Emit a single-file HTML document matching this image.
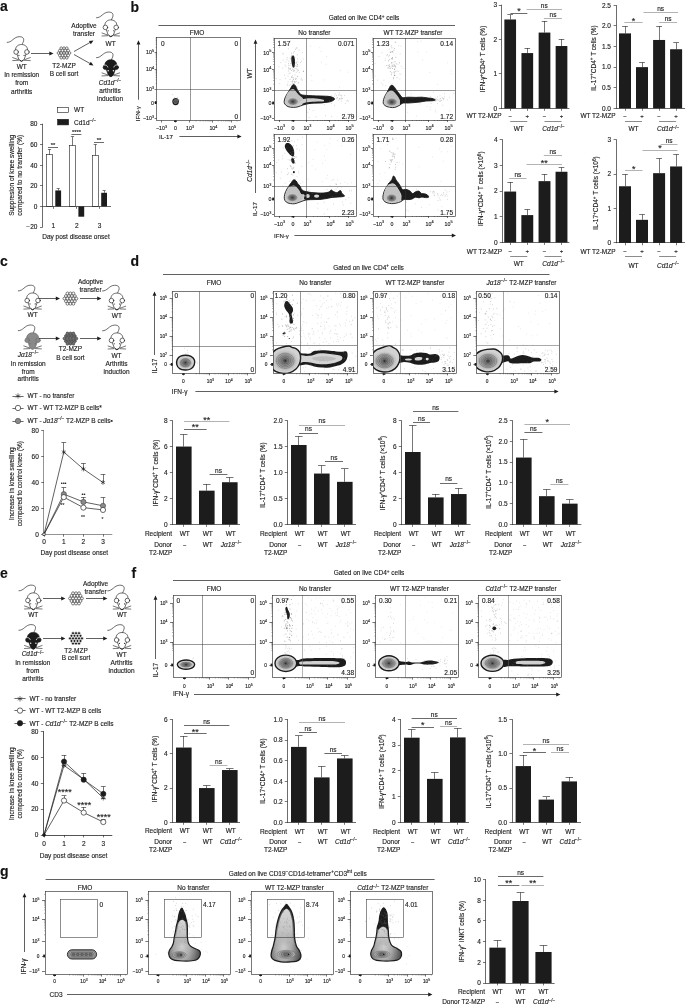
<!DOCTYPE html>
<html><head><meta charset="utf-8"><title>Figure</title>
<style>
html,body{margin:0;padding:0;background:#fff}
svg{display:block}
text{font-family:"Liberation Sans",sans-serif;stroke:#1c1c1c;stroke-width:.14px}
</style></head><body>
<svg width="685" height="1005" viewBox="0 0 685 1005">
<rect width="685" height="1005" fill="#fff"/>
<g font-family="Liberation Sans, sans-serif" font-size="6.5" fill="#1c1c1c">
<text font-weight="bold" fill="#111" font-size="14.00" x="0.00" y="11.00">a</text>
<text font-weight="bold" fill="#111" font-size="14.00" x="130.50" y="11.50">b</text>
<text font-weight="bold" fill="#111" font-size="14.00" x="0.00" y="266.00">c</text>
<text font-weight="bold" fill="#111" font-size="14.00" x="130.50" y="266.00">d</text>
<text font-weight="bold" fill="#111" font-size="14.00" x="0.00" y="577.60">e</text>
<text font-weight="bold" fill="#111" font-size="14.00" x="131.50" y="577.60">f</text>
<text font-weight="bold" fill="#111" font-size="14.00" x="0.00" y="876.00">g</text>
<g transform="translate(21.50 52.00) scale(1.000)" stroke="#1c1c1c" stroke-width="0.65" fill="none" stroke-linecap="round" stroke-linejoin="round">
<path d="M-14.3,-9.6 C-9.5,-9.4 -8,-15 -2.5,-15.3 C1.5,-15.4 2.6,-13.6 2.1,-11.2 C1.8,-9.6 1,-9 0.6,-7.4"/>
<path d="M-6,-1.8 C-6.2,-5.6 -3.2,-7.5 0,-7.5 C3.2,-7.5 6.2,-5.6 6,-1.8 L4.6,2 L2.6,7.6 Q0,10.6 -2.6,7.6 L-4.6,2 Z" fill="#fff" stroke="#1c1c1c"/>
<circle cx="-5.4" cy="0" r="2.3" fill="#fff" stroke="#1c1c1c"/>
<circle cx="5.4" cy="0" r="2.3" fill="#fff" stroke="#1c1c1c"/>
<circle cx="-2.6" cy="3.4" r="0.55" fill="#1c1c1c" stroke="none"/><circle cx="2.6" cy="3.4" r="0.55" fill="#1c1c1c" stroke="none"/>
<path d="M-8.8,5.6 L-3.2,7.6 M-8.8,8.6 L-3,8.3 M8.8,5.6 L3.2,7.6 M8.8,8.6 L3,8.3" stroke-width="0.6"/>
<path d="M-1.6,8.6 Q0,10.4 1.6,8.6" stroke-width="0.9"/>
</g>
<text text-anchor="middle" x="21.70" y="69.00">WT</text>
<text text-anchor="middle" x="21.70" y="77.40">In remission</text>
<text text-anchor="middle" x="21.70" y="85.40">from</text>
<text text-anchor="middle" x="21.70" y="93.60">arthritis</text>
<line x1="31.00" y1="53.50" x2="49.80" y2="53.50" stroke="#1c1c1c" stroke-width="0.70"/>
<polygon points="53.50,53.50 49.30,55.40 49.30,51.60" fill="#1c1c1c"/>
<g fill="#fff" stroke="#1c1c1c" stroke-width="0.55">
<circle cx="61.20" cy="48.15" r="1.30"/>
<circle cx="64.00" cy="48.15" r="1.30"/>
<circle cx="66.80" cy="48.15" r="1.30"/>
<circle cx="59.80" cy="50.58" r="1.30"/>
<circle cx="62.60" cy="50.58" r="1.30"/>
<circle cx="65.40" cy="50.58" r="1.30"/>
<circle cx="68.20" cy="50.58" r="1.30"/>
<circle cx="58.40" cy="53.00" r="1.30"/>
<circle cx="61.20" cy="53.00" r="1.30"/>
<circle cx="64.00" cy="53.00" r="1.30"/>
<circle cx="66.80" cy="53.00" r="1.30"/>
<circle cx="69.60" cy="53.00" r="1.30"/>
<circle cx="59.80" cy="55.42" r="1.30"/>
<circle cx="62.60" cy="55.42" r="1.30"/>
<circle cx="65.40" cy="55.42" r="1.30"/>
<circle cx="68.20" cy="55.42" r="1.30"/>
<circle cx="61.20" cy="57.85" r="1.30"/>
<circle cx="64.00" cy="57.85" r="1.30"/>
<circle cx="66.80" cy="57.85" r="1.30"/>
</g>
<text text-anchor="middle" x="64.00" y="68.00">T2-MZP</text>
<text text-anchor="middle" x="64.00" y="76.00">B cell sort</text>
<line x1="74.00" y1="51.50" x2="90.28" y2="42.32" stroke="#1c1c1c" stroke-width="0.70"/>
<polygon points="93.50,40.50 90.78,44.22 88.91,40.91" fill="#1c1c1c"/>
<line x1="74.00" y1="54.50" x2="90.28" y2="63.68" stroke="#1c1c1c" stroke-width="0.70"/>
<polygon points="93.50,65.50 88.91,65.09 90.78,61.78" fill="#1c1c1c"/>
<text text-anchor="middle" x="84.00" y="27.60">Adoptive</text>
<text text-anchor="middle" x="84.00" y="35.60">transfer</text>
<g transform="translate(110.80 27.40) scale(1.000)" stroke="#1c1c1c" stroke-width="0.65" fill="none" stroke-linecap="round" stroke-linejoin="round">
<path d="M-14.3,-9.6 C-9.5,-9.4 -8,-15 -2.5,-15.3 C1.5,-15.4 2.6,-13.6 2.1,-11.2 C1.8,-9.6 1,-9 0.6,-7.4"/>
<path d="M-6,-1.8 C-6.2,-5.6 -3.2,-7.5 0,-7.5 C3.2,-7.5 6.2,-5.6 6,-1.8 L4.6,2 L2.6,7.6 Q0,10.6 -2.6,7.6 L-4.6,2 Z" fill="#fff" stroke="#1c1c1c"/>
<circle cx="-5.4" cy="0" r="2.3" fill="#fff" stroke="#1c1c1c"/>
<circle cx="5.4" cy="0" r="2.3" fill="#fff" stroke="#1c1c1c"/>
<circle cx="-2.6" cy="3.4" r="0.55" fill="#1c1c1c" stroke="none"/><circle cx="2.6" cy="3.4" r="0.55" fill="#1c1c1c" stroke="none"/>
<path d="M-8.8,5.6 L-3.2,7.6 M-8.8,8.6 L-3,8.3 M8.8,5.6 L3.2,7.6 M8.8,8.6 L3,8.3" stroke-width="0.6"/>
<path d="M-1.6,8.6 Q0,10.4 1.6,8.6" stroke-width="0.9"/>
</g>
<text text-anchor="middle" x="110.60" y="45.80">WT</text>
<g transform="translate(110.80 67.30) scale(1.000)" stroke="#1c1c1c" stroke-width="0.65" fill="none" stroke-linecap="round" stroke-linejoin="round">
<path d="M-14.3,-9.6 C-9.5,-9.4 -8,-15 -2.5,-15.3 C1.5,-15.4 2.6,-13.6 2.1,-11.2 C1.8,-9.6 1,-9 0.6,-7.4"/>
<path d="M-6,-1.8 C-6.2,-5.6 -3.2,-7.5 0,-7.5 C3.2,-7.5 6.2,-5.6 6,-1.8 L4.6,2 L2.6,7.6 Q0,10.6 -2.6,7.6 L-4.6,2 Z" fill="#1c1c1c" stroke="#1c1c1c"/>
<circle cx="-5.4" cy="0" r="2.3" fill="#1c1c1c" stroke="#1c1c1c"/>
<circle cx="5.4" cy="0" r="2.3" fill="#1c1c1c" stroke="#1c1c1c"/>
<path d="M-6.6,-2.2 A2.6,2.6 0 0 1 -3,-0.2 M6.6,-2.2 A2.6,2.6 0 0 0 3,-0.2" stroke="#fff" stroke-width="0.7"/>
<circle cx="-2.6" cy="3.4" r="0.70" fill="#fff" stroke="none"/><circle cx="2.6" cy="3.4" r="0.70" fill="#fff" stroke="none"/>
<path d="M-8.8,5.6 L-3.2,7.6 M-8.8,8.6 L-3,8.3 M8.8,5.6 L3.2,7.6 M8.8,8.6 L3,8.3" stroke-width="0.6"/>
<path d="M-1.6,8.6 Q0,10.4 1.6,8.6" stroke-width="0.9"/>
</g>
<text text-anchor="middle" x="110.00" y="85.00"><tspan font-style="italic">Cd1d</tspan><tspan dy="-2.60" font-size="4.68">−/−</tspan></text>
<text text-anchor="middle" x="110.00" y="93.20">arthritis</text>
<text text-anchor="middle" x="110.00" y="101.00">induction</text>
<rect x="57.50" y="107.50" width="11.00" height="5.00" fill="#fff" stroke="#1c1c1c" stroke-width="0.60"/>
<text x="74.00" y="112.40">WT</text>
<rect x="57.60" y="119.30" width="11.00" height="5.60" fill="#1c1c1c" stroke="#1c1c1c" stroke-width="0.60"/>
<text x="74.00" y="125.00">Cd1d<tspan dy="-2.60" font-size="4.68">−/−</tspan></text>
<rect x="46.50" y="154.50" width="6.00" height="52.00" fill="#fff" stroke="#1c1c1c" stroke-width="0.60"/>
<line x1="49.50" y1="154.90" x2="49.50" y2="149.44" stroke="#1c1c1c" stroke-width="0.60"/>
<line x1="47.90" y1="149.50" x2="51.10" y2="149.50" stroke="#1c1c1c" stroke-width="0.60"/>
<rect x="69.50" y="145.50" width="6.00" height="61.00" fill="#fff" stroke="#1c1c1c" stroke-width="0.60"/>
<line x1="72.50" y1="145.63" x2="72.50" y2="136.77" stroke="#1c1c1c" stroke-width="0.60"/>
<line x1="70.90" y1="136.50" x2="74.10" y2="136.50" stroke="#1c1c1c" stroke-width="0.60"/>
<rect x="92.50" y="155.50" width="6.00" height="51.00" fill="#fff" stroke="#1c1c1c" stroke-width="0.60"/>
<line x1="95.50" y1="155.62" x2="95.50" y2="144.60" stroke="#1c1c1c" stroke-width="0.60"/>
<line x1="93.70" y1="144.50" x2="96.90" y2="144.50" stroke="#1c1c1c" stroke-width="0.60"/>
<rect x="55.30" y="190.44" width="5.80" height="15.97" fill="#1c1c1c"/>
<line x1="58.50" y1="190.44" x2="58.50" y2="188.89" stroke="#1c1c1c" stroke-width="0.60"/>
<line x1="56.70" y1="188.50" x2="59.70" y2="188.50" stroke="#1c1c1c" stroke-width="0.60"/>
<rect x="78.40" y="206.40" width="5.80" height="10.30" fill="#1c1c1c"/>
<rect x="101.20" y="192.80" width="5.80" height="13.60" fill="#1c1c1c"/>
<line x1="104.50" y1="192.80" x2="104.50" y2="190.95" stroke="#1c1c1c" stroke-width="0.60"/>
<line x1="102.60" y1="190.50" x2="105.60" y2="190.50" stroke="#1c1c1c" stroke-width="0.60"/>
<line x1="42.50" y1="123.70" x2="42.50" y2="227.30" stroke="#1c1c1c" stroke-width="0.65"/>
<line x1="42.60" y1="206.50" x2="111.00" y2="206.50" stroke="#1c1c1c" stroke-width="0.65"/>
<line x1="40.00" y1="124.50" x2="42.60" y2="124.50" stroke="#1c1c1c" stroke-width="0.60"/>
<text text-anchor="end" x="37.40" y="126.30">80</text>
<line x1="40.00" y1="144.50" x2="42.60" y2="144.50" stroke="#1c1c1c" stroke-width="0.60"/>
<text text-anchor="end" x="37.40" y="146.90">60</text>
<line x1="40.00" y1="165.50" x2="42.60" y2="165.50" stroke="#1c1c1c" stroke-width="0.60"/>
<text text-anchor="end" x="37.40" y="167.50">40</text>
<line x1="40.00" y1="185.50" x2="42.60" y2="185.50" stroke="#1c1c1c" stroke-width="0.60"/>
<text text-anchor="end" x="37.40" y="188.10">20</text>
<line x1="40.00" y1="206.50" x2="42.60" y2="206.50" stroke="#1c1c1c" stroke-width="0.60"/>
<text text-anchor="end" x="37.40" y="208.70">0</text>
<line x1="40.00" y1="227.50" x2="42.60" y2="227.50" stroke="#1c1c1c" stroke-width="0.60"/>
<text text-anchor="end" x="37.40" y="229.30">−20</text>
<line x1="53.50" y1="206.40" x2="53.50" y2="208.80" stroke="#1c1c1c" stroke-width="0.60"/>
<text text-anchor="middle" x="53.40" y="228.40">1</text>
<line x1="76.50" y1="206.40" x2="76.50" y2="208.80" stroke="#1c1c1c" stroke-width="0.60"/>
<text text-anchor="middle" x="76.80" y="228.40">2</text>
<line x1="99.50" y1="206.40" x2="99.50" y2="208.80" stroke="#1c1c1c" stroke-width="0.60"/>
<text text-anchor="middle" x="99.60" y="228.40">3</text>
<text text-anchor="middle" x="76.00" y="238.80">Day post disease onset</text>
<text text-anchor="middle" transform="translate(13.60 175.30) rotate(-90)">Suppresion of knee swelling</text>
<text text-anchor="middle" transform="translate(22.00 175.30) rotate(-90)">compared to no transfer (%)</text>
<line x1="48.00" y1="147.50" x2="58.00" y2="147.50" stroke="#1c1c1c" stroke-width="0.65"/>
<text text-anchor="middle" font-size="5.80" x="53.00" y="147.00">**</text>
<line x1="71.40" y1="134.50" x2="81.40" y2="134.50" stroke="#1c1c1c" stroke-width="0.65"/>
<text text-anchor="middle" font-size="5.80" x="76.40" y="134.00">****</text>
<line x1="94.00" y1="142.50" x2="104.00" y2="142.50" stroke="#1c1c1c" stroke-width="0.65"/>
<text text-anchor="middle" font-size="5.80" x="99.00" y="142.00">**</text>
<line x1="158.40" y1="25.50" x2="455.00" y2="25.50" stroke="#1c1c1c" stroke-width="0.70"/>
<text text-anchor="middle" x="364.00" y="20.40">Gated on live CD4<tspan dy="-2.60" font-size="4.68">+</tspan><tspan dy="2.60"> cells</tspan></text>
<text text-anchor="middle" x="197.00" y="34.60">FMO</text>
<text text-anchor="middle" x="314.40" y="34.60">No transfer</text>
<text text-anchor="middle" x="413.00" y="34.60">WT T2-MZP transfer</text>
<ellipse cx="175.60" cy="101.60" rx="3.30" ry="3.60" fill="#1c1c1c"/>
<ellipse cx="175.60" cy="101.60" rx="2.10" ry="2.40" fill="#9a9a9a"/>
<ellipse cx="175.60" cy="101.60" rx="1.98" ry="2.16" fill="#7a7a7a" stroke="#1c1c1c" stroke-width="0.28"/>
<ellipse cx="175.60" cy="101.60" rx="1.15" ry="1.26" fill="#555" stroke="#1c1c1c" stroke-width="0.28"/>
<path d="M175.9 100.3h.01M176.0 98.2h.01M174.5 98.5h.01M178.9 100.1h.01M178.8 99.6h.01M177.4 99.5h.01M172.8 101.1h.01M177.6 100.2h.01M172.8 94.6h.01M174.5 97.8h.01M177.2 98.9h.01M177.6 97.4h.01M177.2 100.0h.01M175.0 103.3h.01" stroke="#888" stroke-width="0.45" stroke-linecap="round" fill="none"/>
<line x1="190.50" y1="37.50" x2="190.50" y2="120.50" stroke="#333" stroke-width="0.50"/>
<line x1="156.60" y1="89.50" x2="240.00" y2="89.50" stroke="#333" stroke-width="0.50"/>
<rect x="156.50" y="37.50" width="84.00" height="83.00" fill="none" stroke="#333" stroke-width="0.65"/>
<line x1="154.60" y1="52.50" x2="156.60" y2="52.50" stroke="#1c1c1c" stroke-width="0.60"/>
<text text-anchor="end" font-size="5.30" x="154.00" y="54.31">10<tspan dy="-2.12" font-size="3.82">5</tspan></text>
<line x1="154.60" y1="69.50" x2="156.60" y2="69.50" stroke="#1c1c1c" stroke-width="0.60"/>
<text text-anchor="end" font-size="5.30" x="154.00" y="71.31">10<tspan dy="-2.12" font-size="3.82">4</tspan></text>
<line x1="154.60" y1="89.50" x2="156.60" y2="89.50" stroke="#1c1c1c" stroke-width="0.60"/>
<text text-anchor="end" font-size="5.30" x="154.00" y="91.31">10<tspan dy="-2.12" font-size="3.82">3</tspan></text>
<line x1="154.60" y1="102.50" x2="156.60" y2="102.50" stroke="#1c1c1c" stroke-width="0.60"/>
<text text-anchor="end" font-size="5.30" x="154.00" y="104.51">0</text>
<line x1="154.60" y1="118.50" x2="156.60" y2="118.50" stroke="#1c1c1c" stroke-width="0.60"/>
<text text-anchor="end" font-size="5.30" x="154.00" y="119.91">−10<tspan dy="-2.12" font-size="3.82">3</tspan></text>
<line x1="161.50" y1="120.50" x2="161.50" y2="122.50" stroke="#1c1c1c" stroke-width="0.60"/>
<text text-anchor="middle" font-size="5.30" x="161.60" y="130.10">−10<tspan dy="-2.12" font-size="3.82">3</tspan></text>
<line x1="175.50" y1="120.50" x2="175.50" y2="122.50" stroke="#1c1c1c" stroke-width="0.60"/>
<text text-anchor="middle" font-size="5.30" x="175.40" y="130.10">0</text>
<line x1="189.50" y1="120.50" x2="189.50" y2="122.50" stroke="#1c1c1c" stroke-width="0.60"/>
<text text-anchor="middle" font-size="5.30" x="190.00" y="130.10">10<tspan dy="-2.12" font-size="3.82">3</tspan></text>
<line x1="212.50" y1="120.50" x2="212.50" y2="122.50" stroke="#1c1c1c" stroke-width="0.60"/>
<text text-anchor="middle" font-size="5.30" x="213.40" y="130.10">10<tspan dy="-2.12" font-size="3.82">4</tspan></text>
<line x1="231.50" y1="120.50" x2="231.50" y2="122.50" stroke="#1c1c1c" stroke-width="0.60"/>
<text text-anchor="middle" font-size="5.30" x="232.20" y="130.10">10<tspan dy="-2.12" font-size="3.82">5</tspan></text>
<path d="M155.6,47.3h1M155.6,44.3h1M155.6,42.2h1M155.6,40.5h1M155.6,39.2h1M155.6,38.0h1M155.6,64.3h1M155.6,61.3h1M155.6,59.2h1M155.6,57.5h1M155.6,56.2h1M155.6,55.0h1M155.6,54.0h1M155.6,53.2h1M155.6,83.4h1M155.6,79.9h1M155.6,77.4h1M155.6,75.4h1M155.6,73.8h1M155.6,72.5h1M155.6,71.3h1M155.6,70.3h1M196.0,120.5v1M200.2,120.5v1M203.1,120.5v1M205.4,120.5v1M207.2,120.5v1M208.8,120.5v1M210.1,120.5v1M211.3,120.5v1M218.1,120.5v1M221.4,120.5v1M223.7,120.5v1M225.5,120.5v1M227.0,120.5v1M228.3,120.5v1M229.4,120.5v1M230.3,120.5v1M236.9,120.5v1" stroke="#1c1c1c" stroke-width="0.35" fill="none"/>
<rect x="154.80" y="101.20" width="1.80" height="2.80" fill="#1c1c1c"/>
<rect x="174.00" y="120.50" width="2.80" height="1.40" fill="#1c1c1c"/>
<text x="161.00" y="45.80">0</text>
<text text-anchor="end" x="238.20" y="45.80">0</text>
<text text-anchor="end" x="238.20" y="119.00">0</text>
<text font-size="6.10" transform="translate(140.00 121.20) rotate(-90)">IFN-γ</text>
<line x1="138.50" y1="99.70" x2="138.50" y2="44.00" stroke="#1c1c1c" stroke-width="0.70"/>
<polygon points="138.50,40.30 140.40,44.50 136.60,44.50" fill="#1c1c1c"/>
<text font-size="6.10" x="159.00" y="138.50">IL-17</text>
<line x1="179.40" y1="136.50" x2="237.90" y2="136.50" stroke="#1c1c1c" stroke-width="0.70"/>
<polygon points="241.60,136.50 237.40,138.40 237.40,134.60" fill="#1c1c1c"/>
<path d="M293.9,84.6C294.4,84.7 295.1,85.2 295.6,86.0C296.2,86.8 296.4,88.1 297.2,89.5C298.0,90.9 299.1,93.2 300.6,94.2C302.1,95.2 302.8,95.1 306.0,95.4C309.2,95.7 316.0,95.8 320.0,96.0C324.0,96.2 327.6,96.1 330.0,96.6C332.4,97.1 334.6,98.1 334.6,99.0C334.6,99.9 332.4,101.2 330.0,101.8C327.6,102.4 323.3,102.5 320.0,102.8C316.7,103.1 312.8,103.0 310.0,103.4C307.2,103.8 305.0,104.4 303.0,105.0C301.0,105.6 299.6,106.4 298.0,106.8C296.4,107.2 295.1,107.4 293.4,107.4C291.7,107.4 289.4,107.2 288.0,106.6C286.6,106.0 285.4,104.9 284.8,104.0C284.2,103.1 284.1,102.5 284.2,101.2C284.3,100.0 284.8,98.2 285.6,96.5C286.4,94.8 288.0,92.6 289.0,91.0C290.0,89.4 290.8,88.0 291.4,87.0C292.0,86.0 292.0,85.6 292.4,85.2C292.8,84.8 293.4,84.5 293.9,84.6Z" fill="#cfcfcf" stroke="#1c1c1c" stroke-width="0.90" stroke-linejoin="round"/>
<path d="M293.9,84.6C294.4,84.7 295.1,85.2 295.6,86.0C296.2,86.8 296.4,88.1 297.2,89.5C298.0,90.9 299.1,93.2 300.6,94.2C302.1,95.2 302.8,95.1 306.0,95.4C309.2,95.7 316.0,95.8 320.0,96.0C324.0,96.2 327.6,96.1 330.0,96.6C332.4,97.1 334.6,98.1 334.6,99.0C334.6,99.9 331.8,101.2 330.0,101.8C328.2,102.4 325.1,102.7 324.0,102.4C322.9,102.1 324.9,100.5 323.6,99.8C322.3,99.1 318.6,98.7 316.0,98.4C313.4,98.1 310.4,98.1 308.0,98.2C305.6,98.3 303.3,99.3 301.6,99.0C299.9,98.7 299.0,97.7 298.0,96.6C297.0,95.5 296.3,93.4 295.6,92.4C294.9,91.4 294.4,90.6 293.6,90.4C292.8,90.2 291.6,91.0 290.8,91.2C290.0,91.4 288.7,92.1 288.8,91.4C288.9,90.7 290.8,88.0 291.4,87.0C292.0,86.0 292.0,85.6 292.4,85.2C292.8,84.8 293.4,84.5 293.9,84.6Z" fill="#1c1c1c" stroke-linejoin="round"/>
<path d="M303.0,103.4C304.2,102.9 307.2,102.3 310.0,102.0C312.8,101.7 317.3,101.7 320.0,101.6C322.7,101.5 325.3,101.4 326.0,101.6C326.7,101.8 325.7,102.6 324.0,102.9C322.3,103.2 318.7,103.1 316.0,103.2C313.3,103.3 310.2,103.5 308.0,103.8C305.8,104.1 303.8,105.1 303.0,105.0C302.2,104.9 301.8,103.9 303.0,103.4Z" fill="#1c1c1c" stroke-linejoin="round"/>
<path d="M288.6,91.8C289.9,90.3 291.9,88.7 293.6,89.2C295.3,89.7 297.4,93.4 299.0,95.0C300.6,96.6 302.8,97.4 303.0,98.6C303.2,99.8 301.2,100.9 300.0,102.0C298.8,103.1 297.7,104.8 296.0,105.4C294.3,106.0 291.7,106.2 290.0,105.8C288.3,105.4 286.7,104.3 286.0,103.0C285.3,101.7 285.4,99.9 285.8,98.0C286.2,96.1 287.3,93.3 288.6,91.8Z" fill="#c2c2c2" stroke-linejoin="round"/>
<ellipse cx="292.90" cy="101.60" rx="5.20" ry="3.40" fill="#b4b4b4"/>
<ellipse cx="292.90" cy="101.60" rx="4.26" ry="2.79" fill="#a0a0a0" stroke="#222" stroke-width="0.22"/>
<ellipse cx="292.90" cy="101.60" rx="3.33" ry="2.18" fill="#8c8c8c" stroke="#222" stroke-width="0.22"/>
<ellipse cx="292.90" cy="101.60" rx="2.39" ry="1.56" fill="#787878" stroke="#222" stroke-width="0.22"/>
<ellipse cx="292.90" cy="101.60" rx="1.56" ry="1.02" fill="#5e5e5e" stroke="#222" stroke-width="0.22"/>
<ellipse cx="292.90" cy="101.60" rx="0.68" ry="0.44" fill="#333" stroke="#222" stroke-width="0.22"/>
<path d="M291.6,56.4C292.0,55.5 293.1,55.2 293.6,55.6C294.1,56.0 294.6,57.8 294.8,59.0C295.0,60.2 295.1,61.7 295.0,63.0C294.9,64.3 294.7,66.2 294.4,67.0C294.1,67.8 293.4,67.9 293.0,67.6C292.6,67.3 292.3,66.1 292.0,65.0C291.7,63.9 291.5,62.4 291.4,61.0C291.3,59.6 291.2,57.3 291.6,56.4Z" fill="#1c1c1c" stroke-linejoin="round"/>
<path d="M294.7 70.4h.01M291.1 56.8h.01M292.0 61.3h.01M294.9 63.7h.01M291.7 55.3h.01M291.4 70.5h.01M290.6 63.7h.01M294.3 51.6h.01M293.1 71.1h.01M287.0 59.7h.01M292.7 56.3h.01M294.5 61.6h.01M288.6 67.8h.01M295.0 68.6h.01M297.3 64.5h.01M293.4 52.9h.01M294.8 57.7h.01M291.6 53.1h.01M290.1 58.3h.01M296.9 47.8h.01M288.6 63.7h.01M297.3 66.0h.01M287.3 44.4h.01M294.1 56.8h.01M289.6 68.8h.01M296.3 63.1h.01M293.7 65.0h.01M297.8 66.3h.01M294.6 65.8h.01M288.3 71.0h.01M295.9 65.7h.01M287.1 57.6h.01M295.5 49.3h.01M292.4 69.1h.01M289.1 73.3h.01M294.7 60.9h.01M294.0 66.5h.01M293.4 70.0h.01M291.0 59.1h.01M296.1 62.2h.01M290.4 68.6h.01M297.4 58.9h.01M288.9 61.1h.01M292.6 59.9h.01M297.2 54.8h.01" stroke="#666" stroke-width="0.40" stroke-linecap="round" fill="none"/>
<path d="M298.4 70.4h.01M291.2 81.8h.01M298.0 83.2h.01M295.2 78.9h.01M294.5 81.5h.01M293.4 79.7h.01M296.0 78.0h.01M296.7 81.4h.01M301.0 79.9h.01M292.5 75.8h.01M294.0 83.5h.01M292.8 80.3h.01M300.4 62.6h.01M290.1 79.5h.01M295.4 79.4h.01M292.5 81.9h.01M295.0 74.9h.01M302.5 80.1h.01M292.1 77.4h.01M293.2 77.6h.01M284.5 75.1h.01M297.5 71.0h.01M293.8 83.7h.01M297.0 86.9h.01M288.0 75.9h.01M292.8 81.7h.01M297.8 61.9h.01M297.8 69.3h.01M296.4 69.0h.01M294.6 85.2h.01M293.5 79.1h.01M296.8 78.8h.01M293.7 87.2h.01M297.7 76.2h.01M303.6 71.1h.01M297.2 76.4h.01M294.5 82.2h.01M294.8 81.8h.01M288.7 68.9h.01M296.2 72.2h.01M290.4 69.2h.01M298.4 82.5h.01M299.2 72.4h.01M294.0 71.2h.01M296.7 87.5h.01" stroke="#777" stroke-width="0.40" stroke-linecap="round" fill="none"/>
<path d="M285.3 78.4h.01M303.2 59.0h.01M287.2 85.4h.01M296.3 48.2h.01M279.6 47.3h.01M301.3 78.7h.01M280.1 79.7h.01M303.4 71.5h.01M285.8 66.3h.01M279.7 40.7h.01M303.2 71.2h.01M290.7 84.8h.01M288.1 81.8h.01M299.1 50.1h.01M283.1 54.1h.01M282.7 68.1h.01M283.3 60.1h.01M279.7 83.7h.01M285.9 62.0h.01M292.3 83.4h.01M287.8 84.1h.01M290.0 65.5h.01M290.7 40.9h.01M288.3 48.8h.01M276.1 78.4h.01M280.8 62.7h.01M296.3 66.7h.01M285.1 64.9h.01M291.6 77.6h.01M279.0 66.9h.01M283.0 53.3h.01M297.6 64.4h.01M291.7 76.5h.01M301.5 61.3h.01M293.2 64.3h.01M290.3 73.3h.01M288.7 65.6h.01M289.4 85.2h.01M295.6 82.1h.01M302.4 52.5h.01" stroke="#777" stroke-width="0.35" stroke-linecap="round" fill="none"/>
<path d="M331.7 116.5h.01M344.6 95.6h.01M311.6 103.5h.01M309.3 98.3h.01M309.4 109.4h.01M342.1 115.3h.01M313.1 110.6h.01M336.4 95.7h.01M346.6 117.2h.01M316.1 116.8h.01M324.3 104.7h.01M351.5 113.6h.01M313.4 103.2h.01M329.7 100.8h.01M315.0 100.3h.01M339.2 92.5h.01M331.5 103.5h.01M306.8 100.6h.01M334.7 105.3h.01M309.0 117.6h.01M342.3 117.3h.01M310.8 98.9h.01M307.8 112.3h.01M318.4 95.4h.01M325.4 115.7h.01" stroke="#777" stroke-width="0.35" stroke-linecap="round" fill="none"/>
<path d="M341.3 95.9h.01M345.3 103.4h.01M334.4 96.0h.01M341.2 98.6h.01M338.4 95.1h.01M348.5 101.1h.01M335.2 94.0h.01M346.8 101.0h.01M347.3 100.4h.01M336.5 98.8h.01M331.4 95.8h.01M339.8 99.6h.01M337.1 97.6h.01M341.8 99.1h.01M342.6 98.6h.01M338.7 100.4h.01M340.2 95.5h.01M337.5 98.0h.01M339.6 98.5h.01M340.0 98.5h.01M339.5 94.2h.01M341.7 101.2h.01M341.7 97.4h.01M341.8 95.1h.01M332.4 98.2h.01" stroke="#777" stroke-width="0.35" stroke-linecap="round" fill="none"/>
<path d="M326.1 64.3h.01M339.6 87.2h.01M323.8 79.9h.01M340.5 70.5h.01M326.6 56.7h.01M310.5 46.2h.01M311.3 75.6h.01M319.8 47.8h.01M311.9 80.4h.01M348.0 72.2h.01M321.0 51.6h.01M321.5 62.1h.01" stroke="#999" stroke-width="0.30" stroke-linecap="round" fill="none"/>
<line x1="306.50" y1="38.00" x2="306.50" y2="120.00" stroke="#333" stroke-width="0.50"/>
<line x1="274.00" y1="90.50" x2="356.40" y2="90.50" stroke="#333" stroke-width="0.50"/>
<rect x="274.50" y="38.50" width="82.00" height="82.00" fill="none" stroke="#333" stroke-width="0.65"/>
<line x1="272.00" y1="52.50" x2="274.00" y2="52.50" stroke="#1c1c1c" stroke-width="0.60"/>
<text text-anchor="end" font-size="5.30" x="271.40" y="54.51">10<tspan dy="-2.12" font-size="3.82">5</tspan></text>
<line x1="272.00" y1="69.50" x2="274.00" y2="69.50" stroke="#1c1c1c" stroke-width="0.60"/>
<text text-anchor="end" font-size="5.30" x="271.40" y="71.51">10<tspan dy="-2.12" font-size="3.82">4</tspan></text>
<line x1="272.00" y1="90.50" x2="274.00" y2="90.50" stroke="#1c1c1c" stroke-width="0.60"/>
<text text-anchor="end" font-size="5.30" x="271.40" y="92.31">10<tspan dy="-2.12" font-size="3.82">3</tspan></text>
<line x1="272.00" y1="103.50" x2="274.00" y2="103.50" stroke="#1c1c1c" stroke-width="0.60"/>
<text text-anchor="end" font-size="5.30" x="271.40" y="104.91">0</text>
<line x1="272.00" y1="118.50" x2="274.00" y2="118.50" stroke="#1c1c1c" stroke-width="0.60"/>
<text text-anchor="end" font-size="5.30" x="271.40" y="119.91">−10<tspan dy="-2.12" font-size="3.82">3</tspan></text>
<line x1="279.50" y1="120.00" x2="279.50" y2="122.00" stroke="#1c1c1c" stroke-width="0.60"/>
<text text-anchor="middle" font-size="5.30" x="279.50" y="129.60">−10<tspan dy="-2.12" font-size="3.82">3</tspan></text>
<line x1="293.50" y1="120.00" x2="293.50" y2="122.00" stroke="#1c1c1c" stroke-width="0.60"/>
<text text-anchor="middle" font-size="5.30" x="293.00" y="129.60">0</text>
<line x1="306.50" y1="120.00" x2="306.50" y2="122.00" stroke="#1c1c1c" stroke-width="0.60"/>
<text text-anchor="middle" font-size="5.30" x="307.40" y="129.60">10<tspan dy="-2.12" font-size="3.82">3</tspan></text>
<line x1="329.50" y1="120.00" x2="329.50" y2="122.00" stroke="#1c1c1c" stroke-width="0.60"/>
<text text-anchor="middle" font-size="5.30" x="330.50" y="129.60">10<tspan dy="-2.12" font-size="3.82">4</tspan></text>
<line x1="348.50" y1="120.00" x2="348.50" y2="122.00" stroke="#1c1c1c" stroke-width="0.60"/>
<text text-anchor="middle" font-size="5.30" x="349.50" y="129.60">10<tspan dy="-2.12" font-size="3.82">5</tspan></text>
<path d="M273.0,47.5h1M273.0,44.5h1M273.0,42.4h1M273.0,40.7h1M273.0,39.4h1M273.0,38.2h1M273.0,64.5h1M273.0,61.5h1M273.0,59.4h1M273.0,57.7h1M273.0,56.4h1M273.0,55.2h1M273.0,54.2h1M273.0,53.4h1M273.0,84.1h1M273.0,80.5h1M273.0,77.9h1M273.0,75.9h1M273.0,74.2h1M273.0,72.8h1M273.0,71.6h1M273.0,70.6h1M313.4,120.0v1M317.4,120.0v1M320.3,120.0v1M322.5,120.0v1M324.4,120.0v1M325.9,120.0v1M327.3,120.0v1M328.4,120.0v1M335.2,120.0v1M338.6,120.0v1M340.9,120.0v1M342.8,120.0v1M344.3,120.0v1M345.6,120.0v1M346.7,120.0v1M347.6,120.0v1M354.2,120.0v1" stroke="#1c1c1c" stroke-width="0.35" fill="none"/>
<rect x="272.20" y="101.60" width="1.80" height="2.80" fill="#1c1c1c"/>
<rect x="291.60" y="120.00" width="2.80" height="1.40" fill="#1c1c1c"/>
<text x="277.60" y="46.20">1.57</text>
<text text-anchor="end" x="354.40" y="46.20">0.071</text>
<text text-anchor="end" x="354.40" y="119.00">2.79</text>
<path d="M391.9,85.3C392.4,85.4 393.2,85.8 393.8,86.4C394.4,87.0 394.7,87.7 395.6,89.0C396.5,90.3 398.2,92.6 399.4,94.0C400.6,95.4 401.2,97.1 402.6,97.6C404.0,98.1 405.8,97.2 408.0,97.2C410.2,97.2 413.7,97.4 416.0,97.4C418.3,97.4 420.0,97.1 422.0,97.2C424.0,97.3 426.3,97.8 428.0,98.0C429.7,98.2 430.8,98.1 432.0,98.4C433.2,98.7 435.4,99.6 435.4,100.0C435.4,100.4 433.6,100.6 432.0,100.8C430.4,101.0 428.0,100.8 426.0,101.0C424.0,101.2 422.0,101.7 420.0,102.0C418.0,102.3 416.0,102.4 414.0,102.6C412.0,102.8 409.8,102.9 408.0,103.0C406.2,103.1 404.3,102.7 403.0,103.0C401.7,103.3 401.2,104.3 400.0,105.0C398.8,105.7 397.3,106.6 396.0,107.0C394.7,107.4 393.9,107.7 392.4,107.6C390.9,107.5 388.4,107.1 387.0,106.6C385.6,106.1 384.4,105.2 383.8,104.4C383.2,103.6 383.1,102.9 383.2,101.6C383.3,100.3 383.9,98.3 384.6,96.6C385.3,94.9 386.8,92.9 387.6,91.4C388.4,89.9 389.1,88.3 389.6,87.4C390.1,86.5 390.2,86.2 390.6,85.8C391.0,85.4 391.4,85.2 391.9,85.3Z" fill="#cfcfcf" stroke="#1c1c1c" stroke-width="0.90" stroke-linejoin="round"/>
<path d="M391.9,85.3C392.4,85.4 393.2,85.8 393.8,86.4C394.4,87.0 394.7,87.7 395.6,89.0C396.5,90.3 398.2,92.6 399.4,94.0C400.6,95.4 401.2,97.1 402.6,97.6C404.0,98.1 405.8,97.2 408.0,97.2C410.2,97.2 413.7,97.4 416.0,97.4C418.3,97.4 420.0,97.1 422.0,97.2C424.0,97.3 426.3,97.8 428.0,98.0C429.7,98.2 430.8,98.1 432.0,98.4C433.2,98.7 435.4,99.6 435.4,100.0C435.4,100.4 433.6,100.6 432.0,100.8C430.4,101.0 428.0,100.8 426.0,101.0C424.0,101.2 422.0,101.7 420.0,102.0C418.0,102.3 416.0,102.4 414.0,102.6C412.0,102.8 409.8,102.9 408.0,103.0C406.2,103.1 404.3,102.7 403.0,103.0C401.7,103.3 400.8,105.0 400.2,104.6C399.6,104.2 400.1,101.7 399.6,100.4C399.1,99.1 397.9,97.9 397.0,96.6C396.1,95.3 394.9,93.3 394.0,92.4C393.1,91.5 392.5,91.1 391.6,91.0C390.7,90.9 389.5,91.9 388.8,92.0C388.1,92.1 387.1,92.6 387.2,91.8C387.3,91.0 389.0,88.4 389.6,87.4C390.2,86.4 390.2,86.2 390.6,85.8C391.0,85.4 391.4,85.2 391.9,85.3Z" fill="#1c1c1c" stroke-linejoin="round"/>
<path d="M387.4,92.4C388.5,91.1 390.2,89.9 391.6,90.2C393.0,90.5 394.7,92.5 396.0,94.0C397.3,95.5 399.0,97.8 399.6,99.4C400.2,101.0 400.2,102.5 399.4,103.6C398.6,104.7 396.7,105.8 395.0,106.2C393.3,106.6 390.7,106.7 389.0,106.2C387.3,105.7 385.7,104.8 385.0,103.4C384.3,102.0 384.4,99.8 384.8,98.0C385.2,96.2 386.3,93.7 387.4,92.4Z" fill="#c2c2c2" stroke-linejoin="round"/>
<ellipse cx="391.80" cy="102.00" rx="5.20" ry="3.40" fill="#b4b4b4"/>
<ellipse cx="391.80" cy="102.00" rx="4.26" ry="2.79" fill="#a0a0a0" stroke="#222" stroke-width="0.22"/>
<ellipse cx="391.80" cy="102.00" rx="3.33" ry="2.18" fill="#8c8c8c" stroke="#222" stroke-width="0.22"/>
<ellipse cx="391.80" cy="102.00" rx="2.39" ry="1.56" fill="#787878" stroke="#222" stroke-width="0.22"/>
<ellipse cx="391.80" cy="102.00" rx="1.56" ry="1.02" fill="#5e5e5e" stroke="#222" stroke-width="0.22"/>
<ellipse cx="391.80" cy="102.00" rx="0.68" ry="0.44" fill="#333" stroke="#222" stroke-width="0.22"/>
<path d="M394.3 75.1h.01M396.2 63.8h.01M391.5 74.7h.01M395.4 66.1h.01M389.0 67.9h.01M393.6 77.3h.01M394.8 66.2h.01M395.1 71.4h.01M393.1 66.6h.01M391.8 72.9h.01M389.3 59.7h.01M392.5 51.4h.01M391.2 45.9h.01M390.5 71.7h.01M394.2 65.5h.01M391.8 51.8h.01M398.0 71.2h.01M395.8 57.2h.01M391.9 47.8h.01M394.8 75.4h.01M386.8 65.5h.01M394.4 48.4h.01M387.0 55.3h.01M390.6 52.0h.01M392.6 68.5h.01M394.4 73.0h.01M397.0 77.6h.01M388.6 60.9h.01M389.3 55.2h.01M392.3 66.1h.01M394.0 50.1h.01M388.8 65.8h.01M391.9 62.9h.01M392.3 58.4h.01M394.6 69.5h.01M392.2 59.3h.01M392.0 38.8h.01M389.6 66.4h.01M388.0 68.0h.01M392.9 52.2h.01M391.7 62.9h.01M393.9 72.1h.01M392.4 57.5h.01M392.1 65.3h.01M394.7 68.9h.01M390.3 52.5h.01M391.4 58.6h.01M389.2 64.8h.01M391.0 67.1h.01M394.1 61.9h.01M399.5 62.8h.01M395.8 67.2h.01M395.8 42.2h.01M390.2 68.5h.01M393.5 78.8h.01M394.8 75.5h.01M394.0 64.4h.01" stroke="#555" stroke-width="0.45" stroke-linecap="round" fill="none"/>
<path d="M398.0 64.4h.01M399.8 73.8h.01M381.5 83.1h.01M388.6 41.2h.01M375.1 63.6h.01M387.6 54.5h.01M378.9 56.5h.01M383.9 80.3h.01M375.0 76.0h.01M398.5 45.8h.01M400.9 74.2h.01M400.2 53.9h.01M385.4 58.9h.01M403.0 68.3h.01M385.1 60.5h.01M382.7 42.3h.01M377.8 80.1h.01M383.0 84.9h.01M382.0 52.8h.01M389.3 49.1h.01M385.5 85.9h.01M399.8 79.0h.01M392.7 83.8h.01M401.3 66.4h.01M395.1 42.4h.01M395.5 61.6h.01M396.1 70.9h.01M383.0 42.4h.01M400.9 46.1h.01M388.2 56.5h.01" stroke="#888" stroke-width="0.35" stroke-linecap="round" fill="none"/>
<path d="M437.6 103.7h.01M443.8 98.7h.01M437.6 96.9h.01M435.3 97.9h.01M441.5 100.5h.01M442.8 105.3h.01M436.5 99.0h.01M454.0 93.4h.01M437.4 99.5h.01M440.8 100.2h.01M438.8 100.1h.01M440.3 101.3h.01M430.5 96.3h.01M440.0 95.9h.01M434.8 100.9h.01M436.8 100.9h.01M443.7 99.9h.01M442.5 98.7h.01M433.0 98.9h.01M442.3 97.4h.01M439.5 101.2h.01M435.6 100.9h.01M449.3 97.3h.01M440.7 98.5h.01M447.7 99.9h.01M444.5 96.9h.01M439.9 99.0h.01M431.1 103.3h.01M444.5 93.8h.01M443.7 98.6h.01" stroke="#777" stroke-width="0.35" stroke-linecap="round" fill="none"/>
<path d="M411.0 96.0h.01M430.0 109.7h.01M449.3 110.8h.01M435.8 111.9h.01M427.0 106.3h.01M407.8 112.3h.01M416.7 115.9h.01M435.7 99.9h.01M411.9 98.5h.01M435.3 110.2h.01M411.2 93.8h.01M430.1 107.2h.01M423.9 97.8h.01M433.6 92.3h.01M419.9 104.0h.01" stroke="#888" stroke-width="0.30" stroke-linecap="round" fill="none"/>
<path d="M451.1 70.9h.01M447.7 62.8h.01M417.8 51.9h.01M451.2 73.8h.01M421.1 41.0h.01M429.9 72.4h.01M426.3 52.3h.01M437.7 84.4h.01M417.4 41.6h.01M422.6 60.2h.01" stroke="#999" stroke-width="0.30" stroke-linecap="round" fill="none"/>
<line x1="405.50" y1="38.00" x2="405.50" y2="120.00" stroke="#333" stroke-width="0.50"/>
<line x1="373.00" y1="90.50" x2="455.00" y2="90.50" stroke="#333" stroke-width="0.50"/>
<rect x="373.50" y="38.50" width="82.00" height="82.00" fill="none" stroke="#333" stroke-width="0.65"/>
<line x1="371.00" y1="52.50" x2="373.00" y2="52.50" stroke="#1c1c1c" stroke-width="0.60"/>
<text text-anchor="end" font-size="5.30" x="370.40" y="54.51">10<tspan dy="-2.12" font-size="3.82">5</tspan></text>
<line x1="371.00" y1="69.50" x2="373.00" y2="69.50" stroke="#1c1c1c" stroke-width="0.60"/>
<text text-anchor="end" font-size="5.30" x="370.40" y="71.51">10<tspan dy="-2.12" font-size="3.82">4</tspan></text>
<line x1="371.00" y1="90.50" x2="373.00" y2="90.50" stroke="#1c1c1c" stroke-width="0.60"/>
<text text-anchor="end" font-size="5.30" x="370.40" y="92.31">10<tspan dy="-2.12" font-size="3.82">3</tspan></text>
<line x1="371.00" y1="103.50" x2="373.00" y2="103.50" stroke="#1c1c1c" stroke-width="0.60"/>
<text text-anchor="end" font-size="5.30" x="370.40" y="104.91">0</text>
<line x1="371.00" y1="118.50" x2="373.00" y2="118.50" stroke="#1c1c1c" stroke-width="0.60"/>
<text text-anchor="end" font-size="5.30" x="370.40" y="119.91">−10<tspan dy="-2.12" font-size="3.82">3</tspan></text>
<line x1="378.50" y1="120.00" x2="378.50" y2="122.00" stroke="#1c1c1c" stroke-width="0.60"/>
<text text-anchor="middle" font-size="5.30" x="378.50" y="129.60">−10<tspan dy="-2.12" font-size="3.82">3</tspan></text>
<line x1="392.50" y1="120.00" x2="392.50" y2="122.00" stroke="#1c1c1c" stroke-width="0.60"/>
<text text-anchor="middle" font-size="5.30" x="392.00" y="129.60">0</text>
<line x1="405.50" y1="120.00" x2="405.50" y2="122.00" stroke="#1c1c1c" stroke-width="0.60"/>
<text text-anchor="middle" font-size="5.30" x="406.40" y="129.60">10<tspan dy="-2.12" font-size="3.82">3</tspan></text>
<line x1="428.50" y1="120.00" x2="428.50" y2="122.00" stroke="#1c1c1c" stroke-width="0.60"/>
<text text-anchor="middle" font-size="5.30" x="429.50" y="129.60">10<tspan dy="-2.12" font-size="3.82">4</tspan></text>
<line x1="447.50" y1="120.00" x2="447.50" y2="122.00" stroke="#1c1c1c" stroke-width="0.60"/>
<text text-anchor="middle" font-size="5.30" x="448.50" y="129.60">10<tspan dy="-2.12" font-size="3.82">5</tspan></text>
<path d="M372.0,47.5h1M372.0,44.5h1M372.0,42.4h1M372.0,40.7h1M372.0,39.4h1M372.0,38.2h1M372.0,64.5h1M372.0,61.5h1M372.0,59.4h1M372.0,57.7h1M372.0,56.4h1M372.0,55.2h1M372.0,54.2h1M372.0,53.4h1M372.0,84.1h1M372.0,80.5h1M372.0,77.9h1M372.0,75.9h1M372.0,74.2h1M372.0,72.8h1M372.0,71.6h1M372.0,70.6h1M412.4,120.0v1M416.4,120.0v1M419.3,120.0v1M421.5,120.0v1M423.4,120.0v1M424.9,120.0v1M426.3,120.0v1M427.4,120.0v1M434.2,120.0v1M437.6,120.0v1M439.9,120.0v1M441.8,120.0v1M443.3,120.0v1M444.6,120.0v1M445.7,120.0v1M446.6,120.0v1M453.2,120.0v1" stroke="#1c1c1c" stroke-width="0.35" fill="none"/>
<rect x="371.20" y="101.60" width="1.80" height="2.80" fill="#1c1c1c"/>
<rect x="390.60" y="120.00" width="2.80" height="1.40" fill="#1c1c1c"/>
<text x="376.60" y="46.20">1.23</text>
<text text-anchor="end" x="453.00" y="46.20">0.14</text>
<text text-anchor="end" x="453.00" y="119.00">1.72</text>
<path d="M294.4,179.8C295.0,179.9 295.7,180.4 296.2,181.0C296.7,181.6 296.9,182.5 297.6,183.4C298.3,184.3 299.5,185.3 300.2,186.4C300.9,187.5 301.0,189.1 302.0,190.0C303.0,190.9 304.3,191.2 306.0,191.6C307.7,192.0 310.0,192.4 312.0,192.6C314.0,192.8 316.0,192.9 318.0,193.0C320.0,193.1 322.2,193.2 324.0,193.0C325.8,192.8 327.8,192.5 329.0,192.0C330.2,191.5 330.4,190.1 331.2,190.0C332.0,189.9 332.6,191.2 333.6,191.6C334.6,192.0 335.9,192.8 337.0,192.6C338.1,192.4 339.6,190.5 340.4,190.6C341.2,190.7 341.3,192.5 342.0,193.4C342.7,194.3 345.1,195.6 344.4,196.2C343.7,196.8 340.1,196.8 338.0,197.0C335.9,197.2 334.0,197.1 332.0,197.4C330.0,197.7 328.0,198.3 326.0,198.6C324.0,198.9 322.3,199.2 320.0,199.4C317.7,199.6 314.3,199.5 312.0,199.6C309.7,199.7 308.0,199.6 306.0,200.0C304.0,200.4 301.7,201.4 300.0,202.0C298.3,202.6 297.2,203.1 296.0,203.4C294.8,203.7 293.9,203.9 292.6,203.8C291.3,203.7 289.3,203.5 288.0,203.0C286.7,202.5 285.6,201.7 285.0,200.6C284.4,199.5 284.2,198.2 284.3,196.7C284.4,195.2 284.9,193.3 285.6,191.6C286.3,189.9 287.6,187.9 288.6,186.4C289.6,184.9 290.7,183.6 291.4,182.6C292.1,181.6 292.3,180.9 292.8,180.4C293.3,179.9 293.8,179.7 294.4,179.8Z" fill="#cfcfcf" stroke="#1c1c1c" stroke-width="0.90" stroke-linejoin="round"/>
<path d="M294.4,179.8C295.0,179.9 295.7,180.4 296.2,181.0C296.7,181.6 296.9,182.5 297.6,183.4C298.3,184.3 299.5,185.3 300.2,186.4C300.9,187.5 301.0,189.1 302.0,190.0C303.0,190.9 304.3,191.2 306.0,191.6C307.7,192.0 310.0,192.4 312.0,192.6C314.0,192.8 316.0,192.9 318.0,193.0C320.0,193.1 322.2,193.2 324.0,193.0C325.8,192.8 327.8,192.5 329.0,192.0C330.2,191.5 330.4,190.1 331.2,190.0C332.0,189.9 332.6,191.2 333.6,191.6C334.6,192.0 335.9,192.8 337.0,192.6C338.1,192.4 339.6,190.5 340.4,190.6C341.2,190.7 341.3,192.5 342.0,193.4C342.7,194.3 345.1,195.6 344.4,196.2C343.7,196.8 340.1,196.8 338.0,197.0C335.9,197.2 334.0,197.1 332.0,197.4C330.0,197.7 328.0,198.3 326.0,198.6C324.0,198.9 322.3,199.2 320.0,199.4C317.7,199.6 314.3,199.5 312.0,199.6C309.7,199.7 307.3,200.2 306.0,200.0C304.7,199.8 304.2,199.4 304.0,198.6C303.8,197.8 305.1,195.8 304.6,195.0C304.1,194.2 302.2,194.8 301.2,194.0C300.2,193.2 299.7,191.6 298.8,190.4C297.9,189.2 296.9,187.7 296.0,187.0C295.1,186.3 294.5,186.0 293.6,186.0C292.7,186.0 291.4,187.0 290.6,187.0C289.8,187.0 288.9,186.7 289.0,186.0C289.1,185.3 290.8,183.5 291.4,182.6C292.0,181.7 292.3,180.9 292.8,180.4C293.3,179.9 293.8,179.7 294.4,179.8Z" fill="#1c1c1c" stroke-linejoin="round"/>
<ellipse cx="307.70" cy="196.10" rx="2.10" ry="2.00" fill="#d6d6d6"/>
<ellipse cx="316.60" cy="196.10" rx="2.60" ry="1.70" fill="#d6d6d6"/>
<path d="M289.0,187.6C290.3,186.2 292.4,185.3 294.0,185.6C295.6,185.9 297.4,188.2 298.6,189.6C299.8,191.0 300.2,192.9 301.0,194.0C301.8,195.1 303.6,195.0 303.6,196.0C303.6,197.0 302.3,198.9 301.0,200.0C299.7,201.1 297.8,202.0 296.0,202.4C294.2,202.8 291.6,202.9 290.0,202.4C288.4,201.9 287.1,201.0 286.4,199.6C285.7,198.2 285.6,196.0 286.0,194.0C286.4,192.0 287.7,189.0 289.0,187.6Z" fill="#c2c2c2" stroke-linejoin="round"/>
<ellipse cx="292.40" cy="197.60" rx="5.20" ry="3.60" fill="#b4b4b4"/>
<ellipse cx="292.40" cy="197.60" rx="4.26" ry="2.95" fill="#a0a0a0" stroke="#222" stroke-width="0.22"/>
<ellipse cx="292.40" cy="197.60" rx="3.33" ry="2.30" fill="#8c8c8c" stroke="#222" stroke-width="0.22"/>
<ellipse cx="292.40" cy="197.60" rx="2.39" ry="1.66" fill="#787878" stroke="#222" stroke-width="0.22"/>
<ellipse cx="292.40" cy="197.60" rx="1.56" ry="1.08" fill="#5e5e5e" stroke="#222" stroke-width="0.22"/>
<ellipse cx="292.40" cy="197.60" rx="0.68" ry="0.47" fill="#333" stroke="#222" stroke-width="0.22"/>
<path d="M284.8,146.0C284.9,145.0 285.4,143.6 286.2,143.2C287.0,142.8 288.6,142.9 289.6,143.4C290.6,143.9 291.7,145.0 292.4,146.2C293.1,147.4 293.7,149.0 294.0,150.4C294.3,151.8 294.3,153.4 294.2,154.4C294.1,155.4 293.7,156.2 293.2,156.4C292.7,156.6 291.9,156.1 291.0,155.4C290.1,154.7 288.9,153.5 288.0,152.4C287.1,151.3 286.1,150.1 285.6,149.0C285.1,147.9 284.7,147.0 284.8,146.0Z" fill="#1c1c1c" stroke-linejoin="round"/>
<ellipse cx="292.90" cy="160.80" rx="1.60" ry="2.90" fill="#1c1c1c" transform="rotate(-15 292.90 160.80)"/>
<ellipse cx="293.90" cy="172.20" rx="1.00" ry="1.10" fill="#1c1c1c"/>
<path d="M291.2 154.5h.01M293.4 145.9h.01M290.0 159.8h.01M294.5 158.5h.01M292.9 154.1h.01M292.9 175.0h.01M289.9 181.3h.01M290.1 160.2h.01M292.5 169.2h.01M288.3 141.1h.01M293.8 167.2h.01M293.9 183.7h.01M292.6 162.3h.01M294.8 163.3h.01M297.0 148.9h.01M294.4 156.6h.01M294.8 179.4h.01M292.0 157.7h.01M290.5 152.5h.01M290.1 165.8h.01M292.1 160.6h.01M291.5 168.2h.01M293.5 158.7h.01M294.0 158.6h.01M288.5 173.1h.01M293.4 151.4h.01M295.2 163.1h.01M287.3 174.5h.01M293.0 168.0h.01M292.6 158.7h.01M287.4 168.7h.01M292.1 157.4h.01M293.1 160.7h.01M294.0 156.7h.01M291.9 140.7h.01M290.7 166.1h.01M296.0 156.7h.01M291.6 174.3h.01M291.0 166.6h.01" stroke="#666" stroke-width="0.40" stroke-linecap="round" fill="none"/>
<path d="M276.1 172.3h.01M301.7 166.4h.01M302.4 137.2h.01M282.5 158.8h.01M302.8 181.8h.01M286.8 148.1h.01M288.0 159.7h.01M302.0 144.8h.01M298.5 171.4h.01M299.0 173.1h.01M293.0 151.7h.01M284.9 153.4h.01M297.9 139.8h.01M281.5 172.1h.01M282.9 139.1h.01M276.9 162.5h.01M285.1 183.1h.01M300.7 183.4h.01M283.4 140.0h.01M278.7 159.9h.01M295.9 157.5h.01M282.6 156.0h.01M293.4 168.4h.01M296.9 176.7h.01M294.6 141.8h.01M299.5 150.1h.01M291.9 153.9h.01M296.7 145.6h.01M282.9 147.8h.01M280.3 178.4h.01" stroke="#888" stroke-width="0.35" stroke-linecap="round" fill="none"/>
<path d="M332.6 196.5h.01M324.2 213.8h.01M329.3 194.0h.01M343.2 205.0h.01M351.6 190.7h.01M327.8 209.3h.01M344.7 211.8h.01M307.9 195.6h.01M311.5 192.9h.01M350.8 203.2h.01M348.8 197.7h.01M345.8 199.7h.01M318.0 208.2h.01M349.5 190.8h.01M333.4 204.1h.01M316.0 197.6h.01M312.5 193.3h.01M317.7 203.6h.01M336.0 193.3h.01M306.5 196.5h.01M337.2 192.8h.01M320.4 193.3h.01M342.6 202.2h.01M308.9 190.6h.01M324.2 202.3h.01" stroke="#777" stroke-width="0.35" stroke-linecap="round" fill="none"/>
<path d="M337.4 140.4h.01M315.5 169.4h.01M326.9 149.6h.01M322.1 181.8h.01M322.4 163.2h.01M324.4 156.0h.01M347.8 183.8h.01M324.7 145.5h.01M341.5 145.8h.01M308.3 179.3h.01M327.5 175.4h.01M326.7 178.4h.01M329.2 143.8h.01M308.7 162.5h.01M337.5 179.7h.01M312.1 165.9h.01M325.1 160.2h.01M314.7 149.6h.01M332.0 180.4h.01M313.0 159.5h.01M345.0 182.4h.01M317.1 142.1h.01M351.4 182.8h.01M330.2 138.6h.01M350.6 154.6h.01" stroke="#999" stroke-width="0.30" stroke-linecap="round" fill="none"/>
<path d="M340.7 183.6h.01M336.3 184.4h.01M335.8 183.9h.01M327.0 189.3h.01M336.5 184.3h.01M336.0 189.0h.01M330.1 185.7h.01M337.7 187.6h.01M333.3 179.7h.01M341.2 187.0h.01" stroke="#777" stroke-width="0.35" stroke-linecap="round" fill="none"/>
<line x1="306.50" y1="134.00" x2="306.50" y2="216.00" stroke="#333" stroke-width="0.50"/>
<line x1="274.00" y1="186.50" x2="356.40" y2="186.50" stroke="#333" stroke-width="0.50"/>
<rect x="274.50" y="134.50" width="82.00" height="82.00" fill="none" stroke="#333" stroke-width="0.65"/>
<line x1="272.00" y1="148.50" x2="274.00" y2="148.50" stroke="#1c1c1c" stroke-width="0.60"/>
<text text-anchor="end" font-size="5.30" x="271.40" y="150.51">10<tspan dy="-2.12" font-size="3.82">5</tspan></text>
<line x1="272.00" y1="165.50" x2="274.00" y2="165.50" stroke="#1c1c1c" stroke-width="0.60"/>
<text text-anchor="end" font-size="5.30" x="271.40" y="167.51">10<tspan dy="-2.12" font-size="3.82">4</tspan></text>
<line x1="272.00" y1="186.50" x2="274.00" y2="186.50" stroke="#1c1c1c" stroke-width="0.60"/>
<text text-anchor="end" font-size="5.30" x="271.40" y="188.31">10<tspan dy="-2.12" font-size="3.82">3</tspan></text>
<line x1="272.00" y1="199.50" x2="274.00" y2="199.50" stroke="#1c1c1c" stroke-width="0.60"/>
<text text-anchor="end" font-size="5.30" x="271.40" y="200.91">0</text>
<line x1="272.00" y1="214.50" x2="274.00" y2="214.50" stroke="#1c1c1c" stroke-width="0.60"/>
<text text-anchor="end" font-size="5.30" x="271.40" y="215.91">−10<tspan dy="-2.12" font-size="3.82">3</tspan></text>
<line x1="279.50" y1="216.00" x2="279.50" y2="218.00" stroke="#1c1c1c" stroke-width="0.60"/>
<text text-anchor="middle" font-size="5.30" x="279.50" y="225.60">−10<tspan dy="-2.12" font-size="3.82">3</tspan></text>
<line x1="293.50" y1="216.00" x2="293.50" y2="218.00" stroke="#1c1c1c" stroke-width="0.60"/>
<text text-anchor="middle" font-size="5.30" x="293.00" y="225.60">0</text>
<line x1="306.50" y1="216.00" x2="306.50" y2="218.00" stroke="#1c1c1c" stroke-width="0.60"/>
<text text-anchor="middle" font-size="5.30" x="307.40" y="225.60">10<tspan dy="-2.12" font-size="3.82">3</tspan></text>
<line x1="329.50" y1="216.00" x2="329.50" y2="218.00" stroke="#1c1c1c" stroke-width="0.60"/>
<text text-anchor="middle" font-size="5.30" x="330.50" y="225.60">10<tspan dy="-2.12" font-size="3.82">4</tspan></text>
<line x1="348.50" y1="216.00" x2="348.50" y2="218.00" stroke="#1c1c1c" stroke-width="0.60"/>
<text text-anchor="middle" font-size="5.30" x="349.50" y="225.60">10<tspan dy="-2.12" font-size="3.82">5</tspan></text>
<path d="M273.0,143.5h1M273.0,140.5h1M273.0,138.4h1M273.0,136.7h1M273.0,135.4h1M273.0,134.2h1M273.0,160.5h1M273.0,157.5h1M273.0,155.4h1M273.0,153.7h1M273.0,152.4h1M273.0,151.2h1M273.0,150.2h1M273.0,149.4h1M273.0,180.1h1M273.0,176.5h1M273.0,173.9h1M273.0,171.9h1M273.0,170.2h1M273.0,168.8h1M273.0,167.6h1M273.0,166.6h1M313.4,216.0v1M317.4,216.0v1M320.3,216.0v1M322.5,216.0v1M324.4,216.0v1M325.9,216.0v1M327.3,216.0v1M328.4,216.0v1M335.2,216.0v1M338.6,216.0v1M340.9,216.0v1M342.8,216.0v1M344.3,216.0v1M345.6,216.0v1M346.7,216.0v1M347.6,216.0v1M354.2,216.0v1" stroke="#1c1c1c" stroke-width="0.35" fill="none"/>
<rect x="272.20" y="197.60" width="1.80" height="2.80" fill="#1c1c1c"/>
<rect x="291.60" y="216.00" width="2.80" height="1.40" fill="#1c1c1c"/>
<text x="277.60" y="142.20">1.92</text>
<text text-anchor="end" x="354.40" y="142.20">0.26</text>
<text text-anchor="end" x="354.40" y="215.00">2.23</text>
<path d="M393.4,176.0C393.9,175.7 394.6,176.9 395.0,177.6C395.4,178.3 395.4,179.1 396.0,180.0C396.6,180.9 397.6,181.9 398.4,183.0C399.2,184.1 399.9,185.5 400.6,186.6C401.3,187.7 401.7,189.1 402.6,189.6C403.5,190.1 404.8,189.2 406.0,189.4C407.2,189.6 408.9,190.3 410.0,191.0C411.1,191.7 411.7,193.5 412.6,193.6C413.5,193.7 414.5,192.2 415.6,191.8C416.7,191.4 418.0,190.9 419.0,191.2C420.0,191.5 420.5,193.0 421.4,193.4C422.3,193.8 423.4,193.5 424.4,193.8C425.4,194.1 426.7,194.4 427.4,195.0C428.1,195.6 428.9,196.8 428.6,197.2C428.3,197.6 426.5,197.6 425.4,197.6C424.3,197.6 423.1,197.0 422.0,197.0C420.9,197.0 420.1,197.8 419.0,197.8C417.9,197.8 416.6,197.0 415.4,197.2C414.2,197.4 413.2,198.6 412.0,199.0C410.8,199.4 409.3,199.5 408.0,199.6C406.7,199.7 405.2,199.1 404.0,199.4C402.8,199.7 402.3,201.0 401.0,201.6C399.7,202.2 397.6,202.9 396.0,203.2C394.4,203.5 393.2,203.7 391.7,203.6C390.2,203.5 388.4,203.3 387.0,202.8C385.6,202.3 384.3,201.4 383.6,200.4C382.9,199.4 382.8,198.5 382.9,197.0C383.0,195.5 383.4,193.3 384.0,191.6C384.6,189.9 385.7,188.1 386.6,186.6C387.5,185.1 388.7,183.6 389.6,182.4C390.5,181.2 391.4,180.5 392.0,179.4C392.6,178.3 392.9,176.3 393.4,176.0Z" fill="#cfcfcf" stroke="#1c1c1c" stroke-width="0.90" stroke-linejoin="round"/>
<path d="M393.4,176.0C393.9,175.7 394.6,176.9 395.0,177.6C395.4,178.3 395.4,179.1 396.0,180.0C396.6,180.9 397.6,181.9 398.4,183.0C399.2,184.1 399.9,185.5 400.6,186.6C401.3,187.7 401.7,189.1 402.6,189.6C403.5,190.1 404.8,189.2 406.0,189.4C407.2,189.6 408.9,190.3 410.0,191.0C411.1,191.7 411.7,193.5 412.6,193.6C413.5,193.7 414.5,192.2 415.6,191.8C416.7,191.4 418.0,190.9 419.0,191.2C420.0,191.5 420.5,193.0 421.4,193.4C422.3,193.8 423.4,193.5 424.4,193.8C425.4,194.1 426.7,194.4 427.4,195.0C428.1,195.6 428.9,196.8 428.6,197.2C428.3,197.6 426.5,197.6 425.4,197.6C424.3,197.6 423.1,197.0 422.0,197.0C420.9,197.0 420.1,197.8 419.0,197.8C417.9,197.8 416.6,197.0 415.4,197.2C414.2,197.4 413.2,198.6 412.0,199.0C410.8,199.4 409.3,199.5 408.0,199.6C406.7,199.7 405.1,199.2 404.0,199.4C402.9,199.6 401.8,201.3 401.4,200.6C401.0,199.9 401.9,196.8 401.4,195.0C400.9,193.2 399.6,191.3 398.6,189.6C397.6,187.9 396.6,186.0 395.6,185.0C394.6,184.0 393.6,183.7 392.4,183.6C391.2,183.5 389.3,184.6 388.6,184.6C387.9,184.6 387.8,184.0 388.0,183.6C388.2,183.2 388.9,183.1 389.6,182.4C390.3,181.7 391.4,180.5 392.0,179.4C392.6,178.3 392.9,176.3 393.4,176.0Z" fill="#1c1c1c" stroke-linejoin="round"/>
<path d="M386.6,186.6C387.9,185.0 390.7,183.4 392.4,183.6C394.1,183.8 395.3,185.9 396.6,187.6C397.9,189.3 399.4,191.6 400.0,193.6C400.6,195.6 401.1,198.0 400.4,199.4C399.7,200.8 397.9,201.7 396.0,202.2C394.1,202.7 390.9,202.7 389.0,202.2C387.1,201.7 385.4,200.9 384.6,199.4C383.8,197.9 384.1,195.1 384.4,193.0C384.7,190.9 385.3,188.2 386.6,186.6Z" fill="#c2c2c2" stroke-linejoin="round"/>
<ellipse cx="391.60" cy="198.00" rx="5.00" ry="3.60" fill="#b4b4b4"/>
<ellipse cx="391.60" cy="198.00" rx="4.10" ry="2.95" fill="#a0a0a0" stroke="#222" stroke-width="0.22"/>
<ellipse cx="391.60" cy="198.00" rx="3.20" ry="2.30" fill="#8c8c8c" stroke="#222" stroke-width="0.22"/>
<ellipse cx="391.60" cy="198.00" rx="2.30" ry="1.66" fill="#787878" stroke="#222" stroke-width="0.22"/>
<ellipse cx="391.60" cy="198.00" rx="1.50" ry="1.08" fill="#5e5e5e" stroke="#222" stroke-width="0.22"/>
<ellipse cx="391.60" cy="198.00" rx="0.65" ry="0.47" fill="#333" stroke="#222" stroke-width="0.22"/>
<path d="M393.0 156.7h.01M393.8 154.9h.01M389.9 151.1h.01M391.2 152.7h.01M389.5 167.6h.01M389.1 167.9h.01M390.0 164.2h.01M397.1 162.4h.01M390.8 160.6h.01M393.4 139.2h.01M391.2 162.0h.01M391.6 161.0h.01M395.2 169.2h.01M395.7 167.1h.01M392.1 159.8h.01M392.2 156.2h.01M392.5 139.3h.01M392.0 159.7h.01M390.1 159.7h.01M394.5 158.0h.01M392.4 138.1h.01M385.5 161.5h.01M394.6 156.4h.01M395.6 164.5h.01M393.1 152.9h.01M394.9 154.2h.01M393.7 153.9h.01" stroke="#666" stroke-width="0.45" stroke-linecap="round" fill="none"/>
<path d="M389.1 180.2h.01M380.8 148.6h.01M389.2 151.3h.01M376.0 144.7h.01M379.5 180.9h.01M394.0 179.0h.01M379.7 173.7h.01M378.2 161.5h.01M392.8 153.3h.01M399.4 162.6h.01M391.2 178.4h.01M377.9 183.7h.01M392.6 154.9h.01M397.3 148.7h.01M402.7 163.7h.01M385.1 172.7h.01M387.4 144.5h.01M395.8 138.3h.01M398.0 148.2h.01M392.9 183.2h.01" stroke="#999" stroke-width="0.30" stroke-linecap="round" fill="none"/>
<path d="M430.4 191.7h.01M437.9 194.2h.01M441.3 194.4h.01M433.2 191.9h.01M425.3 193.5h.01M440.9 195.6h.01M437.3 193.5h.01M443.6 194.0h.01M442.4 195.7h.01M439.3 197.9h.01M434.6 192.9h.01M433.2 191.6h.01M447.3 199.3h.01M438.1 195.7h.01M445.1 196.4h.01M445.2 190.2h.01M434.2 195.4h.01M446.6 194.3h.01M432.8 192.9h.01M434.0 191.4h.01M447.0 192.1h.01M438.1 200.5h.01M445.1 195.0h.01M434.3 195.2h.01M447.7 195.9h.01" stroke="#777" stroke-width="0.35" stroke-linecap="round" fill="none"/>
<path d="M406.6 202.3h.01M449.3 191.7h.01M415.2 203.8h.01M429.3 204.7h.01M443.4 192.5h.01M420.2 195.8h.01M408.2 211.1h.01M442.0 206.6h.01M406.3 210.0h.01M440.3 200.1h.01M440.1 199.8h.01M416.4 190.7h.01M416.7 189.0h.01M421.4 207.5h.01M438.0 210.0h.01" stroke="#888" stroke-width="0.30" stroke-linecap="round" fill="none"/>
<path d="M439.7 148.8h.01M432.5 156.9h.01M443.3 161.1h.01M419.2 166.8h.01M451.4 146.4h.01M447.5 136.7h.01M419.0 147.3h.01M441.2 181.3h.01M441.3 151.7h.01M447.5 151.8h.01" stroke="#999" stroke-width="0.30" stroke-linecap="round" fill="none"/>
<line x1="405.50" y1="134.00" x2="405.50" y2="216.00" stroke="#333" stroke-width="0.50"/>
<line x1="373.00" y1="186.50" x2="455.00" y2="186.50" stroke="#333" stroke-width="0.50"/>
<rect x="373.50" y="134.50" width="82.00" height="82.00" fill="none" stroke="#333" stroke-width="0.65"/>
<line x1="371.00" y1="148.50" x2="373.00" y2="148.50" stroke="#1c1c1c" stroke-width="0.60"/>
<text text-anchor="end" font-size="5.30" x="370.40" y="150.51">10<tspan dy="-2.12" font-size="3.82">5</tspan></text>
<line x1="371.00" y1="165.50" x2="373.00" y2="165.50" stroke="#1c1c1c" stroke-width="0.60"/>
<text text-anchor="end" font-size="5.30" x="370.40" y="167.51">10<tspan dy="-2.12" font-size="3.82">4</tspan></text>
<line x1="371.00" y1="186.50" x2="373.00" y2="186.50" stroke="#1c1c1c" stroke-width="0.60"/>
<text text-anchor="end" font-size="5.30" x="370.40" y="188.31">10<tspan dy="-2.12" font-size="3.82">3</tspan></text>
<line x1="371.00" y1="199.50" x2="373.00" y2="199.50" stroke="#1c1c1c" stroke-width="0.60"/>
<text text-anchor="end" font-size="5.30" x="370.40" y="200.91">0</text>
<line x1="371.00" y1="214.50" x2="373.00" y2="214.50" stroke="#1c1c1c" stroke-width="0.60"/>
<text text-anchor="end" font-size="5.30" x="370.40" y="215.91">−10<tspan dy="-2.12" font-size="3.82">3</tspan></text>
<line x1="378.50" y1="216.00" x2="378.50" y2="218.00" stroke="#1c1c1c" stroke-width="0.60"/>
<text text-anchor="middle" font-size="5.30" x="378.50" y="225.60">−10<tspan dy="-2.12" font-size="3.82">3</tspan></text>
<line x1="392.50" y1="216.00" x2="392.50" y2="218.00" stroke="#1c1c1c" stroke-width="0.60"/>
<text text-anchor="middle" font-size="5.30" x="392.00" y="225.60">0</text>
<line x1="405.50" y1="216.00" x2="405.50" y2="218.00" stroke="#1c1c1c" stroke-width="0.60"/>
<text text-anchor="middle" font-size="5.30" x="406.40" y="225.60">10<tspan dy="-2.12" font-size="3.82">3</tspan></text>
<line x1="428.50" y1="216.00" x2="428.50" y2="218.00" stroke="#1c1c1c" stroke-width="0.60"/>
<text text-anchor="middle" font-size="5.30" x="429.50" y="225.60">10<tspan dy="-2.12" font-size="3.82">4</tspan></text>
<line x1="447.50" y1="216.00" x2="447.50" y2="218.00" stroke="#1c1c1c" stroke-width="0.60"/>
<text text-anchor="middle" font-size="5.30" x="448.50" y="225.60">10<tspan dy="-2.12" font-size="3.82">5</tspan></text>
<path d="M372.0,143.5h1M372.0,140.5h1M372.0,138.4h1M372.0,136.7h1M372.0,135.4h1M372.0,134.2h1M372.0,160.5h1M372.0,157.5h1M372.0,155.4h1M372.0,153.7h1M372.0,152.4h1M372.0,151.2h1M372.0,150.2h1M372.0,149.4h1M372.0,180.1h1M372.0,176.5h1M372.0,173.9h1M372.0,171.9h1M372.0,170.2h1M372.0,168.8h1M372.0,167.6h1M372.0,166.6h1M412.4,216.0v1M416.4,216.0v1M419.3,216.0v1M421.5,216.0v1M423.4,216.0v1M424.9,216.0v1M426.3,216.0v1M427.4,216.0v1M434.2,216.0v1M437.6,216.0v1M439.9,216.0v1M441.8,216.0v1M443.3,216.0v1M444.6,216.0v1M445.7,216.0v1M446.6,216.0v1M453.2,216.0v1" stroke="#1c1c1c" stroke-width="0.35" fill="none"/>
<rect x="371.20" y="197.60" width="1.80" height="2.80" fill="#1c1c1c"/>
<rect x="390.60" y="216.00" width="2.80" height="1.40" fill="#1c1c1c"/>
<text x="376.60" y="142.20">1.71</text>
<text text-anchor="end" x="453.00" y="142.20">0.28</text>
<text text-anchor="end" x="453.00" y="215.00">1.75</text>
<line x1="255.50" y1="193.00" x2="255.50" y2="43.20" stroke="#1c1c1c" stroke-width="0.70"/>
<polygon points="255.50,39.50 257.40,43.70 253.60,43.70" fill="#1c1c1c"/>
<text text-anchor="middle" transform="translate(252.00 73.40) rotate(-90)">WT</text>
<text text-anchor="middle" transform="translate(252.40 170.60) rotate(-90)"><tspan font-style="italic">Cd1d</tspan><tspan dy="-2.60" font-size="4.68">−/−</tspan></text>
<text font-size="6.10" transform="translate(257.20 216.00) rotate(-90)">IL-17</text>
<text font-size="6.10" x="274.00" y="237.60">IFN-γ</text>
<line x1="294.40" y1="235.50" x2="452.30" y2="235.50" stroke="#1c1c1c" stroke-width="0.70"/>
<polygon points="456.00,235.50 451.80,237.40 451.80,233.60" fill="#1c1c1c"/>
<rect x="504.35" y="19.48" width="11.70" height="88.92" fill="#1c1c1c"/>
<line x1="510.50" y1="19.48" x2="510.50" y2="15.00" stroke="#1c1c1c" stroke-width="0.60"/>
<line x1="507.39" y1="14.50" x2="513.01" y2="14.50" stroke="#1c1c1c" stroke-width="0.60"/>
<rect x="521.45" y="53.08" width="11.70" height="55.32" fill="#1c1c1c"/>
<line x1="527.50" y1="53.08" x2="527.50" y2="48.08" stroke="#1c1c1c" stroke-width="0.60"/>
<line x1="524.49" y1="48.50" x2="530.11" y2="48.50" stroke="#1c1c1c" stroke-width="0.60"/>
<rect x="538.65" y="32.57" width="11.70" height="75.83" fill="#1c1c1c"/>
<line x1="544.50" y1="32.57" x2="544.50" y2="21.03" stroke="#1c1c1c" stroke-width="0.60"/>
<line x1="541.69" y1="21.50" x2="547.31" y2="21.50" stroke="#1c1c1c" stroke-width="0.60"/>
<rect x="555.65" y="46.02" width="11.70" height="62.38" fill="#1c1c1c"/>
<line x1="561.50" y1="46.02" x2="561.50" y2="39.12" stroke="#1c1c1c" stroke-width="0.60"/>
<line x1="558.69" y1="39.50" x2="564.31" y2="39.50" stroke="#1c1c1c" stroke-width="0.60"/>
<line x1="501.50" y1="4.70" x2="501.50" y2="108.70" stroke="#1c1c1c" stroke-width="0.65"/>
<line x1="501.10" y1="108.50" x2="569.40" y2="108.50" stroke="#1c1c1c" stroke-width="0.65"/>
<line x1="498.80" y1="108.50" x2="501.40" y2="108.50" stroke="#1c1c1c" stroke-width="0.60"/>
<text text-anchor="end" x="497.00" y="110.70">0</text>
<line x1="498.80" y1="73.50" x2="501.40" y2="73.50" stroke="#1c1c1c" stroke-width="0.60"/>
<text text-anchor="end" x="497.00" y="76.23">1</text>
<line x1="498.80" y1="39.50" x2="501.40" y2="39.50" stroke="#1c1c1c" stroke-width="0.60"/>
<text text-anchor="end" x="497.00" y="41.77">2</text>
<line x1="498.80" y1="5.50" x2="501.40" y2="5.50" stroke="#1c1c1c" stroke-width="0.60"/>
<text text-anchor="end" x="497.00" y="7.30">3</text>
<line x1="510.50" y1="108.40" x2="510.50" y2="110.80" stroke="#1c1c1c" stroke-width="0.60"/>
<line x1="527.50" y1="108.40" x2="527.50" y2="110.80" stroke="#1c1c1c" stroke-width="0.60"/>
<line x1="544.50" y1="108.40" x2="544.50" y2="110.80" stroke="#1c1c1c" stroke-width="0.60"/>
<line x1="561.50" y1="108.40" x2="561.50" y2="110.80" stroke="#1c1c1c" stroke-width="0.60"/>
<text text-anchor="middle" transform="translate(485.20 59.00) rotate(-90)">IFN-γ<tspan dy="-2.60" font-size="4.68">+</tspan><tspan dy="2.60">CD4</tspan><tspan dy="-2.60" font-size="4.68">+</tspan><tspan dy="2.60"> T cells (%)</tspan></text>
<line x1="510.40" y1="13.50" x2="527.40" y2="13.50" stroke="#1c1c1c" stroke-width="0.65"/>
<text text-anchor="middle" font-size="9.00" x="518.90" y="14.40">*</text>
<line x1="526.60" y1="9.50" x2="562.00" y2="9.50" stroke="#8a8a8a" stroke-width="0.65"/>
<text text-anchor="middle" x="544.30" y="7.80">ns</text>
<line x1="544.00" y1="18.50" x2="562.00" y2="18.50" stroke="#8a8a8a" stroke-width="0.65"/>
<text text-anchor="middle" x="553.00" y="16.80">ns</text>
<text text-anchor="end" x="501.60" y="118.00">WT T2-MZP</text>
<text text-anchor="middle" font-size="6.00" x="510.20" y="117.80">−</text>
<text text-anchor="middle" font-size="6.00" x="527.30" y="117.80">+</text>
<text text-anchor="middle" font-size="6.00" x="544.50" y="117.80">−</text>
<text text-anchor="middle" font-size="6.00" x="561.50" y="117.80">+</text>
<line x1="510.20" y1="121.50" x2="527.30" y2="121.50" stroke="#5a5a5a" stroke-width="0.70"/>
<line x1="544.50" y1="121.50" x2="561.50" y2="121.50" stroke="#5a5a5a" stroke-width="0.70"/>
<text text-anchor="middle" x="518.75" y="130.80">WT</text>
<text text-anchor="middle" x="553.50" y="130.80"><tspan font-style="italic">Cd1d</tspan><tspan dy="-2.60" font-size="4.68">−/−</tspan></text>
<rect x="619.00" y="33.39" width="12.00" height="74.91" fill="#1c1c1c"/>
<line x1="625.50" y1="33.39" x2="625.50" y2="26.39" stroke="#1c1c1c" stroke-width="0.60"/>
<line x1="622.12" y1="26.50" x2="627.88" y2="26.50" stroke="#1c1c1c" stroke-width="0.60"/>
<rect x="636.00" y="67.14" width="12.00" height="41.16" fill="#1c1c1c"/>
<line x1="642.50" y1="67.14" x2="642.50" y2="62.41" stroke="#1c1c1c" stroke-width="0.60"/>
<line x1="639.12" y1="62.50" x2="644.88" y2="62.50" stroke="#1c1c1c" stroke-width="0.60"/>
<rect x="653.10" y="39.97" width="12.00" height="68.33" fill="#1c1c1c"/>
<line x1="659.50" y1="39.97" x2="659.50" y2="26.39" stroke="#1c1c1c" stroke-width="0.60"/>
<line x1="656.22" y1="26.50" x2="661.98" y2="26.50" stroke="#1c1c1c" stroke-width="0.60"/>
<rect x="670.10" y="49.24" width="12.00" height="59.06" fill="#1c1c1c"/>
<line x1="676.50" y1="49.24" x2="676.50" y2="42.86" stroke="#1c1c1c" stroke-width="0.60"/>
<line x1="673.22" y1="42.50" x2="678.98" y2="42.50" stroke="#1c1c1c" stroke-width="0.60"/>
<line x1="616.50" y1="5.10" x2="616.50" y2="108.60" stroke="#1c1c1c" stroke-width="0.65"/>
<line x1="615.90" y1="108.50" x2="685.00" y2="108.50" stroke="#1c1c1c" stroke-width="0.65"/>
<line x1="613.60" y1="108.50" x2="616.20" y2="108.50" stroke="#1c1c1c" stroke-width="0.60"/>
<text text-anchor="end" x="611.00" y="110.60">0.0</text>
<line x1="613.60" y1="87.50" x2="616.20" y2="87.50" stroke="#1c1c1c" stroke-width="0.60"/>
<text text-anchor="end" x="611.00" y="90.02">0.5</text>
<line x1="613.60" y1="67.50" x2="616.20" y2="67.50" stroke="#1c1c1c" stroke-width="0.60"/>
<text text-anchor="end" x="611.00" y="69.44">1.0</text>
<line x1="613.60" y1="46.50" x2="616.20" y2="46.50" stroke="#1c1c1c" stroke-width="0.60"/>
<text text-anchor="end" x="611.00" y="48.86">1.5</text>
<line x1="613.60" y1="25.50" x2="616.20" y2="25.50" stroke="#1c1c1c" stroke-width="0.60"/>
<text text-anchor="end" x="611.00" y="28.28">2.0</text>
<line x1="613.60" y1="5.50" x2="616.20" y2="5.50" stroke="#1c1c1c" stroke-width="0.60"/>
<text text-anchor="end" x="611.00" y="7.70">2.5</text>
<line x1="625.50" y1="108.30" x2="625.50" y2="110.70" stroke="#1c1c1c" stroke-width="0.60"/>
<line x1="642.50" y1="108.30" x2="642.50" y2="110.70" stroke="#1c1c1c" stroke-width="0.60"/>
<line x1="659.50" y1="108.30" x2="659.50" y2="110.70" stroke="#1c1c1c" stroke-width="0.60"/>
<line x1="676.50" y1="108.30" x2="676.50" y2="110.70" stroke="#1c1c1c" stroke-width="0.60"/>
<text text-anchor="middle" transform="translate(595.80 58.00) rotate(-90)">IL-17<tspan dy="-2.60" font-size="4.68">+</tspan><tspan dy="2.60">CD4</tspan><tspan dy="-2.60" font-size="4.68">+</tspan><tspan dy="2.60"> T cells (%)</tspan></text>
<line x1="624.40" y1="22.50" x2="642.70" y2="22.50" stroke="#8a8a8a" stroke-width="0.65"/>
<text text-anchor="middle" font-size="9.00" x="633.55" y="23.60">*</text>
<line x1="643.40" y1="12.50" x2="678.00" y2="12.50" stroke="#8a8a8a" stroke-width="0.65"/>
<text text-anchor="middle" x="660.70" y="10.50">ns</text>
<line x1="659.20" y1="22.50" x2="677.00" y2="22.50" stroke="#8a8a8a" stroke-width="0.65"/>
<text text-anchor="middle" x="668.10" y="20.70">ns</text>
<text text-anchor="end" x="615.60" y="118.00">WT T2-MZP</text>
<text text-anchor="middle" font-size="6.00" x="625.00" y="117.80">−</text>
<text text-anchor="middle" font-size="6.00" x="642.00" y="117.80">+</text>
<text text-anchor="middle" font-size="6.00" x="659.10" y="117.80">−</text>
<text text-anchor="middle" font-size="6.00" x="676.10" y="117.80">+</text>
<line x1="625.00" y1="121.50" x2="642.00" y2="121.50" stroke="#5a5a5a" stroke-width="0.70"/>
<line x1="659.10" y1="121.50" x2="676.10" y2="121.50" stroke="#5a5a5a" stroke-width="0.70"/>
<text text-anchor="middle" x="633.50" y="131.20">WT</text>
<text text-anchor="middle" x="668.10" y="131.20"><tspan font-style="italic">Cd1d</tspan><tspan dy="-2.60" font-size="4.68">−/−</tspan></text>
<rect x="504.25" y="191.56" width="11.90" height="50.94" fill="#1c1c1c"/>
<line x1="510.50" y1="191.56" x2="510.50" y2="182.05" stroke="#1c1c1c" stroke-width="0.60"/>
<line x1="507.34" y1="182.50" x2="513.06" y2="182.50" stroke="#1c1c1c" stroke-width="0.60"/>
<rect x="521.35" y="215.10" width="11.90" height="27.40" fill="#1c1c1c"/>
<line x1="527.50" y1="215.10" x2="527.50" y2="209.44" stroke="#1c1c1c" stroke-width="0.60"/>
<line x1="524.44" y1="209.50" x2="530.16" y2="209.50" stroke="#1c1c1c" stroke-width="0.60"/>
<rect x="538.55" y="181.15" width="11.90" height="61.35" fill="#1c1c1c"/>
<line x1="544.50" y1="181.15" x2="544.50" y2="174.20" stroke="#1c1c1c" stroke-width="0.60"/>
<line x1="541.64" y1="174.50" x2="547.36" y2="174.50" stroke="#1c1c1c" stroke-width="0.60"/>
<rect x="555.55" y="171.76" width="11.90" height="70.74" fill="#1c1c1c"/>
<line x1="561.50" y1="171.76" x2="561.50" y2="167.64" stroke="#1c1c1c" stroke-width="0.60"/>
<line x1="558.64" y1="167.50" x2="564.36" y2="167.50" stroke="#1c1c1c" stroke-width="0.60"/>
<line x1="502.50" y1="139.30" x2="502.50" y2="242.80" stroke="#1c1c1c" stroke-width="0.65"/>
<line x1="502.00" y1="242.50" x2="569.40" y2="242.50" stroke="#1c1c1c" stroke-width="0.65"/>
<line x1="499.70" y1="242.50" x2="502.30" y2="242.50" stroke="#1c1c1c" stroke-width="0.60"/>
<text text-anchor="end" x="497.60" y="244.80">0</text>
<line x1="499.70" y1="216.50" x2="502.30" y2="216.50" stroke="#1c1c1c" stroke-width="0.60"/>
<text text-anchor="end" x="497.60" y="219.08">1</text>
<line x1="499.70" y1="191.50" x2="502.30" y2="191.50" stroke="#1c1c1c" stroke-width="0.60"/>
<text text-anchor="end" x="497.60" y="193.35">2</text>
<line x1="499.70" y1="165.50" x2="502.30" y2="165.50" stroke="#1c1c1c" stroke-width="0.60"/>
<text text-anchor="end" x="497.60" y="167.62">3</text>
<line x1="499.70" y1="139.50" x2="502.30" y2="139.50" stroke="#1c1c1c" stroke-width="0.60"/>
<text text-anchor="end" x="497.60" y="141.90">4</text>
<line x1="510.50" y1="242.50" x2="510.50" y2="244.90" stroke="#1c1c1c" stroke-width="0.60"/>
<line x1="527.50" y1="242.50" x2="527.50" y2="244.90" stroke="#1c1c1c" stroke-width="0.60"/>
<line x1="544.50" y1="242.50" x2="544.50" y2="244.90" stroke="#1c1c1c" stroke-width="0.60"/>
<line x1="561.50" y1="242.50" x2="561.50" y2="244.90" stroke="#1c1c1c" stroke-width="0.60"/>
<text text-anchor="middle" transform="translate(483.40 188.70) rotate(-90)">IFN-γ<tspan dy="-2.60" font-size="4.68">+</tspan><tspan dy="2.60">CD4</tspan><tspan dy="-2.60" font-size="4.68">+</tspan><tspan dy="2.60"> T cells (×10</tspan><tspan dy="-2.60" font-size="4.68">6</tspan><tspan dy="2.60">)</tspan></text>
<line x1="509.20" y1="178.50" x2="526.50" y2="178.50" stroke="#8a8a8a" stroke-width="0.65"/>
<text text-anchor="middle" x="517.85" y="176.80">ns</text>
<line x1="526.50" y1="164.50" x2="562.00" y2="164.50" stroke="#8a8a8a" stroke-width="0.65"/>
<text text-anchor="middle" font-size="9.00" x="544.25" y="165.90">**</text>
<line x1="543.80" y1="155.50" x2="562.00" y2="155.50" stroke="#8a8a8a" stroke-width="0.65"/>
<text text-anchor="middle" x="552.90" y="153.60">ns</text>
<text text-anchor="end" x="502.00" y="253.50">WT T2-MZP</text>
<text text-anchor="middle" font-size="6.00" x="510.20" y="253.30">−</text>
<text text-anchor="middle" font-size="6.00" x="527.30" y="253.30">+</text>
<text text-anchor="middle" font-size="6.00" x="544.50" y="253.30">−</text>
<text text-anchor="middle" font-size="6.00" x="561.50" y="253.30">+</text>
<line x1="510.20" y1="256.50" x2="527.30" y2="256.50" stroke="#5a5a5a" stroke-width="0.70"/>
<line x1="544.50" y1="256.50" x2="561.50" y2="256.50" stroke="#5a5a5a" stroke-width="0.70"/>
<text text-anchor="middle" x="518.75" y="265.60">WT</text>
<text text-anchor="middle" x="553.50" y="265.60"><tspan font-style="italic">Cd1d</tspan><tspan dy="-2.60" font-size="4.68">−/−</tspan></text>
<rect x="619.00" y="186.26" width="12.00" height="56.64" fill="#1c1c1c"/>
<line x1="625.50" y1="186.26" x2="625.50" y2="174.38" stroke="#1c1c1c" stroke-width="0.60"/>
<line x1="622.12" y1="174.50" x2="627.88" y2="174.50" stroke="#1c1c1c" stroke-width="0.60"/>
<rect x="636.00" y="219.83" width="12.00" height="23.07" fill="#1c1c1c"/>
<line x1="642.50" y1="219.83" x2="642.50" y2="214.49" stroke="#1c1c1c" stroke-width="0.60"/>
<line x1="639.12" y1="214.50" x2="644.88" y2="214.50" stroke="#1c1c1c" stroke-width="0.60"/>
<rect x="653.10" y="173.17" width="12.00" height="69.73" fill="#1c1c1c"/>
<line x1="659.50" y1="173.17" x2="659.50" y2="158.54" stroke="#1c1c1c" stroke-width="0.60"/>
<line x1="656.22" y1="158.50" x2="661.98" y2="158.50" stroke="#1c1c1c" stroke-width="0.60"/>
<rect x="670.10" y="166.46" width="12.00" height="76.44" fill="#1c1c1c"/>
<line x1="676.50" y1="166.46" x2="676.50" y2="154.41" stroke="#1c1c1c" stroke-width="0.60"/>
<line x1="673.22" y1="154.50" x2="678.98" y2="154.50" stroke="#1c1c1c" stroke-width="0.60"/>
<line x1="616.50" y1="139.30" x2="616.50" y2="243.20" stroke="#1c1c1c" stroke-width="0.65"/>
<line x1="615.90" y1="242.50" x2="685.00" y2="242.50" stroke="#1c1c1c" stroke-width="0.65"/>
<line x1="613.60" y1="242.50" x2="616.20" y2="242.50" stroke="#1c1c1c" stroke-width="0.60"/>
<text text-anchor="end" x="611.00" y="245.20">0</text>
<line x1="613.60" y1="208.50" x2="616.20" y2="208.50" stroke="#1c1c1c" stroke-width="0.60"/>
<text text-anchor="end" x="611.00" y="210.77">1</text>
<line x1="613.60" y1="174.50" x2="616.20" y2="174.50" stroke="#1c1c1c" stroke-width="0.60"/>
<text text-anchor="end" x="611.00" y="176.33">2</text>
<line x1="613.60" y1="139.50" x2="616.20" y2="139.50" stroke="#1c1c1c" stroke-width="0.60"/>
<text text-anchor="end" x="611.00" y="141.90">3</text>
<line x1="625.50" y1="242.90" x2="625.50" y2="245.30" stroke="#1c1c1c" stroke-width="0.60"/>
<line x1="642.50" y1="242.90" x2="642.50" y2="245.30" stroke="#1c1c1c" stroke-width="0.60"/>
<line x1="659.50" y1="242.90" x2="659.50" y2="245.30" stroke="#1c1c1c" stroke-width="0.60"/>
<line x1="676.50" y1="242.90" x2="676.50" y2="245.30" stroke="#1c1c1c" stroke-width="0.60"/>
<text text-anchor="middle" transform="translate(598.20 193.00) rotate(-90)">IL-17<tspan dy="-2.60" font-size="4.68">+</tspan><tspan dy="2.60">CD4</tspan><tspan dy="-2.60" font-size="4.68">+</tspan><tspan dy="2.60"> T cells (×10</tspan><tspan dy="-2.60" font-size="4.68">6</tspan><tspan dy="2.60">)</tspan></text>
<line x1="625.00" y1="170.50" x2="642.50" y2="170.50" stroke="#8a8a8a" stroke-width="0.65"/>
<text text-anchor="middle" font-size="9.00" x="633.75" y="171.70">*</text>
<line x1="642.50" y1="150.50" x2="677.50" y2="150.50" stroke="#8a8a8a" stroke-width="0.65"/>
<text text-anchor="middle" font-size="9.00" x="660.00" y="151.20">*</text>
<line x1="660.70" y1="144.50" x2="677.50" y2="144.50" stroke="#8a8a8a" stroke-width="0.65"/>
<text text-anchor="middle" x="669.10" y="143.20">ns</text>
<text text-anchor="end" x="615.60" y="253.50">WT T2-MZP</text>
<text text-anchor="middle" font-size="6.00" x="625.00" y="253.30">−</text>
<text text-anchor="middle" font-size="6.00" x="642.00" y="253.30">+</text>
<text text-anchor="middle" font-size="6.00" x="659.10" y="253.30">−</text>
<text text-anchor="middle" font-size="6.00" x="676.10" y="253.30">+</text>
<line x1="625.00" y1="256.50" x2="642.00" y2="256.50" stroke="#5a5a5a" stroke-width="0.70"/>
<line x1="659.10" y1="256.50" x2="676.10" y2="256.50" stroke="#5a5a5a" stroke-width="0.70"/>
<text text-anchor="middle" x="633.50" y="267.70">WT</text>
<text text-anchor="middle" x="668.10" y="267.70"><tspan font-style="italic">Cd1d</tspan><tspan dy="-2.60" font-size="4.68">−/−</tspan></text>
<g transform="translate(32.60 300.50) scale(1.000)" stroke="#1c1c1c" stroke-width="0.65" fill="none" stroke-linecap="round" stroke-linejoin="round">
<path d="M-14.3,-9.6 C-9.5,-9.4 -8,-15 -2.5,-15.3 C1.5,-15.4 2.6,-13.6 2.1,-11.2 C1.8,-9.6 1,-9 0.6,-7.4"/>
<path d="M-6,-1.8 C-6.2,-5.6 -3.2,-7.5 0,-7.5 C3.2,-7.5 6.2,-5.6 6,-1.8 L4.6,2 L2.6,7.6 Q0,10.6 -2.6,7.6 L-4.6,2 Z" fill="#fff" stroke="#1c1c1c"/>
<circle cx="-5.4" cy="0" r="2.3" fill="#fff" stroke="#1c1c1c"/>
<circle cx="5.4" cy="0" r="2.3" fill="#fff" stroke="#1c1c1c"/>
<circle cx="-2.6" cy="3.4" r="0.55" fill="#1c1c1c" stroke="none"/><circle cx="2.6" cy="3.4" r="0.55" fill="#1c1c1c" stroke="none"/>
<path d="M-8.8,5.6 L-3.2,7.6 M-8.8,8.6 L-3,8.3 M8.8,5.6 L3.2,7.6 M8.8,8.6 L3,8.3" stroke-width="0.6"/>
<path d="M-1.6,8.6 Q0,10.4 1.6,8.6" stroke-width="0.9"/>
</g>
<g transform="translate(116.90 300.60) scale(1.000)" stroke="#1c1c1c" stroke-width="0.65" fill="none" stroke-linecap="round" stroke-linejoin="round">
<path d="M-14.3,-9.6 C-9.5,-9.4 -8,-15 -2.5,-15.3 C1.5,-15.4 2.6,-13.6 2.1,-11.2 C1.8,-9.6 1,-9 0.6,-7.4"/>
<path d="M-6,-1.8 C-6.2,-5.6 -3.2,-7.5 0,-7.5 C3.2,-7.5 6.2,-5.6 6,-1.8 L4.6,2 L2.6,7.6 Q0,10.6 -2.6,7.6 L-4.6,2 Z" fill="#fff" stroke="#1c1c1c"/>
<circle cx="-5.4" cy="0" r="2.3" fill="#fff" stroke="#1c1c1c"/>
<circle cx="5.4" cy="0" r="2.3" fill="#fff" stroke="#1c1c1c"/>
<circle cx="-2.6" cy="3.4" r="0.55" fill="#1c1c1c" stroke="none"/><circle cx="2.6" cy="3.4" r="0.55" fill="#1c1c1c" stroke="none"/>
<path d="M-8.8,5.6 L-3.2,7.6 M-8.8,8.6 L-3,8.3 M8.8,5.6 L3.2,7.6 M8.8,8.6 L3,8.3" stroke-width="0.6"/>
<path d="M-1.6,8.6 Q0,10.4 1.6,8.6" stroke-width="0.9"/>
</g>
<line x1="39.00" y1="298.50" x2="56.30" y2="298.50" stroke="#1c1c1c" stroke-width="0.70"/>
<polygon points="60.00,298.50 55.80,300.40 55.80,296.60" fill="#1c1c1c"/>
<g fill="#fff" stroke="#1c1c1c" stroke-width="0.55">
<circle cx="67.40" cy="293.40" r="1.40"/>
<circle cx="70.40" cy="293.40" r="1.40"/>
<circle cx="73.40" cy="293.40" r="1.40"/>
<circle cx="65.90" cy="296.00" r="1.40"/>
<circle cx="68.90" cy="296.00" r="1.40"/>
<circle cx="71.90" cy="296.00" r="1.40"/>
<circle cx="74.90" cy="296.00" r="1.40"/>
<circle cx="64.40" cy="298.60" r="1.40"/>
<circle cx="67.40" cy="298.60" r="1.40"/>
<circle cx="70.40" cy="298.60" r="1.40"/>
<circle cx="73.40" cy="298.60" r="1.40"/>
<circle cx="76.40" cy="298.60" r="1.40"/>
<circle cx="65.90" cy="301.20" r="1.40"/>
<circle cx="68.90" cy="301.20" r="1.40"/>
<circle cx="71.90" cy="301.20" r="1.40"/>
<circle cx="74.90" cy="301.20" r="1.40"/>
<circle cx="67.40" cy="303.80" r="1.40"/>
<circle cx="70.40" cy="303.80" r="1.40"/>
<circle cx="73.40" cy="303.80" r="1.40"/>
</g>
<line x1="80.00" y1="298.50" x2="97.70" y2="298.50" stroke="#1c1c1c" stroke-width="0.70"/>
<polygon points="101.40,298.50 97.20,300.40 97.20,296.60" fill="#1c1c1c"/>
<text text-anchor="middle" x="32.60" y="317.40">WT</text>
<text text-anchor="middle" x="116.90" y="317.60">WT</text>
<text text-anchor="middle" x="90.60" y="284.40">Adoptive</text>
<text text-anchor="middle" x="90.60" y="292.40">transfer</text>
<g transform="translate(32.60 340.30) scale(1.000)" stroke="#1c1c1c" stroke-width="0.65" fill="none" stroke-linecap="round" stroke-linejoin="round">
<path d="M-14.3,-9.6 C-9.5,-9.4 -8,-15 -2.5,-15.3 C1.5,-15.4 2.6,-13.6 2.1,-11.2 C1.8,-9.6 1,-9 0.6,-7.4"/>
<path d="M-6,-1.8 C-6.2,-5.6 -3.2,-7.5 0,-7.5 C3.2,-7.5 6.2,-5.6 6,-1.8 L4.6,2 L2.6,7.6 Q0,10.6 -2.6,7.6 L-4.6,2 Z" fill="#8a8a8a" stroke="#6e6e6e"/>
<circle cx="-5.4" cy="0" r="2.3" fill="#8a8a8a" stroke="#6e6e6e"/>
<circle cx="5.4" cy="0" r="2.3" fill="#8a8a8a" stroke="#6e6e6e"/>
<circle cx="-2.6" cy="3.4" r="0.55" fill="#5a5a5a" stroke="none"/><circle cx="2.6" cy="3.4" r="0.55" fill="#5a5a5a" stroke="none"/>
<path d="M-8.8,5.6 L-3.2,7.6 M-8.8,8.6 L-3,8.3 M8.8,5.6 L3.2,7.6 M8.8,8.6 L3,8.3" stroke-width="0.6"/>
</g>
<g transform="translate(116.90 340.40) scale(1.000)" stroke="#1c1c1c" stroke-width="0.65" fill="none" stroke-linecap="round" stroke-linejoin="round">
<path d="M-14.3,-9.6 C-9.5,-9.4 -8,-15 -2.5,-15.3 C1.5,-15.4 2.6,-13.6 2.1,-11.2 C1.8,-9.6 1,-9 0.6,-7.4"/>
<path d="M-6,-1.8 C-6.2,-5.6 -3.2,-7.5 0,-7.5 C3.2,-7.5 6.2,-5.6 6,-1.8 L4.6,2 L2.6,7.6 Q0,10.6 -2.6,7.6 L-4.6,2 Z" fill="#fff" stroke="#1c1c1c"/>
<circle cx="-5.4" cy="0" r="2.3" fill="#fff" stroke="#1c1c1c"/>
<circle cx="5.4" cy="0" r="2.3" fill="#fff" stroke="#1c1c1c"/>
<circle cx="-2.6" cy="3.4" r="0.55" fill="#1c1c1c" stroke="none"/><circle cx="2.6" cy="3.4" r="0.55" fill="#1c1c1c" stroke="none"/>
<path d="M-8.8,5.6 L-3.2,7.6 M-8.8,8.6 L-3,8.3 M8.8,5.6 L3.2,7.6 M8.8,8.6 L3,8.3" stroke-width="0.6"/>
<path d="M-1.6,8.6 Q0,10.4 1.6,8.6" stroke-width="0.9"/>
</g>
<line x1="39.00" y1="338.50" x2="56.30" y2="338.50" stroke="#1c1c1c" stroke-width="0.70"/>
<polygon points="60.00,338.50 55.80,340.40 55.80,336.60" fill="#1c1c1c"/>
<g fill="#707070" stroke="#2a2a2a" stroke-width="0.55">
<circle cx="67.40" cy="333.40" r="1.40"/>
<circle cx="70.40" cy="333.40" r="1.40"/>
<circle cx="73.40" cy="333.40" r="1.40"/>
<circle cx="65.90" cy="336.00" r="1.40"/>
<circle cx="68.90" cy="336.00" r="1.40"/>
<circle cx="71.90" cy="336.00" r="1.40"/>
<circle cx="74.90" cy="336.00" r="1.40"/>
<circle cx="64.40" cy="338.60" r="1.40"/>
<circle cx="67.40" cy="338.60" r="1.40"/>
<circle cx="70.40" cy="338.60" r="1.40"/>
<circle cx="73.40" cy="338.60" r="1.40"/>
<circle cx="76.40" cy="338.60" r="1.40"/>
<circle cx="65.90" cy="341.20" r="1.40"/>
<circle cx="68.90" cy="341.20" r="1.40"/>
<circle cx="71.90" cy="341.20" r="1.40"/>
<circle cx="74.90" cy="341.20" r="1.40"/>
<circle cx="67.40" cy="343.80" r="1.40"/>
<circle cx="70.40" cy="343.80" r="1.40"/>
<circle cx="73.40" cy="343.80" r="1.40"/>
</g>
<line x1="80.00" y1="338.50" x2="97.70" y2="338.50" stroke="#1c1c1c" stroke-width="0.70"/>
<polygon points="101.40,338.50 97.20,340.40 97.20,336.60" fill="#1c1c1c"/>
<text text-anchor="middle" x="28.20" y="357.00"><tspan font-style="italic">Jα18</tspan><tspan dy="-2.60" font-size="4.68">−/−</tspan></text>
<text text-anchor="middle" x="28.20" y="365.60">In remission</text>
<text text-anchor="middle" x="28.20" y="373.60">from</text>
<text text-anchor="middle" x="28.20" y="381.40">arthritis</text>
<text text-anchor="middle" x="70.40" y="351.40">T2-MZP</text>
<text text-anchor="middle" x="70.40" y="360.20">B cell sort</text>
<text text-anchor="middle" x="116.50" y="358.40">WT</text>
<text text-anchor="middle" x="116.50" y="366.40">Arthritis</text>
<text text-anchor="middle" x="116.50" y="374.20">induction</text>
<line x1="43.50" y1="430.40" x2="43.50" y2="534.60" stroke="#707070" stroke-width="0.75"/>
<line x1="43.50" y1="534.50" x2="112.30" y2="534.50" stroke="#707070" stroke-width="0.75"/>
<line x1="41.20" y1="534.50" x2="43.80" y2="534.50" stroke="#1c1c1c" stroke-width="0.60"/>
<text text-anchor="end" x="38.80" y="536.60">0</text>
<line x1="41.20" y1="508.50" x2="43.80" y2="508.50" stroke="#1c1c1c" stroke-width="0.60"/>
<text text-anchor="end" x="38.80" y="510.70">20</text>
<line x1="41.20" y1="482.50" x2="43.80" y2="482.50" stroke="#1c1c1c" stroke-width="0.60"/>
<text text-anchor="end" x="38.80" y="484.80">40</text>
<line x1="41.20" y1="456.50" x2="43.80" y2="456.50" stroke="#1c1c1c" stroke-width="0.60"/>
<text text-anchor="end" x="38.80" y="458.90">60</text>
<line x1="41.20" y1="430.50" x2="43.80" y2="430.50" stroke="#1c1c1c" stroke-width="0.60"/>
<text text-anchor="end" x="38.80" y="433.00">80</text>
<line x1="44.50" y1="534.30" x2="44.50" y2="536.70" stroke="#1c1c1c" stroke-width="0.60"/>
<text text-anchor="middle" x="44.00" y="544.40">0</text>
<line x1="63.50" y1="534.30" x2="63.50" y2="536.70" stroke="#1c1c1c" stroke-width="0.60"/>
<text text-anchor="middle" x="63.80" y="544.40">1</text>
<line x1="83.50" y1="534.30" x2="83.50" y2="536.70" stroke="#1c1c1c" stroke-width="0.60"/>
<text text-anchor="middle" x="83.40" y="544.40">2</text>
<line x1="103.50" y1="534.30" x2="103.50" y2="536.70" stroke="#1c1c1c" stroke-width="0.60"/>
<text text-anchor="middle" x="103.00" y="544.40">3</text>
<text text-anchor="middle" x="74.40" y="555.00">Day post disease onset</text>
<text text-anchor="middle" transform="translate(14.10 483.60) rotate(-90)">Increase in knee swelling</text>
<text text-anchor="middle" transform="translate(22.10 483.60) rotate(-90)">compared to control knee (%)</text>
<line x1="63.50" y1="452.07" x2="63.50" y2="442.61" stroke="#1c1c1c" stroke-width="0.60"/>
<line x1="61.40" y1="442.50" x2="66.20" y2="442.50" stroke="#1c1c1c" stroke-width="0.60"/>
<line x1="83.50" y1="469.03" x2="83.50" y2="463.46" stroke="#1c1c1c" stroke-width="0.60"/>
<line x1="81.00" y1="463.50" x2="85.80" y2="463.50" stroke="#1c1c1c" stroke-width="0.60"/>
<line x1="103.50" y1="482.50" x2="103.50" y2="474.47" stroke="#1c1c1c" stroke-width="0.60"/>
<line x1="100.60" y1="474.50" x2="105.40" y2="474.50" stroke="#1c1c1c" stroke-width="0.60"/>
<path d="M44.00,534.30L63.80,452.07L83.40,469.03L103.00,482.50" fill="none" stroke="#1c1c1c" stroke-width="0.70"/>
<path d="M44.00,532.70L44.00,535.90M45.39,533.50L42.61,535.10M45.39,535.10L42.61,533.50" fill="none" stroke="#1c1c1c" stroke-width="0.60"/>
<path d="M63.80,449.67L63.80,454.47M65.88,450.87L61.72,453.27M65.88,453.27L61.72,450.87" fill="none" stroke="#1c1c1c" stroke-width="0.60"/>
<path d="M83.40,466.63L83.40,471.43M85.48,467.83L81.32,470.23M85.48,470.23L81.32,467.83" fill="none" stroke="#1c1c1c" stroke-width="0.60"/>
<path d="M103.00,480.10L103.00,484.90M105.08,481.30L100.92,483.70M105.08,483.70L100.92,481.30" fill="none" stroke="#1c1c1c" stroke-width="0.60"/>
<line x1="63.50" y1="494.15" x2="63.50" y2="487.68" stroke="#1c1c1c" stroke-width="0.60"/>
<line x1="61.40" y1="487.50" x2="66.20" y2="487.50" stroke="#1c1c1c" stroke-width="0.60"/>
<line x1="83.50" y1="501.92" x2="83.50" y2="497.26" stroke="#1c1c1c" stroke-width="0.60"/>
<line x1="81.00" y1="497.50" x2="85.80" y2="497.50" stroke="#1c1c1c" stroke-width="0.60"/>
<line x1="103.50" y1="505.81" x2="103.50" y2="497.52" stroke="#1c1c1c" stroke-width="0.60"/>
<line x1="100.60" y1="497.50" x2="105.40" y2="497.50" stroke="#1c1c1c" stroke-width="0.60"/>
<path d="M44.00,534.30L63.80,494.15L83.40,501.92L103.00,505.81" fill="none" stroke="#1c1c1c" stroke-width="0.70"/>
<circle cx="44.00" cy="534.30" r="1.30" fill="#8a8a8a" stroke="#444" stroke-width="0.60"/>
<circle cx="63.80" cy="494.15" r="2.60" fill="#8a8a8a" stroke="#444" stroke-width="0.60"/>
<circle cx="83.40" cy="501.92" r="2.60" fill="#8a8a8a" stroke="#444" stroke-width="0.60"/>
<circle cx="103.00" cy="505.81" r="2.60" fill="#8a8a8a" stroke="#444" stroke-width="0.60"/>
<line x1="63.50" y1="497.50" x2="63.50" y2="497.50" stroke="#1c1c1c" stroke-width="0.60"/>
<line x1="61.40" y1="497.50" x2="66.20" y2="497.50" stroke="#1c1c1c" stroke-width="0.60"/>
<line x1="83.50" y1="507.50" x2="83.50" y2="507.50" stroke="#1c1c1c" stroke-width="0.60"/>
<line x1="81.00" y1="507.50" x2="85.80" y2="507.50" stroke="#1c1c1c" stroke-width="0.60"/>
<line x1="103.50" y1="509.50" x2="103.50" y2="509.50" stroke="#1c1c1c" stroke-width="0.60"/>
<line x1="100.60" y1="509.50" x2="105.40" y2="509.50" stroke="#1c1c1c" stroke-width="0.60"/>
<path d="M44.00,534.30L63.80,497.13L83.40,507.62L103.00,509.95" fill="none" stroke="#1c1c1c" stroke-width="0.70"/>
<circle cx="44.00" cy="534.30" r="1.30" fill="#fff" stroke="#1c1c1c" stroke-width="0.65"/>
<circle cx="63.80" cy="497.13" r="2.60" fill="#fff" stroke="#1c1c1c" stroke-width="0.65"/>
<circle cx="83.40" cy="507.62" r="2.60" fill="#fff" stroke="#1c1c1c" stroke-width="0.65"/>
<circle cx="103.00" cy="509.95" r="2.60" fill="#fff" stroke="#1c1c1c" stroke-width="0.65"/>
<line x1="12.40" y1="396.50" x2="23.60" y2="396.50" stroke="#1c1c1c" stroke-width="0.65"/>
<path d="M18.00,393.30L18.00,398.70M20.34,394.65L15.66,397.35M20.34,397.35L15.66,394.65" fill="none" stroke="#1c1c1c" stroke-width="0.60"/>
<text x="27.60" y="398.00">WT - no transfer</text>
<line x1="12.40" y1="408.50" x2="23.60" y2="408.50" stroke="#1c1c1c" stroke-width="0.65"/>
<circle cx="18.00" cy="408.00" r="2.70" fill="#fff" stroke="#1c1c1c" stroke-width="0.65"/>
<text x="27.60" y="410.40">WT - WT T2-MZP B cells*</text>
<line x1="12.40" y1="421.50" x2="23.60" y2="421.50" stroke="#1c1c1c" stroke-width="0.65"/>
<circle cx="18.00" cy="421.00" r="2.70" fill="#8a8a8a" stroke="#444" stroke-width="0.60"/>
<text x="27.60" y="423.00">WT - <tspan font-style="italic">Jα18</tspan><tspan dy="-2.60" font-size="4.68">−/−</tspan><tspan dy="2.60"> T2-MZP B cells▪</tspan></text>
<text text-anchor="middle" font-size="5.50" x="63.60" y="485.20">•••</text>
<text text-anchor="middle" font-size="5.50" x="83.40" y="495.80">••</text>
<text text-anchor="middle" fill="#666" font-size="5.00" x="62.40" y="507.00">**</text>
<text text-anchor="middle" fill="#666" font-size="5.00" x="83.00" y="518.60">**</text>
<text text-anchor="middle" fill="#666" font-size="5.00" x="102.60" y="520.60">*</text>
<line x1="163.00" y1="274.50" x2="549.50" y2="274.50" stroke="#1c1c1c" stroke-width="0.70"/>
<text text-anchor="middle" x="368.50" y="270.00">Gated on live CD4<tspan dy="-2.60" font-size="4.68">+</tspan><tspan dy="2.60"> cells</tspan></text>
<text text-anchor="middle" x="214.00" y="284.90">FMO</text>
<text text-anchor="middle" x="315.40" y="284.90">No transfer</text>
<text text-anchor="middle" x="415.00" y="284.90">WT T2-MZP transfer</text>
<text text-anchor="middle" x="521.50" y="284.90"><tspan font-style="italic">Jα18</tspan><tspan dy="-2.60" font-size="4.68">−/−</tspan><tspan dy="2.60"> T2-MZP transfer</tspan></text>
<clipPath id="cp1"><rect x="172.60" y="291.60" width="83.00" height="81.80"/></clipPath><g clip-path="url(#cp1)">
<path d="M185.6,355.2C187.3,355.2 189.5,355.6 191.0,356.4C192.5,357.2 193.9,358.6 194.4,360.0C194.9,361.4 194.8,363.5 194.2,365.0C193.6,366.5 192.1,368.2 190.6,369.0C189.1,369.8 186.8,370.1 185.0,370.0C183.2,369.9 181.0,369.5 179.6,368.6C178.2,367.7 177.2,366.1 176.8,364.6C176.4,363.1 176.6,361.0 177.2,359.6C177.8,358.2 179.2,356.9 180.6,356.2C182.0,355.5 183.9,355.2 185.6,355.2Z" fill="#d2d2d2" stroke="#1c1c1c" stroke-width="1.40" stroke-linejoin="round"/>
<ellipse cx="185.40" cy="362.80" rx="7.20" ry="5.90" fill="#c8c8c8"/>
<ellipse cx="185.40" cy="362.80" rx="6.19" ry="5.07" fill="#b8b8b8"/>
<ellipse cx="185.40" cy="362.80" rx="5.18" ry="4.25" fill="#a8a8a8" stroke="#222" stroke-width="0.25"/>
<ellipse cx="185.40" cy="362.80" rx="4.18" ry="3.42" fill="#999" stroke="#222" stroke-width="0.25"/>
<ellipse cx="185.40" cy="362.80" rx="3.17" ry="2.60" fill="#8a8a8a" stroke="#222" stroke-width="0.25"/>
<ellipse cx="185.40" cy="362.80" rx="2.16" ry="1.77" fill="#7a7a7a" stroke="#222" stroke-width="0.25"/>
<ellipse cx="185.40" cy="362.80" rx="1.15" ry="0.94" fill="#5a5a5a" stroke="#222" stroke-width="0.25"/>
<ellipse cx="185.40" cy="362.80" rx="0.36" ry="0.30" fill="#111" stroke="#222" stroke-width="0.25"/>
<path d="M190.6 366.7h.01M185.8 353.5h.01M184.4 348.4h.01M182.5 359.5h.01M187.4 350.5h.01M184.1 360.5h.01M186.9 356.5h.01M191.3 363.4h.01M197.8 362.1h.01M190.6 358.7h.01M197.2 363.7h.01M188.8 359.8h.01M191.1 358.2h.01M188.0 352.7h.01" stroke="#888" stroke-width="0.35" stroke-linecap="round" fill="none"/>
</g>
<line x1="199.50" y1="291.60" x2="199.50" y2="373.40" stroke="#333" stroke-width="0.50"/>
<line x1="172.60" y1="346.50" x2="255.60" y2="346.50" stroke="#333" stroke-width="0.50"/>
<rect x="172.50" y="291.50" width="83.00" height="82.00" fill="none" stroke="#333" stroke-width="0.65"/>
<line x1="169.60" y1="298.50" x2="172.60" y2="298.50" stroke="#1c1c1c" stroke-width="0.60"/>
<text text-anchor="end" font-size="4.80" x="167.00" y="300.33">10<tspan dy="-1.92" font-size="3.46">5</tspan></text>
<line x1="169.60" y1="317.50" x2="172.60" y2="317.50" stroke="#1c1c1c" stroke-width="0.60"/>
<text text-anchor="end" font-size="4.80" x="167.00" y="319.33">10<tspan dy="-1.92" font-size="3.46">4</tspan></text>
<line x1="169.60" y1="336.50" x2="172.60" y2="336.50" stroke="#1c1c1c" stroke-width="0.60"/>
<text text-anchor="end" font-size="4.80" x="167.00" y="337.93">10<tspan dy="-1.92" font-size="3.46">3</tspan></text>
<line x1="169.60" y1="355.50" x2="172.60" y2="355.50" stroke="#1c1c1c" stroke-width="0.60"/>
<text text-anchor="end" font-size="4.80" x="167.00" y="357.33">10<tspan dy="-1.92" font-size="3.46">2</tspan></text>
<line x1="169.60" y1="364.50" x2="172.60" y2="364.50" stroke="#1c1c1c" stroke-width="0.60"/>
<text text-anchor="end" font-size="4.80" x="167.00" y="366.13">0</text>
<line x1="183.50" y1="373.40" x2="183.50" y2="375.40" stroke="#1c1c1c" stroke-width="0.60"/>
<text text-anchor="middle" font-size="4.80" x="183.40" y="383.40">0</text>
<line x1="209.50" y1="373.40" x2="209.50" y2="375.40" stroke="#1c1c1c" stroke-width="0.60"/>
<text text-anchor="middle" font-size="4.80" x="210.40" y="383.40">10<tspan dy="-1.92" font-size="3.46">3</tspan></text>
<line x1="228.50" y1="373.40" x2="228.50" y2="375.40" stroke="#1c1c1c" stroke-width="0.60"/>
<text text-anchor="middle" font-size="4.80" x="229.00" y="383.40">10<tspan dy="-1.92" font-size="3.46">4</tspan></text>
<line x1="247.50" y1="373.40" x2="247.50" y2="375.40" stroke="#1c1c1c" stroke-width="0.60"/>
<text text-anchor="middle" font-size="4.80" x="248.40" y="383.40">10<tspan dy="-1.92" font-size="3.46">5</tspan></text>
<path d="M171.6,293.0h1M171.6,311.9h1M171.6,308.5h1M171.6,306.2h1M171.6,304.3h1M171.6,302.8h1M171.6,301.5h1M171.6,300.4h1M171.6,299.5h1M171.6,330.6h1M171.6,327.3h1M171.6,325.0h1M171.6,323.2h1M171.6,321.7h1M171.6,320.5h1M171.6,319.4h1M171.6,318.5h1M171.6,349.8h1M171.6,346.3h1M171.6,343.9h1M171.6,342.0h1M171.6,340.5h1M171.6,339.2h1M171.6,338.1h1M171.6,337.1h1M196.3,373.4v1M199.6,373.4v1M201.9,373.4v1M203.7,373.4v1M205.2,373.4v1M206.5,373.4v1M207.6,373.4v1M208.5,373.4v1M215.0,373.4v1M218.3,373.4v1M220.6,373.4v1M222.4,373.4v1M223.9,373.4v1M225.1,373.4v1M226.2,373.4v1M227.1,373.4v1M233.8,373.4v1M237.3,373.4v1M239.7,373.4v1M241.6,373.4v1M243.1,373.4v1M244.4,373.4v1M245.5,373.4v1M246.5,373.4v1M253.2,373.4v1" stroke="#1c1c1c" stroke-width="0.35" fill="none"/>
<rect x="170.80" y="363.00" width="1.80" height="2.80" fill="#1c1c1c"/>
<rect x="182.00" y="373.40" width="2.80" height="1.40" fill="#1c1c1c"/>
<text x="174.40" y="297.80">0</text>
<text text-anchor="end" x="254.00" y="297.80">0</text>
<text text-anchor="end" x="254.00" y="371.60">0</text>
<clipPath id="cp2"><rect x="273.00" y="291.60" width="84.00" height="81.80"/></clipPath><g clip-path="url(#cp2)">
<path d="M298.0,353.4C299.0,351.6 302.0,353.6 304.0,353.6C306.0,353.6 308.3,353.8 310.0,353.4C311.7,353.0 312.3,351.5 314.0,351.0C315.7,350.5 317.7,350.5 320.0,350.4C322.3,350.3 325.3,350.4 328.0,350.6C330.7,350.8 333.7,351.2 336.0,351.4C338.3,351.6 340.3,351.8 342.0,351.8C343.7,351.8 345.5,350.9 346.4,351.4C347.3,351.9 347.6,353.6 347.6,355.0C347.6,356.4 347.2,358.6 346.4,360.0C345.6,361.4 344.4,362.5 343.0,363.4C341.6,364.3 340.2,364.9 338.0,365.6C335.8,366.3 332.7,367.1 330.0,367.4C327.3,367.7 324.7,367.8 322.0,367.6C319.3,367.4 316.7,366.9 314.0,366.4C311.3,365.9 308.7,364.9 306.0,364.6C303.3,364.3 299.3,366.5 298.0,364.6C296.7,362.7 297.0,355.2 298.0,353.4Z" fill="#1c1c1c" stroke-linejoin="round"/>
<path d="M299.0,355.8C300.2,354.7 303.8,356.0 306.0,356.0C308.2,356.0 310.0,356.0 312.0,355.6C314.0,355.2 315.7,354.0 318.0,353.6C320.3,353.2 323.3,353.3 326.0,353.4C328.7,353.5 331.7,354.1 334.0,354.4C336.3,354.7 338.6,354.9 340.0,355.4C341.4,355.9 342.3,356.5 342.4,357.4C342.5,358.3 342.0,359.7 340.6,360.6C339.2,361.5 336.4,362.4 334.0,363.0C331.6,363.6 328.7,364.0 326.0,364.2C323.3,364.4 320.7,364.3 318.0,364.0C315.3,363.7 312.3,362.7 310.0,362.4C307.7,362.1 305.8,362.0 304.0,362.0C302.2,362.0 299.8,363.4 299.0,362.4C298.2,361.4 297.8,356.9 299.0,355.8Z" fill="#d4d4d4" stroke-linejoin="round"/>
<path d="M313.0,357.6C314.2,357.2 317.5,356.6 320.0,356.4C322.5,356.2 325.7,356.2 328.0,356.4C330.3,356.6 332.7,357.0 334.0,357.4C335.3,357.8 336.3,358.3 336.0,358.8C335.7,359.3 334.0,360.0 332.0,360.4C330.0,360.8 326.7,361.0 324.0,361.0C321.3,361.0 317.9,360.7 316.0,360.4C314.1,360.1 313.1,359.5 312.6,359.0C312.1,358.5 311.8,358.0 313.0,357.6Z" fill="#bcbcbc" stroke-linejoin="round"/>
<path d="M289.0,346.0C290.7,346.0 290.8,347.0 292.0,347.4C293.2,347.8 294.7,347.8 296.0,348.6C297.3,349.4 298.8,350.8 299.6,352.4C300.4,354.0 300.6,356.1 300.6,358.0C300.6,359.9 300.2,362.2 299.4,364.0C298.6,365.8 297.6,367.6 296.0,369.0C294.4,370.4 292.2,371.9 290.0,372.6C287.8,373.3 285.3,373.6 283.0,373.4C280.7,373.2 278.0,372.7 276.0,371.6C274.0,370.5 272.1,368.9 271.0,367.0C269.9,365.1 269.5,362.2 269.6,360.0C269.7,357.8 270.5,355.7 271.6,354.0C272.7,352.3 274.3,350.7 276.0,349.6C277.7,348.5 279.8,347.8 282.0,347.2C284.2,346.6 287.3,346.0 289.0,346.0Z" fill="#d2d2d2" stroke="#1c1c1c" stroke-width="1.40" stroke-linejoin="round"/>
<ellipse cx="285.20" cy="360.80" rx="12.40" ry="10.60" fill="#c8c8c8"/>
<ellipse cx="285.20" cy="360.80" rx="10.66" ry="9.12" fill="#b8b8b8"/>
<ellipse cx="285.20" cy="360.80" rx="8.93" ry="7.63" fill="#a8a8a8" stroke="#222" stroke-width="0.25"/>
<ellipse cx="285.20" cy="360.80" rx="7.19" ry="6.15" fill="#999" stroke="#222" stroke-width="0.25"/>
<ellipse cx="285.20" cy="360.80" rx="5.46" ry="4.66" fill="#8a8a8a" stroke="#222" stroke-width="0.25"/>
<ellipse cx="285.20" cy="360.80" rx="3.72" ry="3.18" fill="#7a7a7a" stroke="#222" stroke-width="0.25"/>
<ellipse cx="285.20" cy="360.80" rx="1.98" ry="1.70" fill="#5a5a5a" stroke="#222" stroke-width="0.25"/>
<ellipse cx="285.20" cy="360.80" rx="0.62" ry="0.53" fill="#111" stroke="#222" stroke-width="0.25"/>
<path d="M285.4,301.8C286.0,301.1 286.8,300.8 287.6,301.2C288.4,301.6 289.2,302.9 290.0,304.0C290.8,305.1 292.1,306.4 292.6,307.6C293.1,308.8 293.2,309.9 293.0,311.0C292.8,312.1 291.7,312.8 291.6,314.0C291.5,315.2 292.2,316.7 292.4,318.0C292.6,319.3 293.1,321.1 293.0,322.0C292.9,322.9 292.6,323.5 292.0,323.6C291.4,323.7 290.0,323.3 289.6,322.4C289.2,321.5 289.8,319.5 289.6,318.0C289.4,316.5 289.3,315.0 288.6,313.6C287.9,312.2 286.3,310.9 285.6,309.6C284.9,308.3 284.2,306.9 284.2,305.6C284.2,304.3 284.8,302.5 285.4,301.8Z" fill="#1c1c1c" stroke-linejoin="round"/>
<ellipse cx="284.00" cy="333.20" rx="1.60" ry="0.80" fill="#1c1c1c" transform="rotate(-20 284.00 333.20)"/>
<ellipse cx="289.30" cy="338.50" rx="0.60" ry="0.50" fill="#1c1c1c"/>
<path d="M286.9 299.5h.01M293.9 324.4h.01M284.2 334.7h.01M292.6 295.1h.01M296.4 327.7h.01M297.3 303.2h.01M291.1 323.1h.01M289.8 320.1h.01M293.2 300.1h.01M284.0 301.3h.01M286.8 310.7h.01M290.5 321.2h.01M289.1 309.9h.01M287.2 329.4h.01M292.1 319.2h.01M287.7 336.6h.01M286.6 325.8h.01M293.6 314.8h.01M292.3 304.6h.01M293.1 320.4h.01M282.7 326.0h.01M285.4 333.4h.01M286.3 316.0h.01M290.1 314.0h.01M290.0 311.4h.01M291.7 318.1h.01M293.6 318.4h.01M281.9 319.1h.01M290.9 330.8h.01M284.7 336.6h.01M288.4 326.2h.01M287.5 304.6h.01M293.4 328.9h.01M295.2 328.3h.01M286.7 298.1h.01M286.4 309.9h.01M285.7 325.0h.01M290.3 314.8h.01M289.7 316.3h.01M289.9 327.0h.01M292.8 309.8h.01M283.0 335.1h.01M289.5 331.3h.01M282.4 314.0h.01M289.1 300.7h.01M286.9 326.7h.01M293.3 337.1h.01M285.5 301.2h.01M291.1 329.3h.01M289.8 302.4h.01M292.1 327.5h.01M291.2 312.2h.01M290.2 327.5h.01M286.8 295.9h.01M290.3 323.8h.01M289.1 328.7h.01M286.7 317.0h.01M287.8 324.9h.01" stroke="#3a3a3a" stroke-width="0.45" stroke-linecap="round" fill="none"/>
<path d="M299.4 330.9h.01M276.6 343.0h.01M276.6 313.0h.01M299.6 334.3h.01M293.1 315.6h.01M279.1 326.2h.01M276.8 303.7h.01M284.1 294.8h.01M284.4 334.1h.01M292.0 319.0h.01M290.4 317.1h.01M277.7 324.4h.01M284.5 331.5h.01M297.6 315.4h.01M288.9 332.0h.01M285.0 304.9h.01M292.8 338.8h.01M294.1 329.4h.01M296.2 328.3h.01M290.7 316.6h.01M282.1 325.7h.01M276.5 314.8h.01M294.3 330.1h.01M290.4 306.0h.01M285.0 316.7h.01M290.2 314.3h.01M291.6 341.4h.01M278.8 327.0h.01M294.2 313.2h.01M286.7 343.7h.01" stroke="#888" stroke-width="0.35" stroke-linecap="round" fill="none"/>
<path d="M303.1 321.3h.01M309.8 333.7h.01M352.7 320.0h.01M306.6 322.9h.01M330.8 330.3h.01M329.2 326.2h.01M346.6 320.1h.01M323.6 342.3h.01M312.6 328.6h.01M322.6 332.7h.01M307.7 344.2h.01M320.6 295.9h.01M316.1 313.8h.01M301.7 314.8h.01M324.1 329.3h.01M320.4 306.8h.01M313.3 331.6h.01M352.7 320.4h.01M313.0 334.7h.01M322.6 304.0h.01M308.1 333.4h.01M345.5 326.0h.01M326.8 322.2h.01M313.4 343.1h.01M320.4 326.2h.01M346.0 335.4h.01M326.7 308.3h.01M331.2 299.5h.01M346.9 311.4h.01M347.8 306.9h.01M321.7 306.2h.01M324.4 302.7h.01M301.1 330.5h.01M316.5 305.7h.01M317.6 317.9h.01M324.6 326.1h.01M337.3 311.8h.01M352.1 337.4h.01M304.1 336.1h.01M350.8 333.8h.01M308.7 336.2h.01M335.8 293.8h.01M301.6 342.5h.01M337.1 306.0h.01M306.6 300.4h.01M313.9 333.4h.01M320.1 300.9h.01M350.7 334.2h.01M310.2 339.3h.01M334.5 333.6h.01M337.8 339.5h.01M344.3 336.6h.01M311.9 329.0h.01M330.2 331.6h.01M325.1 338.9h.01M331.5 306.8h.01M313.9 300.2h.01M328.1 296.0h.01M326.7 300.5h.01M328.0 318.9h.01M330.7 337.9h.01M301.4 336.7h.01M326.7 322.3h.01M337.6 336.7h.01M321.6 314.8h.01M353.8 296.9h.01M336.0 326.1h.01M302.6 324.7h.01M338.5 341.4h.01M319.2 344.0h.01M329.1 318.2h.01M350.4 294.8h.01M340.5 325.5h.01M319.6 337.8h.01M321.1 317.7h.01M329.9 333.1h.01M312.6 315.6h.01M324.2 321.8h.01M346.5 308.2h.01M346.5 314.0h.01M328.7 307.1h.01M328.9 343.7h.01M337.0 334.2h.01M319.2 309.5h.01M317.5 323.5h.01M335.9 333.8h.01M303.2 330.6h.01M349.7 321.4h.01M303.7 308.6h.01M301.3 302.9h.01M351.7 324.7h.01M337.2 334.0h.01M351.0 324.8h.01M334.9 325.6h.01M339.3 324.0h.01M338.5 304.1h.01M337.7 316.8h.01M342.9 298.3h.01M311.0 294.9h.01M343.6 340.5h.01M337.1 312.2h.01M346.2 333.9h.01M331.9 306.4h.01M317.6 314.9h.01M318.5 315.4h.01M336.3 341.6h.01M304.0 322.5h.01M303.2 299.2h.01M345.6 322.9h.01M351.5 316.2h.01M301.8 313.1h.01M333.6 341.8h.01M354.9 317.7h.01M323.7 298.3h.01M336.4 304.0h.01M309.3 293.8h.01M301.3 328.6h.01M307.7 343.3h.01M305.8 338.2h.01M308.1 293.9h.01M340.6 305.6h.01M341.3 302.7h.01M303.8 333.2h.01M340.2 337.5h.01M341.1 297.4h.01M335.6 329.9h.01M326.3 341.5h.01M315.0 343.1h.01M340.4 293.6h.01M301.8 326.8h.01M346.0 297.1h.01M318.1 330.9h.01M310.1 337.8h.01M327.7 296.1h.01M321.2 322.9h.01M325.1 328.2h.01M309.0 334.5h.01M321.0 326.5h.01M335.6 314.7h.01M322.2 333.9h.01" stroke="#999" stroke-width="0.35" stroke-linecap="round" fill="none"/>
<path d="M353.0 366.6h.01M332.2 354.3h.01M304.3 371.3h.01M339.7 367.7h.01M319.3 362.1h.01M354.8 367.8h.01M334.1 354.7h.01M324.6 369.2h.01M321.7 364.1h.01M334.1 369.4h.01M345.4 354.1h.01M301.1 353.6h.01M324.2 361.7h.01M345.9 369.2h.01M303.3 367.8h.01M345.6 368.7h.01M332.5 353.8h.01M347.8 367.2h.01M338.7 369.8h.01M320.1 349.1h.01M331.5 366.9h.01M312.0 365.8h.01M352.2 352.9h.01M334.4 363.9h.01M326.6 352.2h.01M315.0 365.8h.01M344.5 358.5h.01M305.8 367.2h.01M343.5 352.8h.01M332.9 369.4h.01M349.7 360.0h.01M327.2 361.7h.01M311.4 351.8h.01M310.9 364.5h.01M321.0 361.1h.01M323.1 359.9h.01M309.2 348.1h.01M355.8 356.4h.01M306.8 362.8h.01M344.3 350.9h.01" stroke="#888" stroke-width="0.35" stroke-linecap="round" fill="none"/>
</g>
<line x1="300.50" y1="291.60" x2="300.50" y2="373.40" stroke="#333" stroke-width="0.50"/>
<line x1="273.00" y1="345.50" x2="357.00" y2="345.50" stroke="#333" stroke-width="0.50"/>
<rect x="273.50" y="291.50" width="84.00" height="82.00" fill="none" stroke="#333" stroke-width="0.65"/>
<line x1="270.00" y1="298.50" x2="273.00" y2="298.50" stroke="#1c1c1c" stroke-width="0.60"/>
<text text-anchor="end" font-size="4.80" x="267.40" y="300.33">10<tspan dy="-1.92" font-size="3.46">5</tspan></text>
<line x1="270.00" y1="317.50" x2="273.00" y2="317.50" stroke="#1c1c1c" stroke-width="0.60"/>
<text text-anchor="end" font-size="4.80" x="267.40" y="319.33">10<tspan dy="-1.92" font-size="3.46">4</tspan></text>
<line x1="270.00" y1="336.50" x2="273.00" y2="336.50" stroke="#1c1c1c" stroke-width="0.60"/>
<text text-anchor="end" font-size="4.80" x="267.40" y="337.93">10<tspan dy="-1.92" font-size="3.46">3</tspan></text>
<line x1="270.00" y1="355.50" x2="273.00" y2="355.50" stroke="#1c1c1c" stroke-width="0.60"/>
<text text-anchor="end" font-size="4.80" x="267.40" y="357.33">10<tspan dy="-1.92" font-size="3.46">2</tspan></text>
<line x1="270.00" y1="364.50" x2="273.00" y2="364.50" stroke="#1c1c1c" stroke-width="0.60"/>
<text text-anchor="end" font-size="4.80" x="267.40" y="366.13">0</text>
<line x1="283.50" y1="373.40" x2="283.50" y2="375.40" stroke="#1c1c1c" stroke-width="0.60"/>
<text text-anchor="middle" font-size="4.80" x="283.80" y="383.40">0</text>
<line x1="309.50" y1="373.40" x2="309.50" y2="375.40" stroke="#1c1c1c" stroke-width="0.60"/>
<text text-anchor="middle" font-size="4.80" x="310.80" y="383.40">10<tspan dy="-1.92" font-size="3.46">3</tspan></text>
<line x1="328.50" y1="373.40" x2="328.50" y2="375.40" stroke="#1c1c1c" stroke-width="0.60"/>
<text text-anchor="middle" font-size="4.80" x="329.40" y="383.40">10<tspan dy="-1.92" font-size="3.46">4</tspan></text>
<line x1="347.50" y1="373.40" x2="347.50" y2="375.40" stroke="#1c1c1c" stroke-width="0.60"/>
<text text-anchor="middle" font-size="4.80" x="348.80" y="383.40">10<tspan dy="-1.92" font-size="3.46">5</tspan></text>
<path d="M272.0,293.0h1M272.0,311.9h1M272.0,308.5h1M272.0,306.2h1M272.0,304.3h1M272.0,302.8h1M272.0,301.5h1M272.0,300.4h1M272.0,299.5h1M272.0,330.6h1M272.0,327.3h1M272.0,325.0h1M272.0,323.2h1M272.0,321.7h1M272.0,320.5h1M272.0,319.4h1M272.0,318.5h1M272.0,349.8h1M272.0,346.3h1M272.0,343.9h1M272.0,342.0h1M272.0,340.5h1M272.0,339.2h1M272.0,338.1h1M272.0,337.1h1M296.7,373.4v1M300.0,373.4v1M302.3,373.4v1M304.1,373.4v1M305.6,373.4v1M306.9,373.4v1M308.0,373.4v1M308.9,373.4v1M315.4,373.4v1M318.7,373.4v1M321.0,373.4v1M322.8,373.4v1M324.3,373.4v1M325.5,373.4v1M326.6,373.4v1M327.5,373.4v1M334.2,373.4v1M337.7,373.4v1M340.1,373.4v1M342.0,373.4v1M343.5,373.4v1M344.8,373.4v1M345.9,373.4v1M346.9,373.4v1M353.6,373.4v1M357.0,373.4v1" stroke="#1c1c1c" stroke-width="0.35" fill="none"/>
<rect x="271.20" y="363.00" width="1.80" height="2.80" fill="#1c1c1c"/>
<rect x="282.60" y="373.40" width="2.80" height="1.40" fill="#1c1c1c"/>
<text x="274.80" y="297.80">1.20</text>
<text text-anchor="end" x="355.40" y="297.80">0.80</text>
<text text-anchor="end" x="355.40" y="371.60">4.91</text>
<clipPath id="cp3"><rect x="373.00" y="291.60" width="83.60" height="81.80"/></clipPath><g clip-path="url(#cp3)">
<path d="M398.0,355.8C399.0,354.7 402.0,355.8 404.0,355.8C406.0,355.8 408.3,356.0 410.0,355.6C411.7,355.2 412.3,353.9 414.0,353.4C415.7,352.9 418.0,352.5 420.0,352.4C422.0,352.3 424.3,352.7 426.0,353.0C427.7,353.3 428.3,354.2 430.0,354.4C431.7,354.6 434.4,353.9 436.0,354.2C437.6,354.5 438.9,355.4 439.4,356.4C439.9,357.4 439.6,359.4 439.0,360.4C438.4,361.4 437.5,361.8 436.0,362.2C434.5,362.6 432.0,362.6 430.0,363.0C428.0,363.4 426.3,364.3 424.0,364.6C421.7,364.9 418.3,364.9 416.0,364.6C413.7,364.3 412.0,363.2 410.0,362.8C408.0,362.4 406.0,362.0 404.0,362.0C402.0,362.0 399.0,363.6 398.0,362.6C397.0,361.6 397.0,356.9 398.0,355.8Z" fill="#1c1c1c" stroke-linejoin="round"/>
<ellipse cx="408.40" cy="359.50" rx="3.40" ry="1.10" fill="#d4d4d4"/>
<ellipse cx="418.50" cy="358.80" rx="3.90" ry="1.70" fill="#d4d4d4" transform="rotate(-8 418.50 358.80)"/>
<ellipse cx="427.20" cy="359.10" rx="1.50" ry="1.40" fill="#e0e0e0"/>
<path d="M389.6,345.6C391.1,345.7 391.8,346.8 393.0,347.4C394.2,348.0 395.6,348.5 396.6,349.4C397.6,350.3 398.4,351.6 399.0,353.0C399.6,354.4 400.1,356.2 400.0,358.0C399.9,359.8 399.4,361.8 398.6,363.6C397.8,365.4 396.6,367.3 395.0,368.6C393.4,369.9 391.2,371.1 389.0,371.6C386.8,372.1 384.2,372.1 382.0,371.8C379.8,371.5 377.7,370.7 376.0,369.6C374.3,368.5 372.5,366.8 371.6,365.0C370.7,363.2 370.4,360.9 370.6,359.0C370.8,357.1 371.5,355.2 372.6,353.6C373.7,352.0 375.1,350.7 377.0,349.6C378.9,348.5 381.9,347.7 384.0,347.0C386.1,346.3 388.1,345.5 389.6,345.6Z" fill="#d2d2d2" stroke="#1c1c1c" stroke-width="1.40" stroke-linejoin="round"/>
<ellipse cx="384.60" cy="361.00" rx="12.00" ry="9.60" fill="#c8c8c8"/>
<ellipse cx="384.60" cy="361.00" rx="10.32" ry="8.26" fill="#b8b8b8"/>
<ellipse cx="384.60" cy="361.00" rx="8.64" ry="6.91" fill="#a8a8a8" stroke="#222" stroke-width="0.25"/>
<ellipse cx="384.60" cy="361.00" rx="6.96" ry="5.57" fill="#999" stroke="#222" stroke-width="0.25"/>
<ellipse cx="384.60" cy="361.00" rx="5.28" ry="4.22" fill="#8a8a8a" stroke="#222" stroke-width="0.25"/>
<ellipse cx="384.60" cy="361.00" rx="3.60" ry="2.88" fill="#7a7a7a" stroke="#222" stroke-width="0.25"/>
<ellipse cx="384.60" cy="361.00" rx="1.92" ry="1.54" fill="#5a5a5a" stroke="#222" stroke-width="0.25"/>
<ellipse cx="384.60" cy="361.00" rx="0.60" ry="0.48" fill="#111" stroke="#222" stroke-width="0.25"/>
<path d="M385.0 312.6h.01M387.2 319.7h.01M391.1 308.0h.01M385.2 315.5h.01M388.8 305.5h.01M394.4 312.1h.01M388.0 323.9h.01M388.8 328.4h.01M389.1 322.3h.01M380.4 310.0h.01M378.6 328.8h.01M389.2 317.3h.01M384.7 311.9h.01M395.4 344.2h.01M387.8 338.0h.01M381.6 292.9h.01M386.1 307.8h.01M385.8 322.6h.01M388.2 323.9h.01M387.9 333.0h.01M395.1 302.6h.01M388.6 316.3h.01M389.4 298.6h.01M390.1 322.7h.01M386.5 309.4h.01M382.3 307.2h.01M390.8 327.6h.01M387.9 327.2h.01M385.6 321.0h.01M388.2 327.8h.01M387.7 318.0h.01M387.5 311.0h.01M396.9 327.2h.01M393.6 298.2h.01" stroke="#666" stroke-width="0.35" stroke-linecap="round" fill="none"/>
<path d="M377.6 316.3h.01M376.5 341.3h.01M395.9 325.7h.01M385.8 310.7h.01M395.4 317.8h.01M390.3 300.4h.01M379.8 295.9h.01M392.6 321.8h.01M377.8 338.3h.01M380.9 314.4h.01M378.0 307.1h.01M395.8 310.4h.01M378.4 318.5h.01M382.3 340.0h.01M377.0 343.9h.01M375.5 339.5h.01M391.4 304.0h.01M386.4 307.9h.01M380.7 303.5h.01M383.5 344.5h.01M400.0 341.1h.01M376.5 308.1h.01M397.3 296.0h.01M392.9 308.3h.01M399.4 293.8h.01" stroke="#999" stroke-width="0.30" stroke-linecap="round" fill="none"/>
<path d="M445.4 310.7h.01M408.7 293.1h.01M446.8 320.4h.01M411.2 315.6h.01M451.2 304.3h.01M432.4 300.2h.01M410.9 333.1h.01M440.1 303.2h.01M405.4 297.5h.01M434.5 318.8h.01M416.1 303.7h.01M434.7 329.8h.01M445.6 323.3h.01M412.1 296.4h.01M441.3 314.2h.01M440.7 295.9h.01M445.6 310.4h.01M447.3 338.0h.01M428.1 293.8h.01M451.1 317.8h.01M449.0 306.8h.01M411.2 336.2h.01M421.2 301.5h.01M421.4 323.9h.01M401.3 320.0h.01M425.5 319.8h.01M407.6 330.2h.01M445.9 338.0h.01M418.7 330.0h.01M422.0 332.1h.01" stroke="#aaa" stroke-width="0.30" stroke-linecap="round" fill="none"/>
<path d="M404.4 368.8h.01M453.5 359.4h.01M429.2 360.3h.01M430.6 347.5h.01M454.2 352.6h.01M411.0 349.6h.01M414.8 367.4h.01M402.7 349.4h.01M439.4 351.9h.01M402.0 362.0h.01M432.7 360.1h.01M439.6 349.6h.01M448.8 364.9h.01M403.5 350.1h.01M428.1 359.5h.01M416.4 350.1h.01M423.3 350.4h.01M433.5 368.5h.01M409.1 361.3h.01M442.1 351.1h.01M446.4 370.4h.01M422.4 357.5h.01M447.2 360.1h.01M422.8 370.5h.01M443.7 355.5h.01M414.2 355.4h.01M425.0 371.5h.01M445.2 369.8h.01M445.8 368.2h.01M403.9 359.9h.01M453.7 370.4h.01M414.7 357.6h.01M435.8 356.1h.01M430.2 348.7h.01M424.8 359.6h.01M402.1 350.5h.01M454.3 366.4h.01M452.5 362.8h.01M445.5 369.1h.01M449.7 347.9h.01" stroke="#888" stroke-width="0.35" stroke-linecap="round" fill="none"/>
<path d="M444.0 354.9h.01M444.6 354.4h.01M437.2 355.0h.01M443.8 355.4h.01M441.8 357.3h.01M449.1 356.7h.01M444.0 364.8h.01M449.9 362.6h.01M450.6 356.4h.01M445.5 363.6h.01M443.8 357.4h.01M447.5 359.9h.01M444.9 362.9h.01M445.3 361.6h.01M450.3 361.3h.01M448.9 352.2h.01M440.8 354.9h.01M447.9 365.5h.01M441.1 359.5h.01M442.6 354.3h.01M444.9 361.5h.01M446.9 363.9h.01M442.1 362.4h.01M449.7 358.3h.01M447.9 355.2h.01" stroke="#777" stroke-width="0.35" stroke-linecap="round" fill="none"/>
</g>
<line x1="400.50" y1="291.60" x2="400.50" y2="373.40" stroke="#666" stroke-width="0.50"/>
<line x1="373.00" y1="345.50" x2="456.60" y2="345.50" stroke="#666" stroke-width="0.50"/>
<rect x="373.50" y="291.50" width="83.00" height="82.00" fill="none" stroke="#333" stroke-width="0.65"/>
<line x1="370.00" y1="298.50" x2="373.00" y2="298.50" stroke="#1c1c1c" stroke-width="0.60"/>
<text text-anchor="end" font-size="4.80" x="367.40" y="300.33">10<tspan dy="-1.92" font-size="3.46">5</tspan></text>
<line x1="370.00" y1="317.50" x2="373.00" y2="317.50" stroke="#1c1c1c" stroke-width="0.60"/>
<text text-anchor="end" font-size="4.80" x="367.40" y="319.33">10<tspan dy="-1.92" font-size="3.46">4</tspan></text>
<line x1="370.00" y1="336.50" x2="373.00" y2="336.50" stroke="#1c1c1c" stroke-width="0.60"/>
<text text-anchor="end" font-size="4.80" x="367.40" y="337.93">10<tspan dy="-1.92" font-size="3.46">3</tspan></text>
<line x1="370.00" y1="355.50" x2="373.00" y2="355.50" stroke="#1c1c1c" stroke-width="0.60"/>
<text text-anchor="end" font-size="4.80" x="367.40" y="357.33">10<tspan dy="-1.92" font-size="3.46">2</tspan></text>
<line x1="370.00" y1="364.50" x2="373.00" y2="364.50" stroke="#1c1c1c" stroke-width="0.60"/>
<text text-anchor="end" font-size="4.80" x="367.40" y="366.13">0</text>
<line x1="383.50" y1="373.40" x2="383.50" y2="375.40" stroke="#1c1c1c" stroke-width="0.60"/>
<text text-anchor="middle" font-size="4.80" x="383.80" y="383.40">0</text>
<line x1="409.50" y1="373.40" x2="409.50" y2="375.40" stroke="#1c1c1c" stroke-width="0.60"/>
<text text-anchor="middle" font-size="4.80" x="410.80" y="383.40">10<tspan dy="-1.92" font-size="3.46">3</tspan></text>
<line x1="428.50" y1="373.40" x2="428.50" y2="375.40" stroke="#1c1c1c" stroke-width="0.60"/>
<text text-anchor="middle" font-size="4.80" x="429.40" y="383.40">10<tspan dy="-1.92" font-size="3.46">4</tspan></text>
<line x1="447.50" y1="373.40" x2="447.50" y2="375.40" stroke="#1c1c1c" stroke-width="0.60"/>
<text text-anchor="middle" font-size="4.80" x="448.80" y="383.40">10<tspan dy="-1.92" font-size="3.46">5</tspan></text>
<path d="M372.0,293.0h1M372.0,311.9h1M372.0,308.5h1M372.0,306.2h1M372.0,304.3h1M372.0,302.8h1M372.0,301.5h1M372.0,300.4h1M372.0,299.5h1M372.0,330.6h1M372.0,327.3h1M372.0,325.0h1M372.0,323.2h1M372.0,321.7h1M372.0,320.5h1M372.0,319.4h1M372.0,318.5h1M372.0,349.8h1M372.0,346.3h1M372.0,343.9h1M372.0,342.0h1M372.0,340.5h1M372.0,339.2h1M372.0,338.1h1M372.0,337.1h1M396.7,373.4v1M400.0,373.4v1M402.3,373.4v1M404.1,373.4v1M405.6,373.4v1M406.9,373.4v1M408.0,373.4v1M408.9,373.4v1M415.4,373.4v1M418.7,373.4v1M421.0,373.4v1M422.8,373.4v1M424.3,373.4v1M425.5,373.4v1M426.6,373.4v1M427.5,373.4v1M434.2,373.4v1M437.7,373.4v1M440.1,373.4v1M442.0,373.4v1M443.5,373.4v1M444.8,373.4v1M445.9,373.4v1M446.9,373.4v1M453.6,373.4v1" stroke="#1c1c1c" stroke-width="0.35" fill="none"/>
<rect x="371.20" y="363.00" width="1.80" height="2.80" fill="#1c1c1c"/>
<rect x="382.60" y="373.40" width="2.80" height="1.40" fill="#1c1c1c"/>
<text x="374.80" y="297.80">0.97</text>
<text text-anchor="end" x="455.00" y="297.80">0.18</text>
<text text-anchor="end" x="455.00" y="371.60">3.15</text>
<clipPath id="cp4"><rect x="476.40" y="291.60" width="82.60" height="81.80"/></clipPath><g clip-path="url(#cp4)">
<path d="M501.0,356.4C501.7,355.2 503.7,355.5 505.0,355.4C506.3,355.3 508.1,355.3 509.0,355.8C509.9,356.3 509.7,358.0 510.4,358.4C511.1,358.8 511.9,358.4 513.0,358.0C514.1,357.6 515.5,356.7 517.0,356.2C518.5,355.7 520.3,355.1 522.0,355.0C523.7,354.9 525.3,355.4 527.0,355.8C528.7,356.2 530.2,357.1 532.0,357.4C533.8,357.7 536.4,357.5 538.0,357.8C539.6,358.1 541.1,358.8 541.4,359.4C541.7,360.0 540.8,361.0 539.6,361.4C538.4,361.8 535.6,361.3 534.0,361.6C532.4,361.9 531.7,362.9 530.0,363.2C528.3,363.5 526.0,363.2 524.0,363.2C522.0,363.2 519.8,363.4 518.0,363.4C516.2,363.4 514.3,363.5 513.0,363.4C511.7,363.3 510.8,363.3 510.0,363.0C509.2,362.7 509.2,361.6 508.4,361.4C507.6,361.2 506.2,361.8 505.0,362.0C503.8,362.2 501.7,363.3 501.0,362.4C500.3,361.5 500.3,357.6 501.0,356.4Z" fill="#1c1c1c" stroke-linejoin="round"/>
<path d="M494.0,349.0C495.8,349.2 496.8,349.8 498.0,350.6C499.2,351.4 500.6,352.4 501.4,353.6C502.2,354.8 502.6,356.4 502.6,358.0C502.6,359.6 502.2,361.7 501.4,363.4C500.6,365.1 499.6,366.7 498.0,368.0C496.4,369.3 494.2,370.8 492.0,371.4C489.8,372.0 487.2,371.9 485.0,371.6C482.8,371.3 480.7,370.5 479.0,369.4C477.3,368.3 475.8,366.6 475.0,365.0C474.2,363.4 473.8,361.4 474.0,359.6C474.2,357.8 474.9,355.8 476.0,354.4C477.1,353.0 478.8,351.8 480.6,351.0C482.4,350.2 484.8,349.7 487.0,349.4C489.2,349.1 492.2,348.8 494.0,349.0Z" fill="#d2d2d2" stroke="#1c1c1c" stroke-width="1.40" stroke-linejoin="round"/>
<ellipse cx="488.00" cy="361.00" rx="12.20" ry="9.40" fill="#c8c8c8"/>
<ellipse cx="488.00" cy="361.00" rx="10.49" ry="8.08" fill="#b8b8b8"/>
<ellipse cx="488.00" cy="361.00" rx="8.78" ry="6.77" fill="#a8a8a8" stroke="#222" stroke-width="0.25"/>
<ellipse cx="488.00" cy="361.00" rx="7.08" ry="5.45" fill="#999" stroke="#222" stroke-width="0.25"/>
<ellipse cx="488.00" cy="361.00" rx="5.37" ry="4.14" fill="#8a8a8a" stroke="#222" stroke-width="0.25"/>
<ellipse cx="488.00" cy="361.00" rx="3.66" ry="2.82" fill="#7a7a7a" stroke="#222" stroke-width="0.25"/>
<ellipse cx="488.00" cy="361.00" rx="1.95" ry="1.50" fill="#5a5a5a" stroke="#222" stroke-width="0.25"/>
<ellipse cx="488.00" cy="361.00" rx="0.61" ry="0.47" fill="#111" stroke="#222" stroke-width="0.25"/>
<path d="M485.1 314.3h.01M487.8 343.1h.01M490.9 324.4h.01M493.3 309.1h.01M494.1 325.3h.01M483.2 328.4h.01M492.5 326.3h.01M497.1 314.2h.01M492.3 330.5h.01M485.9 336.8h.01M483.5 301.8h.01M492.4 304.8h.01M489.5 297.0h.01M490.3 304.1h.01M491.5 298.5h.01M492.0 316.3h.01M490.3 319.1h.01M490.6 301.5h.01M478.5 320.5h.01M485.8 313.6h.01M486.6 311.5h.01M485.2 324.6h.01M489.4 308.5h.01M485.6 331.3h.01M487.0 328.2h.01M492.0 293.5h.01M485.1 320.0h.01M491.5 330.9h.01M493.6 334.5h.01M488.3 317.1h.01M493.5 314.0h.01M494.8 297.8h.01M492.9 317.6h.01M481.1 333.7h.01M491.4 320.3h.01M485.2 313.5h.01M496.8 308.4h.01" stroke="#666" stroke-width="0.35" stroke-linecap="round" fill="none"/>
<path d="M490.5 319.9h.01M494.8 313.3h.01M486.3 323.9h.01M486.1 342.3h.01M494.6 320.3h.01M479.6 312.5h.01M487.4 322.2h.01M491.9 338.8h.01M502.1 318.3h.01M488.4 325.5h.01M502.9 310.9h.01M490.8 335.4h.01M481.4 309.5h.01M502.4 336.0h.01M490.3 298.7h.01M500.3 328.9h.01M498.3 344.5h.01M500.1 314.9h.01M481.1 308.1h.01M490.3 319.3h.01" stroke="#999" stroke-width="0.30" stroke-linecap="round" fill="none"/>
<path d="M514.2 302.5h.01M538.0 324.4h.01M523.1 344.7h.01M538.4 295.2h.01M526.2 334.0h.01M520.6 328.9h.01M504.2 308.8h.01M549.5 323.5h.01M540.1 303.2h.01M530.9 321.8h.01M518.4 326.6h.01M532.7 344.8h.01M535.0 314.4h.01M510.6 301.2h.01M545.0 298.5h.01M509.4 301.9h.01M532.2 335.8h.01M537.1 334.9h.01M507.4 293.6h.01M545.6 309.8h.01M542.6 311.4h.01M513.1 306.9h.01M509.4 340.0h.01M535.4 311.1h.01M528.3 313.1h.01" stroke="#aaa" stroke-width="0.30" stroke-linecap="round" fill="none"/>
<path d="M507.0 369.3h.01M535.5 371.0h.01M527.7 362.5h.01M517.5 348.1h.01M554.3 368.4h.01M521.0 369.5h.01M548.1 354.6h.01M536.5 371.0h.01M530.8 370.7h.01M517.1 356.7h.01M542.8 352.5h.01M520.7 368.9h.01M530.2 366.8h.01M517.1 351.3h.01M523.4 351.7h.01M556.5 354.3h.01M534.3 349.9h.01M532.8 356.6h.01M525.8 348.6h.01M510.7 367.6h.01M523.0 353.1h.01M514.3 354.1h.01M516.8 347.9h.01M539.9 355.5h.01M512.4 364.6h.01M509.0 353.7h.01M549.1 350.2h.01M527.9 367.9h.01M547.5 351.0h.01M523.1 365.1h.01M524.4 371.0h.01M515.2 370.8h.01M531.3 352.7h.01M528.4 350.3h.01M542.1 353.5h.01M552.6 361.7h.01M523.9 353.2h.01M536.8 352.3h.01M551.1 350.1h.01M531.7 360.6h.01" stroke="#888" stroke-width="0.35" stroke-linecap="round" fill="none"/>
<path d="M545.1 366.5h.01M541.6 362.8h.01M542.9 356.2h.01M544.7 359.4h.01M549.5 366.7h.01M543.5 364.6h.01M550.0 362.1h.01M543.0 362.5h.01M545.6 359.8h.01M544.9 361.3h.01M550.5 363.7h.01M545.2 363.0h.01M551.8 353.3h.01M551.9 351.3h.01M548.2 361.0h.01M551.9 359.4h.01M544.1 354.0h.01M541.0 361.8h.01M545.1 354.4h.01M548.1 354.2h.01M544.3 355.7h.01M552.6 365.3h.01M545.4 350.1h.01M547.1 358.4h.01M547.4 360.8h.01" stroke="#777" stroke-width="0.35" stroke-linecap="round" fill="none"/>
</g>
<line x1="503.50" y1="291.60" x2="503.50" y2="373.40" stroke="#555" stroke-width="0.50"/>
<line x1="476.40" y1="345.50" x2="559.00" y2="345.50" stroke="#555" stroke-width="0.50"/>
<rect x="476.50" y="291.50" width="83.00" height="82.00" fill="none" stroke="#333" stroke-width="0.65"/>
<line x1="473.40" y1="298.50" x2="476.40" y2="298.50" stroke="#1c1c1c" stroke-width="0.60"/>
<text text-anchor="end" font-size="4.80" x="470.80" y="300.33">10<tspan dy="-1.92" font-size="3.46">5</tspan></text>
<line x1="473.40" y1="317.50" x2="476.40" y2="317.50" stroke="#1c1c1c" stroke-width="0.60"/>
<text text-anchor="end" font-size="4.80" x="470.80" y="319.33">10<tspan dy="-1.92" font-size="3.46">4</tspan></text>
<line x1="473.40" y1="336.50" x2="476.40" y2="336.50" stroke="#1c1c1c" stroke-width="0.60"/>
<text text-anchor="end" font-size="4.80" x="470.80" y="337.93">10<tspan dy="-1.92" font-size="3.46">3</tspan></text>
<line x1="473.40" y1="355.50" x2="476.40" y2="355.50" stroke="#1c1c1c" stroke-width="0.60"/>
<text text-anchor="end" font-size="4.80" x="470.80" y="357.33">10<tspan dy="-1.92" font-size="3.46">2</tspan></text>
<line x1="473.40" y1="364.50" x2="476.40" y2="364.50" stroke="#1c1c1c" stroke-width="0.60"/>
<text text-anchor="end" font-size="4.80" x="470.80" y="366.13">0</text>
<line x1="487.50" y1="373.40" x2="487.50" y2="375.40" stroke="#1c1c1c" stroke-width="0.60"/>
<text text-anchor="middle" font-size="4.80" x="487.20" y="383.40">0</text>
<line x1="513.50" y1="373.40" x2="513.50" y2="375.40" stroke="#1c1c1c" stroke-width="0.60"/>
<text text-anchor="middle" font-size="4.80" x="514.20" y="383.40">10<tspan dy="-1.92" font-size="3.46">3</tspan></text>
<line x1="531.50" y1="373.40" x2="531.50" y2="375.40" stroke="#1c1c1c" stroke-width="0.60"/>
<text text-anchor="middle" font-size="4.80" x="532.80" y="383.40">10<tspan dy="-1.92" font-size="3.46">4</tspan></text>
<line x1="551.50" y1="373.40" x2="551.50" y2="375.40" stroke="#1c1c1c" stroke-width="0.60"/>
<text text-anchor="middle" font-size="4.80" x="552.20" y="383.40">10<tspan dy="-1.92" font-size="3.46">5</tspan></text>
<path d="M475.4,293.0h1M475.4,311.9h1M475.4,308.5h1M475.4,306.2h1M475.4,304.3h1M475.4,302.8h1M475.4,301.5h1M475.4,300.4h1M475.4,299.5h1M475.4,330.6h1M475.4,327.3h1M475.4,325.0h1M475.4,323.2h1M475.4,321.7h1M475.4,320.5h1M475.4,319.4h1M475.4,318.5h1M475.4,349.8h1M475.4,346.3h1M475.4,343.9h1M475.4,342.0h1M475.4,340.5h1M475.4,339.2h1M475.4,338.1h1M475.4,337.1h1M500.1,373.4v1M503.4,373.4v1M505.7,373.4v1M507.5,373.4v1M509.0,373.4v1M510.3,373.4v1M511.4,373.4v1M512.3,373.4v1M518.8,373.4v1M522.1,373.4v1M524.4,373.4v1M526.2,373.4v1M527.7,373.4v1M528.9,373.4v1M530.0,373.4v1M530.9,373.4v1M537.6,373.4v1M541.1,373.4v1M543.5,373.4v1M545.4,373.4v1M546.9,373.4v1M548.2,373.4v1M549.3,373.4v1M550.3,373.4v1M557.0,373.4v1" stroke="#1c1c1c" stroke-width="0.35" fill="none"/>
<rect x="474.60" y="363.00" width="1.80" height="2.80" fill="#1c1c1c"/>
<rect x="486.00" y="373.40" width="2.80" height="1.40" fill="#1c1c1c"/>
<text x="478.20" y="297.80">0.50</text>
<text text-anchor="end" x="557.40" y="297.80">0.14</text>
<text text-anchor="end" x="557.40" y="371.60">2.59</text>
<line x1="154.50" y1="355.00" x2="154.50" y2="295.30" stroke="#1c1c1c" stroke-width="0.70"/>
<polygon points="154.50,291.60 156.40,295.80 152.60,295.80" fill="#1c1c1c"/>
<text transform="translate(157.20 373.40) rotate(-90)">IL-17</text>
<text x="171.60" y="394.00">IFN-γ</text>
<line x1="195.40" y1="391.50" x2="554.90" y2="391.50" stroke="#1c1c1c" stroke-width="0.70"/>
<polygon points="558.60,391.50 554.40,393.40 554.40,389.60" fill="#1c1c1c"/>
<rect x="176.00" y="446.55" width="15.60" height="77.85" fill="#1c1c1c"/>
<line x1="183.50" y1="446.55" x2="183.50" y2="434.48" stroke="#1c1c1c" stroke-width="0.60"/>
<line x1="180.06" y1="434.50" x2="187.54" y2="434.50" stroke="#1c1c1c" stroke-width="0.60"/>
<rect x="199.00" y="490.66" width="15.60" height="33.74" fill="#1c1c1c"/>
<line x1="206.50" y1="490.66" x2="206.50" y2="484.05" stroke="#1c1c1c" stroke-width="0.60"/>
<line x1="203.06" y1="484.50" x2="210.54" y2="484.50" stroke="#1c1c1c" stroke-width="0.60"/>
<rect x="222.00" y="482.23" width="15.60" height="42.17" fill="#1c1c1c"/>
<line x1="229.50" y1="482.23" x2="229.50" y2="477.43" stroke="#1c1c1c" stroke-width="0.60"/>
<line x1="226.06" y1="477.50" x2="233.54" y2="477.50" stroke="#1c1c1c" stroke-width="0.60"/>
<line x1="172.50" y1="420.30" x2="172.50" y2="524.70" stroke="#1c1c1c" stroke-width="0.65"/>
<line x1="172.10" y1="524.50" x2="240.00" y2="524.50" stroke="#1c1c1c" stroke-width="0.65"/>
<line x1="169.80" y1="524.50" x2="172.40" y2="524.50" stroke="#1c1c1c" stroke-width="0.60"/>
<text text-anchor="end" x="167.60" y="526.70">0</text>
<line x1="169.80" y1="498.50" x2="172.40" y2="498.50" stroke="#1c1c1c" stroke-width="0.60"/>
<text text-anchor="end" x="167.60" y="500.75">2</text>
<line x1="169.80" y1="472.50" x2="172.40" y2="472.50" stroke="#1c1c1c" stroke-width="0.60"/>
<text text-anchor="end" x="167.60" y="474.80">4</text>
<line x1="169.80" y1="446.50" x2="172.40" y2="446.50" stroke="#1c1c1c" stroke-width="0.60"/>
<text text-anchor="end" x="167.60" y="448.85">6</text>
<line x1="169.80" y1="420.50" x2="172.40" y2="420.50" stroke="#1c1c1c" stroke-width="0.60"/>
<text text-anchor="end" x="167.60" y="422.90">8</text>
<line x1="183.50" y1="524.40" x2="183.50" y2="526.80" stroke="#1c1c1c" stroke-width="0.60"/>
<line x1="206.50" y1="524.40" x2="206.50" y2="526.80" stroke="#1c1c1c" stroke-width="0.60"/>
<line x1="229.50" y1="524.40" x2="229.50" y2="526.80" stroke="#1c1c1c" stroke-width="0.60"/>
<text text-anchor="middle" transform="translate(157.60 473.00) rotate(-90)">IFN-γ<tspan dy="-2.60" font-size="4.68">+</tspan><tspan dy="2.60">CD4</tspan><tspan dy="-2.60" font-size="4.68">+</tspan><tspan dy="2.60"> T cells (%)</tspan></text>
<line x1="184.00" y1="421.50" x2="229.40" y2="421.50" stroke="#8a8a8a" stroke-width="0.65"/>
<text text-anchor="middle" font-size="9.00" x="206.70" y="422.60">**</text>
<line x1="184.00" y1="429.50" x2="206.60" y2="429.50" stroke="#1c1c1c" stroke-width="0.65"/>
<text text-anchor="middle" font-size="9.00" x="195.30" y="430.00">**</text>
<line x1="209.60" y1="474.50" x2="227.40" y2="474.50" stroke="#1c1c1c" stroke-width="0.65"/>
<text text-anchor="middle" x="218.50" y="472.80">ns</text>
<text text-anchor="end" x="172.00" y="536.00">Recipient</text>
<text text-anchor="end" x="172.00" y="546.80">Donor</text>
<text text-anchor="end" x="172.40" y="554.80">T2-MZP</text>
<text text-anchor="middle" x="184.80" y="536.00">WT</text>
<text text-anchor="middle" x="207.80" y="536.00">WT</text>
<text text-anchor="middle" x="230.80" y="536.00">WT</text>
<text text-anchor="middle" font-size="6.00" x="184.80" y="546.50">−</text>
<text text-anchor="middle" x="207.80" y="546.80">WT</text>
<text text-anchor="middle" x="231.20" y="546.80"><tspan font-style="italic">Jα18</tspan><tspan dy="-2.60" font-size="4.68">−/−</tspan></text>
<rect x="291.00" y="444.99" width="15.60" height="79.41" fill="#1c1c1c"/>
<line x1="298.50" y1="444.99" x2="298.50" y2="436.43" stroke="#1c1c1c" stroke-width="0.60"/>
<line x1="295.06" y1="436.50" x2="302.54" y2="436.50" stroke="#1c1c1c" stroke-width="0.60"/>
<rect x="314.00" y="473.54" width="15.60" height="50.86" fill="#1c1c1c"/>
<line x1="321.50" y1="473.54" x2="321.50" y2="465.49" stroke="#1c1c1c" stroke-width="0.60"/>
<line x1="318.06" y1="465.50" x2="325.54" y2="465.50" stroke="#1c1c1c" stroke-width="0.60"/>
<rect x="337.00" y="481.84" width="15.60" height="42.56" fill="#1c1c1c"/>
<line x1="344.50" y1="481.84" x2="344.50" y2="468.87" stroke="#1c1c1c" stroke-width="0.60"/>
<line x1="341.06" y1="468.50" x2="348.54" y2="468.50" stroke="#1c1c1c" stroke-width="0.60"/>
<line x1="287.50" y1="420.30" x2="287.50" y2="524.70" stroke="#1c1c1c" stroke-width="0.65"/>
<line x1="287.10" y1="524.50" x2="356.00" y2="524.50" stroke="#1c1c1c" stroke-width="0.65"/>
<line x1="284.80" y1="524.50" x2="287.40" y2="524.50" stroke="#1c1c1c" stroke-width="0.60"/>
<text text-anchor="end" x="282.60" y="526.70">0.0</text>
<line x1="284.80" y1="498.50" x2="287.40" y2="498.50" stroke="#1c1c1c" stroke-width="0.60"/>
<text text-anchor="end" x="282.60" y="500.75">0.5</text>
<line x1="284.80" y1="472.50" x2="287.40" y2="472.50" stroke="#1c1c1c" stroke-width="0.60"/>
<text text-anchor="end" x="282.60" y="474.80">1.0</text>
<line x1="284.80" y1="446.50" x2="287.40" y2="446.50" stroke="#1c1c1c" stroke-width="0.60"/>
<text text-anchor="end" x="282.60" y="448.85">1.5</text>
<line x1="284.80" y1="420.50" x2="287.40" y2="420.50" stroke="#1c1c1c" stroke-width="0.60"/>
<text text-anchor="end" x="282.60" y="422.90">2.0</text>
<line x1="298.50" y1="524.40" x2="298.50" y2="526.80" stroke="#1c1c1c" stroke-width="0.60"/>
<line x1="321.50" y1="524.40" x2="321.50" y2="526.80" stroke="#1c1c1c" stroke-width="0.60"/>
<line x1="344.50" y1="524.40" x2="344.50" y2="526.80" stroke="#1c1c1c" stroke-width="0.60"/>
<text text-anchor="middle" transform="translate(264.60 475.00) rotate(-90)">IL-17<tspan dy="-2.60" font-size="4.68">+</tspan><tspan dy="2.60">CD4</tspan><tspan dy="-2.60" font-size="4.68">+</tspan><tspan dy="2.60"> T cells (%)</tspan></text>
<line x1="299.00" y1="425.50" x2="345.00" y2="425.50" stroke="#8a8a8a" stroke-width="0.65"/>
<text text-anchor="middle" x="322.00" y="423.40">ns</text>
<line x1="299.00" y1="433.50" x2="318.00" y2="433.50" stroke="#1c1c1c" stroke-width="0.65"/>
<text text-anchor="middle" x="308.50" y="431.40">ns</text>
<line x1="325.00" y1="461.50" x2="343.00" y2="461.50" stroke="#1c1c1c" stroke-width="0.65"/>
<text text-anchor="middle" x="334.00" y="459.80">ns</text>
<text text-anchor="end" x="287.00" y="536.00">Recipient</text>
<text text-anchor="end" x="287.00" y="546.80">Donor</text>
<text text-anchor="end" x="287.40" y="554.80">T2-MZP</text>
<text text-anchor="middle" x="299.80" y="536.00">WT</text>
<text text-anchor="middle" x="322.80" y="536.00">WT</text>
<text text-anchor="middle" x="345.80" y="536.00">WT</text>
<text text-anchor="middle" font-size="6.00" x="299.80" y="546.50">−</text>
<text text-anchor="middle" x="322.80" y="546.80">WT</text>
<text text-anchor="middle" x="346.20" y="546.80"><tspan font-style="italic">Jα18</tspan><tspan dy="-2.60" font-size="4.68">−/−</tspan></text>
<rect x="405.00" y="452.00" width="15.60" height="72.40" fill="#1c1c1c"/>
<line x1="412.50" y1="452.00" x2="412.50" y2="425.40" stroke="#1c1c1c" stroke-width="0.60"/>
<line x1="409.06" y1="425.50" x2="416.54" y2="425.50" stroke="#1c1c1c" stroke-width="0.60"/>
<rect x="428.00" y="497.41" width="15.60" height="26.99" fill="#1c1c1c"/>
<line x1="435.50" y1="497.41" x2="435.50" y2="494.04" stroke="#1c1c1c" stroke-width="0.60"/>
<line x1="432.06" y1="494.50" x2="439.54" y2="494.50" stroke="#1c1c1c" stroke-width="0.60"/>
<rect x="451.00" y="494.04" width="15.60" height="30.36" fill="#1c1c1c"/>
<line x1="458.50" y1="494.04" x2="458.50" y2="488.46" stroke="#1c1c1c" stroke-width="0.60"/>
<line x1="455.06" y1="488.50" x2="462.54" y2="488.50" stroke="#1c1c1c" stroke-width="0.60"/>
<line x1="401.50" y1="420.30" x2="401.50" y2="524.70" stroke="#1c1c1c" stroke-width="0.65"/>
<line x1="401.10" y1="524.50" x2="470.60" y2="524.50" stroke="#1c1c1c" stroke-width="0.65"/>
<line x1="398.80" y1="524.50" x2="401.40" y2="524.50" stroke="#1c1c1c" stroke-width="0.60"/>
<text text-anchor="end" x="396.60" y="526.70">0</text>
<line x1="398.80" y1="498.50" x2="401.40" y2="498.50" stroke="#1c1c1c" stroke-width="0.60"/>
<text text-anchor="end" x="396.60" y="500.75">2</text>
<line x1="398.80" y1="472.50" x2="401.40" y2="472.50" stroke="#1c1c1c" stroke-width="0.60"/>
<text text-anchor="end" x="396.60" y="474.80">4</text>
<line x1="398.80" y1="446.50" x2="401.40" y2="446.50" stroke="#1c1c1c" stroke-width="0.60"/>
<text text-anchor="end" x="396.60" y="448.85">6</text>
<line x1="398.80" y1="420.50" x2="401.40" y2="420.50" stroke="#1c1c1c" stroke-width="0.60"/>
<text text-anchor="end" x="396.60" y="422.90">8</text>
<line x1="412.50" y1="524.40" x2="412.50" y2="526.80" stroke="#1c1c1c" stroke-width="0.60"/>
<line x1="435.50" y1="524.40" x2="435.50" y2="526.80" stroke="#1c1c1c" stroke-width="0.60"/>
<line x1="458.50" y1="524.40" x2="458.50" y2="526.80" stroke="#1c1c1c" stroke-width="0.60"/>
<text text-anchor="middle" transform="translate(384.60 473.00) rotate(-90)">IFN-γ<tspan dy="-2.60" font-size="4.68">+</tspan><tspan dy="2.60">CD4</tspan><tspan dy="-2.60" font-size="4.68">+</tspan><tspan dy="2.60"> T cells (×10</tspan><tspan dy="-2.60" font-size="4.68">6</tspan><tspan dy="2.60">)</tspan></text>
<line x1="413.00" y1="411.50" x2="458.40" y2="411.50" stroke="#1c1c1c" stroke-width="0.65"/>
<text text-anchor="middle" x="435.70" y="409.80">ns</text>
<line x1="413.00" y1="422.50" x2="430.00" y2="422.50" stroke="#1c1c1c" stroke-width="0.65"/>
<text text-anchor="middle" x="421.50" y="420.80">ns</text>
<line x1="440.00" y1="483.50" x2="457.40" y2="483.50" stroke="#1c1c1c" stroke-width="0.65"/>
<text text-anchor="middle" x="448.70" y="481.40">ns</text>
<text text-anchor="end" x="401.00" y="536.00">Recipient</text>
<text text-anchor="end" x="401.00" y="546.80">Donor</text>
<text text-anchor="end" x="401.40" y="554.80">T2-MZP</text>
<text text-anchor="middle" x="413.80" y="536.00">WT</text>
<text text-anchor="middle" x="436.80" y="536.00">WT</text>
<text text-anchor="middle" x="459.80" y="536.00">WT</text>
<text text-anchor="middle" font-size="6.00" x="413.80" y="546.50">−</text>
<text text-anchor="middle" x="436.80" y="546.80">WT</text>
<text text-anchor="middle" x="460.20" y="546.80"><tspan font-style="italic">Jα18</tspan><tspan dy="-2.60" font-size="4.68">−/−</tspan></text>
<rect x="516.00" y="457.55" width="15.60" height="66.85" fill="#1c1c1c"/>
<line x1="523.50" y1="457.55" x2="523.50" y2="439.28" stroke="#1c1c1c" stroke-width="0.60"/>
<line x1="520.06" y1="439.50" x2="527.54" y2="439.50" stroke="#1c1c1c" stroke-width="0.60"/>
<rect x="539.00" y="496.17" width="15.60" height="28.23" fill="#1c1c1c"/>
<line x1="546.50" y1="496.17" x2="546.50" y2="489.52" stroke="#1c1c1c" stroke-width="0.60"/>
<line x1="543.06" y1="489.50" x2="550.54" y2="489.50" stroke="#1c1c1c" stroke-width="0.60"/>
<rect x="562.00" y="503.64" width="15.60" height="20.76" fill="#1c1c1c"/>
<line x1="569.50" y1="503.64" x2="569.50" y2="499.49" stroke="#1c1c1c" stroke-width="0.60"/>
<line x1="566.06" y1="499.50" x2="573.54" y2="499.50" stroke="#1c1c1c" stroke-width="0.60"/>
<line x1="512.50" y1="420.30" x2="512.50" y2="524.70" stroke="#1c1c1c" stroke-width="0.65"/>
<line x1="512.10" y1="524.50" x2="581.40" y2="524.50" stroke="#1c1c1c" stroke-width="0.65"/>
<line x1="509.80" y1="524.50" x2="512.40" y2="524.50" stroke="#1c1c1c" stroke-width="0.60"/>
<text text-anchor="end" x="507.60" y="526.70">0.0</text>
<line x1="509.80" y1="503.50" x2="512.40" y2="503.50" stroke="#1c1c1c" stroke-width="0.60"/>
<text text-anchor="end" x="507.60" y="505.94">0.5</text>
<line x1="509.80" y1="482.50" x2="512.40" y2="482.50" stroke="#1c1c1c" stroke-width="0.60"/>
<text text-anchor="end" x="507.60" y="485.18">1.0</text>
<line x1="509.80" y1="462.50" x2="512.40" y2="462.50" stroke="#1c1c1c" stroke-width="0.60"/>
<text text-anchor="end" x="507.60" y="464.42">1.5</text>
<line x1="509.80" y1="441.50" x2="512.40" y2="441.50" stroke="#1c1c1c" stroke-width="0.60"/>
<text text-anchor="end" x="507.60" y="443.66">2.0</text>
<line x1="509.80" y1="420.50" x2="512.40" y2="420.50" stroke="#1c1c1c" stroke-width="0.60"/>
<text text-anchor="end" x="507.60" y="422.90">2.5</text>
<line x1="523.50" y1="524.40" x2="523.50" y2="526.80" stroke="#1c1c1c" stroke-width="0.60"/>
<line x1="546.50" y1="524.40" x2="546.50" y2="526.80" stroke="#1c1c1c" stroke-width="0.60"/>
<line x1="569.50" y1="524.40" x2="569.50" y2="526.80" stroke="#1c1c1c" stroke-width="0.60"/>
<text text-anchor="middle" transform="translate(490.60 472.00) rotate(-90)">IL-17<tspan dy="-2.60" font-size="4.68">+</tspan><tspan dy="2.60">CD4</tspan><tspan dy="-2.60" font-size="4.68">+</tspan><tspan dy="2.60"> T cells (×10</tspan><tspan dy="-2.60" font-size="4.68">6</tspan><tspan dy="2.60">)</tspan></text>
<line x1="524.40" y1="424.50" x2="570.00" y2="424.50" stroke="#8a8a8a" stroke-width="0.65"/>
<text text-anchor="middle" font-size="9.00" x="547.20" y="425.00">*</text>
<line x1="524.40" y1="432.50" x2="542.40" y2="432.50" stroke="#1c1c1c" stroke-width="0.65"/>
<text text-anchor="middle" x="533.40" y="430.80">ns</text>
<line x1="550.40" y1="484.50" x2="568.40" y2="484.50" stroke="#8a8a8a" stroke-width="0.65"/>
<text text-anchor="middle" x="559.40" y="482.80">ns</text>
<text text-anchor="end" x="512.00" y="536.00">Recipient</text>
<text text-anchor="end" x="512.00" y="546.80">Donor</text>
<text text-anchor="end" x="512.40" y="554.80">T2-MZP</text>
<text text-anchor="middle" x="524.80" y="536.00">WT</text>
<text text-anchor="middle" x="547.80" y="536.00">WT</text>
<text text-anchor="middle" x="570.80" y="536.00">WT</text>
<text text-anchor="middle" font-size="6.00" x="524.80" y="546.50">−</text>
<text text-anchor="middle" x="547.80" y="546.80">WT</text>
<text text-anchor="middle" x="571.20" y="546.80"><tspan font-style="italic">Jα18</tspan><tspan dy="-2.60" font-size="4.68">−/−</tspan></text>
<g transform="translate(33.30 600.40) scale(1.000)" stroke="#1c1c1c" stroke-width="0.65" fill="none" stroke-linecap="round" stroke-linejoin="round">
<path d="M-14.3,-9.6 C-9.5,-9.4 -8,-15 -2.5,-15.3 C1.5,-15.4 2.6,-13.6 2.1,-11.2 C1.8,-9.6 1,-9 0.6,-7.4"/>
<path d="M-6,-1.8 C-6.2,-5.6 -3.2,-7.5 0,-7.5 C3.2,-7.5 6.2,-5.6 6,-1.8 L4.6,2 L2.6,7.6 Q0,10.6 -2.6,7.6 L-4.6,2 Z" fill="#fff" stroke="#1c1c1c"/>
<circle cx="-5.4" cy="0" r="2.3" fill="#fff" stroke="#1c1c1c"/>
<circle cx="5.4" cy="0" r="2.3" fill="#fff" stroke="#1c1c1c"/>
<circle cx="-2.6" cy="3.4" r="0.55" fill="#1c1c1c" stroke="none"/><circle cx="2.6" cy="3.4" r="0.55" fill="#1c1c1c" stroke="none"/>
<path d="M-8.8,5.6 L-3.2,7.6 M-8.8,8.6 L-3,8.3 M8.8,5.6 L3.2,7.6 M8.8,8.6 L3,8.3" stroke-width="0.6"/>
<path d="M-1.6,8.6 Q0,10.4 1.6,8.6" stroke-width="0.9"/>
</g>
<g transform="translate(122.00 600.50) scale(1.000)" stroke="#1c1c1c" stroke-width="0.65" fill="none" stroke-linecap="round" stroke-linejoin="round">
<path d="M-14.3,-9.6 C-9.5,-9.4 -8,-15 -2.5,-15.3 C1.5,-15.4 2.6,-13.6 2.1,-11.2 C1.8,-9.6 1,-9 0.6,-7.4"/>
<path d="M-6,-1.8 C-6.2,-5.6 -3.2,-7.5 0,-7.5 C3.2,-7.5 6.2,-5.6 6,-1.8 L4.6,2 L2.6,7.6 Q0,10.6 -2.6,7.6 L-4.6,2 Z" fill="#fff" stroke="#1c1c1c"/>
<circle cx="-5.4" cy="0" r="2.3" fill="#fff" stroke="#1c1c1c"/>
<circle cx="5.4" cy="0" r="2.3" fill="#fff" stroke="#1c1c1c"/>
<circle cx="-2.6" cy="3.4" r="0.55" fill="#1c1c1c" stroke="none"/><circle cx="2.6" cy="3.4" r="0.55" fill="#1c1c1c" stroke="none"/>
<path d="M-8.8,5.6 L-3.2,7.6 M-8.8,8.6 L-3,8.3 M8.8,5.6 L3.2,7.6 M8.8,8.6 L3,8.3" stroke-width="0.6"/>
<path d="M-1.6,8.6 Q0,10.4 1.6,8.6" stroke-width="0.9"/>
</g>
<line x1="43.00" y1="598.50" x2="61.70" y2="598.50" stroke="#1c1c1c" stroke-width="0.70"/>
<polygon points="65.40,598.50 61.20,600.40 61.20,596.60" fill="#1c1c1c"/>
<g fill="#fff" stroke="#1c1c1c" stroke-width="0.55">
<circle cx="73.00" cy="593.20" r="1.40"/>
<circle cx="76.00" cy="593.20" r="1.40"/>
<circle cx="79.00" cy="593.20" r="1.40"/>
<circle cx="71.50" cy="595.80" r="1.40"/>
<circle cx="74.50" cy="595.80" r="1.40"/>
<circle cx="77.50" cy="595.80" r="1.40"/>
<circle cx="80.50" cy="595.80" r="1.40"/>
<circle cx="70.00" cy="598.40" r="1.40"/>
<circle cx="73.00" cy="598.40" r="1.40"/>
<circle cx="76.00" cy="598.40" r="1.40"/>
<circle cx="79.00" cy="598.40" r="1.40"/>
<circle cx="82.00" cy="598.40" r="1.40"/>
<circle cx="71.50" cy="601.00" r="1.40"/>
<circle cx="74.50" cy="601.00" r="1.40"/>
<circle cx="77.50" cy="601.00" r="1.40"/>
<circle cx="80.50" cy="601.00" r="1.40"/>
<circle cx="73.00" cy="603.60" r="1.40"/>
<circle cx="76.00" cy="603.60" r="1.40"/>
<circle cx="79.00" cy="603.60" r="1.40"/>
</g>
<line x1="86.00" y1="598.50" x2="103.70" y2="598.50" stroke="#1c1c1c" stroke-width="0.70"/>
<polygon points="107.40,598.50 103.20,600.40 103.20,596.60" fill="#1c1c1c"/>
<text text-anchor="middle" x="33.30" y="616.90">WT</text>
<text text-anchor="middle" x="122.00" y="616.90">WT</text>
<text text-anchor="middle" x="95.60" y="586.00">Adoptive</text>
<text text-anchor="middle" x="95.60" y="594.00">transfer</text>
<g transform="translate(33.30 639.90) scale(1.000)" stroke="#1c1c1c" stroke-width="0.65" fill="none" stroke-linecap="round" stroke-linejoin="round">
<path d="M-14.3,-9.6 C-9.5,-9.4 -8,-15 -2.5,-15.3 C1.5,-15.4 2.6,-13.6 2.1,-11.2 C1.8,-9.6 1,-9 0.6,-7.4"/>
<path d="M-6,-1.8 C-6.2,-5.6 -3.2,-7.5 0,-7.5 C3.2,-7.5 6.2,-5.6 6,-1.8 L4.6,2 L2.6,7.6 Q0,10.6 -2.6,7.6 L-4.6,2 Z" fill="#1c1c1c" stroke="#1c1c1c"/>
<circle cx="-5.4" cy="0" r="2.3" fill="#1c1c1c" stroke="#1c1c1c"/>
<circle cx="5.4" cy="0" r="2.3" fill="#1c1c1c" stroke="#1c1c1c"/>
<path d="M-6.6,-2.2 A2.6,2.6 0 0 1 -3,-0.2 M6.6,-2.2 A2.6,2.6 0 0 0 3,-0.2" stroke="#fff" stroke-width="0.7"/>
<circle cx="-2.6" cy="3.4" r="0.70" fill="#fff" stroke="none"/><circle cx="2.6" cy="3.4" r="0.70" fill="#fff" stroke="none"/>
<path d="M-8.8,5.6 L-3.2,7.6 M-8.8,8.6 L-3,8.3 M8.8,5.6 L3.2,7.6 M8.8,8.6 L3,8.3" stroke-width="0.6"/>
<path d="M-1.6,8.6 Q0,10.4 1.6,8.6" stroke-width="0.9"/>
</g>
<g transform="translate(122.00 640.00) scale(1.000)" stroke="#1c1c1c" stroke-width="0.65" fill="none" stroke-linecap="round" stroke-linejoin="round">
<path d="M-14.3,-9.6 C-9.5,-9.4 -8,-15 -2.5,-15.3 C1.5,-15.4 2.6,-13.6 2.1,-11.2 C1.8,-9.6 1,-9 0.6,-7.4"/>
<path d="M-6,-1.8 C-6.2,-5.6 -3.2,-7.5 0,-7.5 C3.2,-7.5 6.2,-5.6 6,-1.8 L4.6,2 L2.6,7.6 Q0,10.6 -2.6,7.6 L-4.6,2 Z" fill="#fff" stroke="#1c1c1c"/>
<circle cx="-5.4" cy="0" r="2.3" fill="#fff" stroke="#1c1c1c"/>
<circle cx="5.4" cy="0" r="2.3" fill="#fff" stroke="#1c1c1c"/>
<circle cx="-2.6" cy="3.4" r="0.55" fill="#1c1c1c" stroke="none"/><circle cx="2.6" cy="3.4" r="0.55" fill="#1c1c1c" stroke="none"/>
<path d="M-8.8,5.6 L-3.2,7.6 M-8.8,8.6 L-3,8.3 M8.8,5.6 L3.2,7.6 M8.8,8.6 L3,8.3" stroke-width="0.6"/>
<path d="M-1.6,8.6 Q0,10.4 1.6,8.6" stroke-width="0.9"/>
</g>
<line x1="43.00" y1="638.50" x2="61.70" y2="638.50" stroke="#1c1c1c" stroke-width="0.70"/>
<polygon points="65.40,638.50 61.20,640.40 61.20,636.60" fill="#1c1c1c"/>
<g fill="#1c1c1c" stroke="#fff" stroke-width="0.55">
<circle cx="73.00" cy="633.20" r="1.40"/>
<circle cx="76.00" cy="633.20" r="1.40"/>
<circle cx="79.00" cy="633.20" r="1.40"/>
<circle cx="71.50" cy="635.80" r="1.40"/>
<circle cx="74.50" cy="635.80" r="1.40"/>
<circle cx="77.50" cy="635.80" r="1.40"/>
<circle cx="80.50" cy="635.80" r="1.40"/>
<circle cx="70.00" cy="638.40" r="1.40"/>
<circle cx="73.00" cy="638.40" r="1.40"/>
<circle cx="76.00" cy="638.40" r="1.40"/>
<circle cx="79.00" cy="638.40" r="1.40"/>
<circle cx="82.00" cy="638.40" r="1.40"/>
<circle cx="71.50" cy="641.00" r="1.40"/>
<circle cx="74.50" cy="641.00" r="1.40"/>
<circle cx="77.50" cy="641.00" r="1.40"/>
<circle cx="80.50" cy="641.00" r="1.40"/>
<circle cx="73.00" cy="643.60" r="1.40"/>
<circle cx="76.00" cy="643.60" r="1.40"/>
<circle cx="79.00" cy="643.60" r="1.40"/>
</g>
<line x1="86.00" y1="638.50" x2="103.70" y2="638.50" stroke="#1c1c1c" stroke-width="0.70"/>
<polygon points="107.40,638.50 103.20,640.40 103.20,636.60" fill="#1c1c1c"/>
<text text-anchor="middle" x="32.80" y="656.40"><tspan font-style="italic">Cd1d</tspan><tspan dy="-2.60" font-size="4.68">−/−</tspan></text>
<text text-anchor="middle" x="32.80" y="665.00">In remission</text>
<text text-anchor="middle" x="32.80" y="672.80">from</text>
<text text-anchor="middle" x="32.80" y="680.60">arthritis</text>
<text text-anchor="middle" x="76.00" y="652.60">T2-MZP</text>
<text text-anchor="middle" x="76.00" y="660.20">B cell sort</text>
<text text-anchor="middle" x="121.60" y="657.00">WT</text>
<text text-anchor="middle" x="121.60" y="665.40">Arthritis</text>
<text text-anchor="middle" x="121.60" y="673.00">induction</text>
<line x1="43.50" y1="731.10" x2="43.50" y2="835.30" stroke="#1c1c1c" stroke-width="0.75"/>
<line x1="43.10" y1="835.50" x2="112.30" y2="835.50" stroke="#1c1c1c" stroke-width="0.75"/>
<line x1="40.80" y1="835.50" x2="43.40" y2="835.50" stroke="#1c1c1c" stroke-width="0.60"/>
<text text-anchor="end" x="38.40" y="837.30">0</text>
<line x1="40.80" y1="809.50" x2="43.40" y2="809.50" stroke="#1c1c1c" stroke-width="0.60"/>
<text text-anchor="end" x="38.40" y="811.40">20</text>
<line x1="40.80" y1="783.50" x2="43.40" y2="783.50" stroke="#1c1c1c" stroke-width="0.60"/>
<text text-anchor="end" x="38.40" y="785.50">40</text>
<line x1="40.80" y1="757.50" x2="43.40" y2="757.50" stroke="#1c1c1c" stroke-width="0.60"/>
<text text-anchor="end" x="38.40" y="759.60">60</text>
<line x1="40.80" y1="731.50" x2="43.40" y2="731.50" stroke="#1c1c1c" stroke-width="0.60"/>
<text text-anchor="end" x="38.40" y="733.70">80</text>
<line x1="44.50" y1="835.00" x2="44.50" y2="837.40" stroke="#1c1c1c" stroke-width="0.60"/>
<text text-anchor="middle" x="44.00" y="846.00">0</text>
<line x1="64.50" y1="835.00" x2="64.50" y2="837.40" stroke="#1c1c1c" stroke-width="0.60"/>
<text text-anchor="middle" x="64.00" y="846.00">1</text>
<line x1="83.50" y1="835.00" x2="83.50" y2="837.40" stroke="#1c1c1c" stroke-width="0.60"/>
<text text-anchor="middle" x="83.70" y="846.00">2</text>
<line x1="103.50" y1="835.00" x2="103.50" y2="837.40" stroke="#1c1c1c" stroke-width="0.60"/>
<text text-anchor="middle" x="103.30" y="846.00">3</text>
<text text-anchor="middle" x="73.60" y="857.80">Day post disease onset</text>
<text text-anchor="middle" transform="translate(14.10 783.70) rotate(-90)">Increase in knee swelling</text>
<text text-anchor="middle" transform="translate(22.10 783.70) rotate(-90)">compared to control (%)</text>
<line x1="64.50" y1="765.50" x2="64.50" y2="765.50" stroke="#1c1c1c" stroke-width="0.60"/>
<line x1="61.60" y1="765.50" x2="66.40" y2="765.50" stroke="#1c1c1c" stroke-width="0.60"/>
<line x1="83.50" y1="779.50" x2="83.50" y2="779.50" stroke="#1c1c1c" stroke-width="0.60"/>
<line x1="81.30" y1="779.50" x2="86.10" y2="779.50" stroke="#1c1c1c" stroke-width="0.60"/>
<line x1="103.50" y1="798.50" x2="103.50" y2="798.50" stroke="#1c1c1c" stroke-width="0.60"/>
<line x1="100.90" y1="798.50" x2="105.70" y2="798.50" stroke="#1c1c1c" stroke-width="0.60"/>
<path d="M44.00,835.00L64.00,765.46L83.70,779.32L103.30,798.09" fill="none" stroke="#1c1c1c" stroke-width="0.70"/>
<path d="M44.00,833.40L44.00,836.60M45.39,834.20L42.61,835.80M45.39,835.80L42.61,834.20" fill="none" stroke="#1c1c1c" stroke-width="0.60"/>
<path d="M64.00,763.06L64.00,767.86M66.08,764.26L61.92,766.66M66.08,766.66L61.92,764.26" fill="none" stroke="#1c1c1c" stroke-width="0.60"/>
<path d="M83.70,776.92L83.70,781.72M85.78,778.12L81.62,780.52M85.78,780.52L81.62,778.12" fill="none" stroke="#1c1c1c" stroke-width="0.60"/>
<path d="M103.30,795.69L103.30,800.49M105.38,796.89L101.22,799.29M105.38,799.29L101.22,796.89" fill="none" stroke="#1c1c1c" stroke-width="0.60"/>
<line x1="64.50" y1="800.55" x2="64.50" y2="795.89" stroke="#1c1c1c" stroke-width="0.60"/>
<line x1="61.60" y1="795.50" x2="66.40" y2="795.50" stroke="#1c1c1c" stroke-width="0.60"/>
<line x1="83.50" y1="812.60" x2="83.50" y2="807.29" stroke="#1c1c1c" stroke-width="0.60"/>
<line x1="81.30" y1="807.50" x2="86.10" y2="807.50" stroke="#1c1c1c" stroke-width="0.60"/>
<line x1="103.50" y1="822.05" x2="103.50" y2="819.46" stroke="#1c1c1c" stroke-width="0.60"/>
<line x1="100.90" y1="819.50" x2="105.70" y2="819.50" stroke="#1c1c1c" stroke-width="0.60"/>
<path d="M44.00,835.00L64.00,800.55L83.70,812.60L103.30,822.05" fill="none" stroke="#1c1c1c" stroke-width="0.70"/>
<circle cx="44.00" cy="835.00" r="1.30" fill="#fff" stroke="#1c1c1c" stroke-width="0.65"/>
<circle cx="64.00" cy="800.55" r="2.60" fill="#fff" stroke="#1c1c1c" stroke-width="0.65"/>
<circle cx="83.70" cy="812.60" r="2.60" fill="#fff" stroke="#1c1c1c" stroke-width="0.65"/>
<circle cx="103.30" cy="822.05" r="2.60" fill="#fff" stroke="#1c1c1c" stroke-width="0.65"/>
<line x1="64.50" y1="761.57" x2="64.50" y2="755.23" stroke="#1c1c1c" stroke-width="0.60"/>
<line x1="61.60" y1="755.50" x2="66.40" y2="755.50" stroke="#1c1c1c" stroke-width="0.60"/>
<line x1="83.50" y1="779.70" x2="83.50" y2="773.36" stroke="#1c1c1c" stroke-width="0.60"/>
<line x1="81.30" y1="773.50" x2="86.10" y2="773.50" stroke="#1c1c1c" stroke-width="0.60"/>
<line x1="103.50" y1="793.82" x2="103.50" y2="786.70" stroke="#1c1c1c" stroke-width="0.60"/>
<line x1="100.90" y1="786.50" x2="105.70" y2="786.50" stroke="#1c1c1c" stroke-width="0.60"/>
<path d="M44.00,835.00L64.00,761.57L83.70,779.70L103.30,793.82" fill="none" stroke="#1c1c1c" stroke-width="0.70"/>
<circle cx="44.00" cy="835.00" r="1.30" fill="#1c1c1c" stroke="#1c1c1c" stroke-width="0.60"/>
<circle cx="64.00" cy="761.57" r="2.60" fill="#1c1c1c" stroke="#1c1c1c" stroke-width="0.60"/>
<circle cx="83.70" cy="779.70" r="2.60" fill="#1c1c1c" stroke="#1c1c1c" stroke-width="0.60"/>
<circle cx="103.30" cy="793.82" r="2.60" fill="#1c1c1c" stroke="#1c1c1c" stroke-width="0.60"/>
<line x1="14.40" y1="698.50" x2="25.60" y2="698.50" stroke="#1c1c1c" stroke-width="0.65"/>
<path d="M20.00,696.10L20.00,701.50M22.34,697.45L17.66,700.15M22.34,700.15L17.66,697.45" fill="none" stroke="#1c1c1c" stroke-width="0.60"/>
<text x="29.40" y="700.80">WT - no transfer</text>
<line x1="14.40" y1="710.50" x2="25.60" y2="710.50" stroke="#1c1c1c" stroke-width="0.65"/>
<circle cx="20.00" cy="710.60" r="2.70" fill="#fff" stroke="#1c1c1c" stroke-width="0.65"/>
<text x="29.40" y="712.80">WT - WT T2-MZP B cells</text>
<line x1="14.40" y1="723.50" x2="25.60" y2="723.50" stroke="#1c1c1c" stroke-width="0.65"/>
<circle cx="20.00" cy="723.20" r="2.70" fill="#1c1c1c" stroke="#1c1c1c" stroke-width="0.60"/>
<text x="29.40" y="726.00">WT - <tspan font-style="italic">Cd1d</tspan><tspan dy="-2.60" font-size="4.68">−/−</tspan><tspan dy="2.60"> T2-MZP B cells</tspan></text>
<text text-anchor="middle" font-size="9.00" x="64.80" y="795.00">****</text>
<text text-anchor="middle" font-size="9.00" x="84.20" y="807.60">****</text>
<text text-anchor="middle" font-size="9.00" x="103.80" y="820.20">****</text>
<line x1="173.00" y1="580.50" x2="560.60" y2="580.50" stroke="#1c1c1c" stroke-width="0.70"/>
<text text-anchor="middle" x="369.00" y="575.40">Gated on live CD4<tspan dy="-2.60" font-size="4.68">+</tspan><tspan dy="2.60"> cells</tspan></text>
<text text-anchor="middle" x="214.00" y="590.80">FMO</text>
<text text-anchor="middle" x="315.00" y="590.80">No transfer</text>
<text text-anchor="middle" x="419.40" y="590.80">WT T2-MZP transfer</text>
<text text-anchor="middle" x="521.00" y="590.80"><tspan font-style="italic">Cd1d</tspan><tspan dy="-2.60" font-size="4.68">−/−</tspan><tspan dy="2.60"> T2-MZP transfer</tspan></text>
<clipPath id="cp5"><rect x="173.00" y="595.00" width="82.60" height="82.60"/></clipPath><g clip-path="url(#cp5)">
<path d="M194.6,664.6C194.6,665.4 194.2,666.2 193.4,666.9C192.7,667.6 191.5,668.2 190.3,668.6C189.1,669.0 187.4,669.2 186.0,669.2C184.6,669.2 182.9,669.0 181.7,668.6C180.5,668.2 179.3,667.6 178.6,666.9C177.8,666.2 177.4,665.4 177.4,664.6C177.4,663.8 177.8,663.0 178.6,662.3C179.3,661.6 180.5,661.0 181.7,660.6C182.9,660.2 184.6,660.0 186.0,660.0C187.4,660.0 189.1,660.2 190.3,660.6C191.5,661.0 192.7,661.6 193.4,662.3C194.2,663.0 194.6,663.8 194.6,664.6Z" fill="#d2d2d2" stroke="#1c1c1c" stroke-width="1.40" stroke-linejoin="round"/>
<ellipse cx="186.00" cy="664.60" rx="7.30" ry="3.30" fill="#c8c8c8"/>
<ellipse cx="186.00" cy="664.60" rx="6.28" ry="2.84" fill="#b8b8b8"/>
<ellipse cx="186.00" cy="664.60" rx="5.26" ry="2.38" fill="#a8a8a8" stroke="#222" stroke-width="0.25"/>
<ellipse cx="186.00" cy="664.60" rx="4.23" ry="1.91" fill="#999" stroke="#222" stroke-width="0.25"/>
<ellipse cx="186.00" cy="664.60" rx="3.21" ry="1.45" fill="#8a8a8a" stroke="#222" stroke-width="0.25"/>
<ellipse cx="186.00" cy="664.60" rx="2.19" ry="0.99" fill="#7a7a7a" stroke="#222" stroke-width="0.25"/>
<ellipse cx="186.00" cy="664.60" rx="1.17" ry="0.53" fill="#5a5a5a" stroke="#222" stroke-width="0.25"/>
<ellipse cx="186.00" cy="664.60" rx="0.36" ry="0.17" fill="#111" stroke="#222" stroke-width="0.25"/>
<path d="M188.7 662.9h.01M193.3 661.4h.01M188.4 660.0h.01M192.8 658.8h.01M189.4 659.5h.01M184.4 662.2h.01M189.9 661.1h.01M193.5 658.0h.01" stroke="#999" stroke-width="0.30" stroke-linecap="round" fill="none"/>
</g>
<line x1="202.50" y1="595.00" x2="202.50" y2="677.60" stroke="#333" stroke-width="0.50"/>
<line x1="173.00" y1="644.50" x2="255.60" y2="644.50" stroke="#333" stroke-width="0.50"/>
<rect x="173.50" y="595.50" width="82.00" height="82.00" fill="none" stroke="#333" stroke-width="0.65"/>
<line x1="170.00" y1="603.50" x2="173.00" y2="603.50" stroke="#1c1c1c" stroke-width="0.60"/>
<text text-anchor="end" font-size="4.80" x="167.40" y="605.33">10<tspan dy="-1.92" font-size="3.46">5</tspan></text>
<line x1="170.00" y1="622.50" x2="173.00" y2="622.50" stroke="#1c1c1c" stroke-width="0.60"/>
<text text-anchor="end" font-size="4.80" x="167.40" y="623.73">10<tspan dy="-1.92" font-size="3.46">4</tspan></text>
<line x1="170.00" y1="642.50" x2="173.00" y2="642.50" stroke="#1c1c1c" stroke-width="0.60"/>
<text text-anchor="end" font-size="4.80" x="167.40" y="643.73">10<tspan dy="-1.92" font-size="3.46">3</tspan></text>
<line x1="170.00" y1="665.50" x2="173.00" y2="665.50" stroke="#1c1c1c" stroke-width="0.60"/>
<text text-anchor="end" font-size="4.80" x="167.40" y="666.73">0</text>
<line x1="184.50" y1="677.60" x2="184.50" y2="679.60" stroke="#1c1c1c" stroke-width="0.60"/>
<text text-anchor="middle" font-size="4.80" x="184.40" y="688.00">0</text>
<line x1="209.50" y1="677.60" x2="209.50" y2="679.60" stroke="#1c1c1c" stroke-width="0.60"/>
<text text-anchor="middle" font-size="4.80" x="210.60" y="688.00">10<tspan dy="-1.92" font-size="3.46">3</tspan></text>
<line x1="228.50" y1="677.60" x2="228.50" y2="679.60" stroke="#1c1c1c" stroke-width="0.60"/>
<text text-anchor="middle" font-size="4.80" x="229.40" y="688.00">10<tspan dy="-1.92" font-size="3.46">4</tspan></text>
<line x1="248.50" y1="677.60" x2="248.50" y2="679.60" stroke="#1c1c1c" stroke-width="0.60"/>
<text text-anchor="middle" font-size="4.80" x="249.00" y="688.00">10<tspan dy="-1.92" font-size="3.46">5</tspan></text>
<path d="M172.0,598.0h1M172.0,616.5h1M172.0,613.2h1M172.0,610.9h1M172.0,609.1h1M172.0,607.7h1M172.0,606.5h1M172.0,605.4h1M172.0,604.4h1M172.0,636.0h1M172.0,632.5h1M172.0,630.0h1M172.0,628.0h1M172.0,626.4h1M172.0,625.1h1M172.0,623.9h1M172.0,622.9h1M172.0,650.4h1M172.0,648.3h1M172.0,646.8h1M172.0,645.6h1M172.0,644.7h1M172.0,643.9h1M172.0,643.2h1M172.0,642.5h1M195.9,677.6v1M199.4,677.6v1M201.8,677.6v1M203.7,677.6v1M205.3,677.6v1M206.6,677.6v1M207.7,677.6v1M208.7,677.6v1M215.3,677.6v1M218.6,677.6v1M220.9,677.6v1M222.7,677.6v1M224.2,677.6v1M225.5,677.6v1M226.6,677.6v1M227.5,677.6v1M234.3,677.6v1M237.8,677.6v1M240.2,677.6v1M242.1,677.6v1M243.7,677.6v1M245.0,677.6v1M246.1,677.6v1M247.1,677.6v1M253.7,677.6v1" stroke="#1c1c1c" stroke-width="0.35" fill="none"/>
<rect x="171.20" y="663.60" width="1.80" height="2.80" fill="#1c1c1c"/>
<rect x="183.00" y="677.60" width="2.80" height="1.40" fill="#1c1c1c"/>
<text text-anchor="end" x="254.00" y="602.80">0</text>
<text text-anchor="end" x="254.00" y="674.60">0</text>
<text x="176.60" y="602.80">0</text>
<clipPath id="cp6"><rect x="272.40" y="595.00" width="83.20" height="82.60"/></clipPath><g clip-path="url(#cp6)">
<path d="M295.0,660.6C295.7,659.5 297.7,660.3 299.0,660.0C300.3,659.7 301.2,658.9 303.0,658.6C304.8,658.3 307.2,658.3 310.0,658.2C312.8,658.1 316.7,658.0 320.0,658.0C323.3,658.0 327.0,658.0 330.0,658.0C333.0,658.0 335.8,658.1 338.0,658.2C340.2,658.3 341.7,658.2 343.0,658.6C344.3,659.0 345.1,659.9 345.6,660.6C346.1,661.3 346.1,662.2 346.0,663.0C345.9,663.8 345.8,664.9 345.0,665.6C344.2,666.3 342.8,666.7 341.0,667.0C339.2,667.3 336.8,667.2 334.0,667.2C331.2,667.2 327.3,667.1 324.0,667.0C320.7,666.9 317.0,666.9 314.0,666.8C311.0,666.7 308.3,666.7 306.0,666.6C303.7,666.5 301.8,666.0 300.0,666.0C298.2,666.0 295.8,667.3 295.0,666.4C294.2,665.5 294.3,661.7 295.0,660.6Z" fill="#1c1c1c" stroke-linejoin="round"/>
<path d="M300.0,661.8C301.3,661.3 305.0,661.3 308.0,661.2C311.0,661.1 314.7,661.0 318.0,661.0C321.3,661.0 325.0,660.9 328.0,661.0C331.0,661.1 334.1,661.1 336.0,661.4C337.9,661.7 339.6,662.3 339.6,662.8C339.6,663.3 338.3,664.1 336.0,664.4C333.7,664.7 329.3,664.6 326.0,664.6C322.7,664.6 319.3,664.6 316.0,664.6C312.7,664.6 308.7,664.4 306.0,664.4C303.3,664.4 301.0,664.8 300.0,664.4C299.0,664.0 298.7,662.3 300.0,661.8Z" fill="#d0d0d0" stroke-linejoin="round"/>
<path d="M296.6,663.3C296.6,664.7 296.1,666.2 295.2,667.4C294.3,668.6 292.8,669.7 291.2,670.4C289.6,671.1 287.6,671.5 285.8,671.5C284.0,671.5 282.0,671.1 280.4,670.4C278.8,669.7 277.3,668.6 276.4,667.4C275.5,666.2 275.0,664.7 275.0,663.3C275.0,661.9 275.5,660.4 276.4,659.2C277.3,658.0 278.8,656.9 280.4,656.2C282.0,655.5 284.0,655.1 285.8,655.1C287.6,655.1 289.6,655.5 291.2,656.2C292.8,656.9 294.3,658.0 295.2,659.2C296.1,660.4 296.6,661.9 296.6,663.3Z" fill="#d2d2d2" stroke="#1c1c1c" stroke-width="1.40" stroke-linejoin="round"/>
<ellipse cx="285.80" cy="663.30" rx="9.50" ry="6.90" fill="#c8c8c8"/>
<ellipse cx="285.80" cy="663.30" rx="8.17" ry="5.93" fill="#b8b8b8"/>
<ellipse cx="285.80" cy="663.30" rx="6.84" ry="4.97" fill="#a8a8a8" stroke="#222" stroke-width="0.25"/>
<ellipse cx="285.80" cy="663.30" rx="5.51" ry="4.00" fill="#999" stroke="#222" stroke-width="0.25"/>
<ellipse cx="285.80" cy="663.30" rx="4.18" ry="3.04" fill="#8a8a8a" stroke="#222" stroke-width="0.25"/>
<ellipse cx="285.80" cy="663.30" rx="2.85" ry="2.07" fill="#7a7a7a" stroke="#222" stroke-width="0.25"/>
<ellipse cx="285.80" cy="663.30" rx="1.52" ry="1.10" fill="#5a5a5a" stroke="#222" stroke-width="0.25"/>
<ellipse cx="285.80" cy="663.30" rx="0.48" ry="0.34" fill="#111" stroke="#222" stroke-width="0.25"/>
<path d="M285.6,607.4C285.9,607.0 286.6,606.6 287.0,607.0C287.4,607.4 287.8,609.0 288.2,610.0C288.6,611.0 289.3,612.0 289.6,613.0C289.9,614.0 289.9,615.0 289.8,616.0C289.7,617.0 289.2,618.4 288.8,618.8C288.4,619.2 287.7,619.0 287.4,618.4C287.1,617.8 287.2,616.1 287.0,615.0C286.8,613.9 286.3,612.9 286.0,612.0C285.7,611.1 285.5,610.2 285.4,609.4C285.3,608.6 285.3,607.8 285.6,607.4Z" fill="#1c1c1c" stroke-linejoin="round"/>
<path d="M287.3 625.5h.01M290.0 609.0h.01M289.6 624.6h.01M291.6 635.7h.01M287.5 616.9h.01M286.5 610.7h.01M287.4 599.5h.01M287.2 627.1h.01M290.5 617.8h.01M291.7 614.2h.01M287.1 599.5h.01M285.2 612.5h.01M291.9 628.2h.01M284.3 628.3h.01M288.9 619.3h.01M287.6 618.4h.01M285.9 601.2h.01M287.2 637.1h.01M291.7 618.7h.01M285.3 619.5h.01M290.1 626.1h.01M285.8 626.2h.01M286.9 628.0h.01M286.3 604.8h.01M287.7 630.9h.01M284.3 620.7h.01M290.1 617.6h.01M289.9 634.0h.01M284.7 641.1h.01M282.7 615.9h.01M289.7 637.5h.01M284.8 614.2h.01M288.1 599.5h.01M289.4 628.5h.01M286.2 628.3h.01M289.8 625.6h.01M289.0 639.6h.01M286.1 623.9h.01M286.0 634.0h.01M286.3 627.5h.01M287.9 622.8h.01M292.5 621.0h.01M291.6 631.6h.01M291.3 620.1h.01M290.2 630.8h.01M285.7 625.1h.01M287.1 621.6h.01M291.3 613.6h.01M282.6 601.8h.01M286.2 614.5h.01M287.5 628.6h.01M292.6 625.6h.01M288.8 613.5h.01M289.2 637.7h.01M291.4 599.4h.01M290.1 640.3h.01M289.9 604.7h.01M286.6 628.8h.01" stroke="#3a3a3a" stroke-width="0.45" stroke-linecap="round" fill="none"/>
<path d="M296.3 611.0h.01M284.0 621.9h.01M284.0 635.1h.01M280.5 597.9h.01M289.3 625.5h.01M296.1 629.2h.01M298.4 640.4h.01M287.3 619.5h.01M278.3 610.1h.01M289.7 599.8h.01M292.6 603.7h.01M286.0 641.6h.01M276.4 597.9h.01M285.9 605.0h.01M293.5 596.1h.01M296.7 636.2h.01M295.2 616.0h.01M281.6 627.1h.01M287.9 615.8h.01M283.1 616.6h.01M292.0 634.8h.01M298.4 603.7h.01M282.0 616.8h.01M289.2 612.4h.01M279.3 600.0h.01" stroke="#888" stroke-width="0.30" stroke-linecap="round" fill="none"/>
<path d="M286.0 654.0h.01M291.3 648.4h.01M290.6 641.9h.01M289.7 648.7h.01M287.3 648.7h.01M285.8 645.1h.01M286.2 655.0h.01M289.2 648.7h.01M286.0 647.3h.01M284.7 656.9h.01M288.3 650.5h.01M286.1 646.1h.01M289.5 653.0h.01M285.2 653.8h.01M284.9 652.5h.01M285.2 648.4h.01M288.0 651.7h.01M288.9 646.8h.01M290.0 655.2h.01M287.0 651.8h.01" stroke="#888" stroke-width="0.30" stroke-linecap="round" fill="none"/>
<path d="M330.1 608.6h.01M328.0 622.5h.01M314.6 623.3h.01M308.8 620.6h.01M333.0 600.7h.01M323.8 600.4h.01M325.4 636.7h.01M331.1 629.9h.01M341.6 602.3h.01M353.5 630.2h.01M308.2 635.2h.01M323.0 604.9h.01M352.0 622.9h.01M342.5 603.3h.01M342.6 599.6h.01M315.1 614.1h.01M303.8 624.3h.01M313.9 610.8h.01M339.1 616.6h.01M348.3 625.6h.01M347.5 622.9h.01M349.8 637.1h.01M311.6 631.3h.01M320.4 632.1h.01M337.7 635.0h.01M309.3 614.2h.01M340.6 640.6h.01M339.8 599.0h.01M333.8 601.6h.01M331.0 633.9h.01M308.8 639.6h.01M337.4 608.7h.01M312.9 617.6h.01M345.7 623.7h.01M308.8 598.0h.01M308.6 633.8h.01M312.4 622.5h.01M317.8 628.6h.01M322.4 603.6h.01M347.6 621.8h.01M338.2 634.2h.01M351.4 597.6h.01M320.5 603.9h.01M328.6 637.2h.01M343.8 598.6h.01M312.3 634.6h.01M337.7 615.1h.01M327.3 604.3h.01M346.1 615.1h.01M347.5 625.1h.01M306.9 612.1h.01M314.0 638.1h.01M333.1 599.0h.01M311.7 613.6h.01M326.9 623.5h.01M322.8 613.3h.01M303.3 623.6h.01M320.0 597.9h.01M326.4 642.4h.01M305.3 603.7h.01M337.2 609.5h.01M316.9 620.0h.01M316.4 623.2h.01M329.9 641.0h.01M353.6 598.6h.01M331.6 632.5h.01M347.5 632.6h.01M335.3 626.2h.01M321.5 610.0h.01M343.6 637.1h.01M350.9 628.3h.01M318.5 632.1h.01M340.7 620.4h.01M335.4 613.1h.01M331.1 615.7h.01M306.1 612.5h.01M319.5 642.5h.01M327.6 613.9h.01M315.4 607.8h.01M320.8 603.2h.01M303.4 637.1h.01M326.1 617.5h.01M332.0 610.9h.01M311.6 600.1h.01M318.4 611.2h.01M340.1 622.4h.01M350.8 612.7h.01M350.0 623.8h.01M307.1 605.2h.01M332.6 642.4h.01M321.2 632.6h.01M324.8 636.9h.01M306.5 619.3h.01M348.9 609.7h.01M316.1 598.1h.01M311.4 609.3h.01M338.9 607.0h.01M323.4 606.2h.01M333.7 636.7h.01M336.1 606.0h.01M340.4 641.3h.01M333.7 600.6h.01M344.3 637.3h.01M320.4 603.3h.01M312.6 621.7h.01M347.6 626.4h.01M350.1 606.8h.01M319.7 631.5h.01M336.1 615.6h.01M337.6 612.5h.01" stroke="#aaa" stroke-width="0.33" stroke-linecap="round" fill="none"/>
<path d="M305.9 658.4h.01M305.3 664.8h.01M320.1 660.8h.01M333.5 653.7h.01M326.6 646.4h.01M350.2 662.9h.01M353.4 647.7h.01M334.3 667.7h.01M319.8 648.8h.01M311.0 650.3h.01M342.1 648.7h.01M344.5 658.7h.01M330.5 663.7h.01M331.3 665.7h.01M333.7 655.9h.01M340.8 653.7h.01M339.3 668.9h.01M342.6 655.3h.01M342.4 675.3h.01M326.1 654.3h.01M329.7 674.2h.01M309.7 646.3h.01M327.3 665.7h.01M342.5 656.9h.01M353.5 652.8h.01M341.6 648.7h.01M304.4 650.0h.01M306.1 661.1h.01M331.3 651.5h.01M350.9 657.0h.01" stroke="#999" stroke-width="0.33" stroke-linecap="round" fill="none"/>
</g>
<line x1="302.50" y1="595.00" x2="302.50" y2="677.60" stroke="#666" stroke-width="0.50"/>
<line x1="272.40" y1="644.50" x2="355.60" y2="644.50" stroke="#666" stroke-width="0.50"/>
<rect x="272.50" y="595.50" width="83.00" height="82.00" fill="none" stroke="#333" stroke-width="0.65"/>
<line x1="269.40" y1="603.50" x2="272.40" y2="603.50" stroke="#1c1c1c" stroke-width="0.60"/>
<text text-anchor="end" font-size="4.80" x="266.80" y="605.33">10<tspan dy="-1.92" font-size="3.46">5</tspan></text>
<line x1="269.40" y1="622.50" x2="272.40" y2="622.50" stroke="#1c1c1c" stroke-width="0.60"/>
<text text-anchor="end" font-size="4.80" x="266.80" y="623.73">10<tspan dy="-1.92" font-size="3.46">4</tspan></text>
<line x1="269.40" y1="642.50" x2="272.40" y2="642.50" stroke="#1c1c1c" stroke-width="0.60"/>
<text text-anchor="end" font-size="4.80" x="266.80" y="643.73">10<tspan dy="-1.92" font-size="3.46">3</tspan></text>
<line x1="269.40" y1="665.50" x2="272.40" y2="665.50" stroke="#1c1c1c" stroke-width="0.60"/>
<text text-anchor="end" font-size="4.80" x="266.80" y="666.73">0</text>
<line x1="283.50" y1="677.60" x2="283.50" y2="679.60" stroke="#1c1c1c" stroke-width="0.60"/>
<text text-anchor="middle" font-size="4.80" x="283.80" y="688.00">0</text>
<line x1="309.50" y1="677.60" x2="309.50" y2="679.60" stroke="#1c1c1c" stroke-width="0.60"/>
<text text-anchor="middle" font-size="4.80" x="310.00" y="688.00">10<tspan dy="-1.92" font-size="3.46">3</tspan></text>
<line x1="327.50" y1="677.60" x2="327.50" y2="679.60" stroke="#1c1c1c" stroke-width="0.60"/>
<text text-anchor="middle" font-size="4.80" x="328.80" y="688.00">10<tspan dy="-1.92" font-size="3.46">4</tspan></text>
<line x1="347.50" y1="677.60" x2="347.50" y2="679.60" stroke="#1c1c1c" stroke-width="0.60"/>
<text text-anchor="middle" font-size="4.80" x="348.40" y="688.00">10<tspan dy="-1.92" font-size="3.46">5</tspan></text>
<path d="M271.4,598.0h1M271.4,616.5h1M271.4,613.2h1M271.4,610.9h1M271.4,609.1h1M271.4,607.7h1M271.4,606.5h1M271.4,605.4h1M271.4,604.4h1M271.4,636.0h1M271.4,632.5h1M271.4,630.0h1M271.4,628.0h1M271.4,626.4h1M271.4,625.1h1M271.4,623.9h1M271.4,622.9h1M271.4,650.4h1M271.4,648.3h1M271.4,646.8h1M271.4,645.6h1M271.4,644.7h1M271.4,643.9h1M271.4,643.2h1M271.4,642.5h1M295.3,677.6v1M298.8,677.6v1M301.2,677.6v1M303.1,677.6v1M304.7,677.6v1M306.0,677.6v1M307.1,677.6v1M308.1,677.6v1M314.7,677.6v1M318.0,677.6v1M320.3,677.6v1M322.1,677.6v1M323.6,677.6v1M324.9,677.6v1M326.0,677.6v1M326.9,677.6v1M333.7,677.6v1M337.2,677.6v1M339.6,677.6v1M341.5,677.6v1M343.1,677.6v1M344.4,677.6v1M345.5,677.6v1M346.5,677.6v1M353.1,677.6v1" stroke="#1c1c1c" stroke-width="0.35" fill="none"/>
<rect x="270.60" y="663.60" width="1.80" height="2.80" fill="#1c1c1c"/>
<rect x="282.60" y="677.60" width="2.80" height="1.40" fill="#1c1c1c"/>
<text text-anchor="end" x="354.00" y="602.80">0.55</text>
<text text-anchor="end" x="354.00" y="674.60">4.38</text>
<text x="276.00" y="602.80">0.97</text>
<clipPath id="cp7"><rect x="375.40" y="595.00" width="83.20" height="82.60"/></clipPath><g clip-path="url(#cp7)">
<path d="M398.0,661.2C398.7,660.6 400.7,661.5 402.0,661.6C403.3,661.7 404.8,662.0 406.0,662.0C407.2,662.0 408.0,661.3 409.0,661.4C410.0,661.5 410.8,662.2 412.0,662.4C413.2,662.6 414.7,662.6 416.0,662.6C417.3,662.6 418.7,662.6 420.0,662.4C421.3,662.2 422.5,661.7 424.0,661.4C425.5,661.1 427.3,660.7 429.0,660.6C430.7,660.5 432.4,660.7 434.0,661.0C435.6,661.3 438.6,661.9 438.8,662.4C439.0,662.9 436.5,663.6 435.0,664.0C433.5,664.4 431.7,664.5 430.0,664.6C428.3,664.7 426.5,664.7 425.0,664.6C423.5,664.5 422.5,664.0 421.0,663.8C419.5,663.6 417.5,663.5 416.0,663.6C414.5,663.7 413.2,664.2 412.0,664.4C410.8,664.6 410.0,665.0 409.0,665.0C408.0,665.0 407.2,664.4 406.0,664.4C404.8,664.4 403.3,664.7 402.0,664.8C400.7,664.9 398.7,665.8 398.0,665.2C397.3,664.6 397.3,661.8 398.0,661.2Z" fill="#1c1c1c" stroke-linejoin="round"/>
<path d="M399.1,663.3C399.1,664.5 398.6,666.0 397.7,667.0C396.9,668.1 395.5,669.2 394.0,669.8C392.5,670.4 390.6,670.8 388.9,670.8C387.2,670.8 385.3,670.4 383.8,669.8C382.3,669.2 380.9,668.1 380.1,667.0C379.2,666.0 378.7,664.5 378.7,663.3C378.7,662.0 379.2,660.6 380.1,659.5C380.9,658.5 382.3,657.4 383.8,656.8C385.3,656.2 387.2,655.8 388.9,655.8C390.6,655.8 392.5,656.2 394.0,656.8C395.5,657.4 396.9,658.5 397.7,659.5C398.6,660.6 399.1,662.0 399.1,663.3Z" fill="#d2d2d2" stroke="#1c1c1c" stroke-width="1.40" stroke-linejoin="round"/>
<ellipse cx="388.90" cy="663.30" rx="8.90" ry="6.20" fill="#c8c8c8"/>
<ellipse cx="388.90" cy="663.30" rx="7.65" ry="5.33" fill="#b8b8b8"/>
<ellipse cx="388.90" cy="663.30" rx="6.41" ry="4.46" fill="#a8a8a8" stroke="#222" stroke-width="0.25"/>
<ellipse cx="388.90" cy="663.30" rx="5.16" ry="3.60" fill="#999" stroke="#222" stroke-width="0.25"/>
<ellipse cx="388.90" cy="663.30" rx="3.92" ry="2.73" fill="#8a8a8a" stroke="#222" stroke-width="0.25"/>
<ellipse cx="388.90" cy="663.30" rx="2.67" ry="1.86" fill="#7a7a7a" stroke="#222" stroke-width="0.25"/>
<ellipse cx="388.90" cy="663.30" rx="1.42" ry="0.99" fill="#5a5a5a" stroke="#222" stroke-width="0.25"/>
<ellipse cx="388.90" cy="663.30" rx="0.44" ry="0.31" fill="#111" stroke="#222" stroke-width="0.25"/>
<path d="M391.1 631.0h.01M389.5 598.0h.01M390.4 627.5h.01M390.4 616.2h.01M393.5 623.4h.01M388.2 616.7h.01M391.0 612.3h.01M393.8 637.2h.01M394.0 631.9h.01M385.1 638.9h.01M393.6 630.7h.01M384.3 639.4h.01M394.0 619.3h.01M390.4 634.0h.01M389.8 637.8h.01M390.2 633.0h.01M390.2 607.8h.01M390.8 640.2h.01M391.6 618.1h.01M390.1 602.7h.01M389.5 635.5h.01M383.7 627.3h.01" stroke="#777" stroke-width="0.33" stroke-linecap="round" fill="none"/>
<path d="M381.4 628.1h.01M393.1 617.3h.01M392.6 637.5h.01M382.7 637.5h.01M386.7 632.7h.01M400.3 604.6h.01M400.3 642.8h.01M385.0 597.1h.01M380.0 641.8h.01M377.3 638.8h.01M381.1 630.6h.01M379.6 603.9h.01" stroke="#aaa" stroke-width="0.30" stroke-linecap="round" fill="none"/>
<path d="M441.1 601.2h.01M424.0 639.3h.01M442.8 637.6h.01M456.0 598.5h.01M418.7 633.4h.01M441.5 598.7h.01M432.2 607.7h.01M428.5 601.8h.01M408.0 642.6h.01M422.8 637.4h.01M413.0 619.4h.01M413.8 616.7h.01M415.9 628.5h.01M414.4 631.0h.01M432.0 602.2h.01M424.7 619.8h.01M452.9 613.1h.01M417.8 641.5h.01M451.2 630.6h.01M420.6 605.2h.01M420.2 600.2h.01M409.2 620.4h.01M427.4 622.6h.01M425.1 597.5h.01M441.4 627.0h.01M434.2 622.2h.01M441.5 642.2h.01M450.7 630.0h.01M427.0 611.6h.01M428.0 641.8h.01" stroke="#bbb" stroke-width="0.30" stroke-linecap="round" fill="none"/>
<path d="M425.3 664.6h.01M427.8 663.7h.01M432.9 663.0h.01M416.0 659.4h.01M431.6 666.4h.01M427.2 664.3h.01M433.4 664.2h.01M440.7 659.4h.01M434.4 662.6h.01M429.3 660.9h.01M425.1 660.5h.01M422.4 669.1h.01M446.9 663.0h.01M438.5 660.6h.01M407.6 658.6h.01M433.2 666.5h.01M431.6 660.6h.01M429.9 660.6h.01M419.8 662.4h.01M428.5 661.0h.01M424.2 660.7h.01M434.1 666.4h.01M430.2 668.4h.01M417.8 663.7h.01M421.9 662.6h.01" stroke="#888" stroke-width="0.33" stroke-linecap="round" fill="none"/>
<path d="M444.3 663.6h.01M447.3 660.4h.01M440.4 661.4h.01M444.9 660.0h.01M446.6 666.9h.01M439.8 663.1h.01M447.0 656.4h.01M444.6 661.3h.01M439.8 665.8h.01M444.6 660.6h.01M445.3 663.9h.01M446.2 663.7h.01M445.2 658.6h.01M442.8 662.4h.01M435.9 668.2h.01" stroke="#888" stroke-width="0.33" stroke-linecap="round" fill="none"/>
</g>
<line x1="405.50" y1="595.00" x2="405.50" y2="677.60" stroke="#666" stroke-width="0.50"/>
<line x1="375.40" y1="644.50" x2="458.60" y2="644.50" stroke="#666" stroke-width="0.50"/>
<rect x="375.50" y="595.50" width="83.00" height="82.00" fill="none" stroke="#333" stroke-width="0.65"/>
<line x1="372.40" y1="603.50" x2="375.40" y2="603.50" stroke="#1c1c1c" stroke-width="0.60"/>
<text text-anchor="end" font-size="4.80" x="369.80" y="605.33">10<tspan dy="-1.92" font-size="3.46">5</tspan></text>
<line x1="372.40" y1="622.50" x2="375.40" y2="622.50" stroke="#1c1c1c" stroke-width="0.60"/>
<text text-anchor="end" font-size="4.80" x="369.80" y="623.73">10<tspan dy="-1.92" font-size="3.46">4</tspan></text>
<line x1="372.40" y1="642.50" x2="375.40" y2="642.50" stroke="#1c1c1c" stroke-width="0.60"/>
<text text-anchor="end" font-size="4.80" x="369.80" y="643.73">10<tspan dy="-1.92" font-size="3.46">3</tspan></text>
<line x1="372.40" y1="665.50" x2="375.40" y2="665.50" stroke="#1c1c1c" stroke-width="0.60"/>
<text text-anchor="end" font-size="4.80" x="369.80" y="666.73">0</text>
<line x1="386.50" y1="677.60" x2="386.50" y2="679.60" stroke="#1c1c1c" stroke-width="0.60"/>
<text text-anchor="middle" font-size="4.80" x="386.80" y="688.00">0</text>
<line x1="412.50" y1="677.60" x2="412.50" y2="679.60" stroke="#1c1c1c" stroke-width="0.60"/>
<text text-anchor="middle" font-size="4.80" x="413.00" y="688.00">10<tspan dy="-1.92" font-size="3.46">3</tspan></text>
<line x1="430.50" y1="677.60" x2="430.50" y2="679.60" stroke="#1c1c1c" stroke-width="0.60"/>
<text text-anchor="middle" font-size="4.80" x="431.80" y="688.00">10<tspan dy="-1.92" font-size="3.46">4</tspan></text>
<line x1="450.50" y1="677.60" x2="450.50" y2="679.60" stroke="#1c1c1c" stroke-width="0.60"/>
<text text-anchor="middle" font-size="4.80" x="451.40" y="688.00">10<tspan dy="-1.92" font-size="3.46">5</tspan></text>
<path d="M374.4,598.0h1M374.4,616.5h1M374.4,613.2h1M374.4,610.9h1M374.4,609.1h1M374.4,607.7h1M374.4,606.5h1M374.4,605.4h1M374.4,604.4h1M374.4,636.0h1M374.4,632.5h1M374.4,630.0h1M374.4,628.0h1M374.4,626.4h1M374.4,625.1h1M374.4,623.9h1M374.4,622.9h1M374.4,650.4h1M374.4,648.3h1M374.4,646.8h1M374.4,645.6h1M374.4,644.7h1M374.4,643.9h1M374.4,643.2h1M374.4,642.5h1M398.3,677.6v1M401.8,677.6v1M404.2,677.6v1M406.1,677.6v1M407.7,677.6v1M409.0,677.6v1M410.1,677.6v1M411.1,677.6v1M417.7,677.6v1M421.0,677.6v1M423.3,677.6v1M425.1,677.6v1M426.6,677.6v1M427.9,677.6v1M429.0,677.6v1M429.9,677.6v1M436.7,677.6v1M440.2,677.6v1M442.6,677.6v1M444.5,677.6v1M446.1,677.6v1M447.4,677.6v1M448.5,677.6v1M449.5,677.6v1M456.1,677.6v1" stroke="#1c1c1c" stroke-width="0.35" fill="none"/>
<rect x="373.60" y="663.60" width="1.80" height="2.80" fill="#1c1c1c"/>
<rect x="385.60" y="677.60" width="2.80" height="1.40" fill="#1c1c1c"/>
<text text-anchor="end" x="457.00" y="602.80">0.21</text>
<text text-anchor="end" x="457.00" y="674.60">2.05</text>
<text x="379.00" y="602.80">0.30</text>
<clipPath id="cp8"><rect x="478.40" y="595.00" width="83.00" height="82.60"/></clipPath><g clip-path="url(#cp8)">
<path d="M503.0,660.4C503.8,659.3 506.2,660.3 508.0,660.0C509.8,659.7 511.7,659.1 514.0,658.8C516.3,658.5 519.0,658.3 522.0,658.2C525.0,658.1 528.7,658.0 532.0,658.0C535.3,658.0 539.2,657.9 542.0,658.0C544.8,658.1 547.3,658.2 549.0,658.6C550.7,659.0 551.8,659.8 552.4,660.6C553.0,661.4 552.8,662.7 552.4,663.6C552.0,664.5 551.4,665.3 550.0,665.8C548.6,666.3 546.7,666.3 544.0,666.4C541.3,666.5 537.3,666.4 534.0,666.4C530.7,666.4 527.3,666.4 524.0,666.4C520.7,666.4 516.7,666.2 514.0,666.2C511.3,666.2 509.8,666.1 508.0,666.2C506.2,666.3 503.8,667.6 503.0,666.6C502.2,665.6 502.2,661.5 503.0,660.4Z" fill="#1c1c1c" stroke-linejoin="round"/>
<path d="M516.6,661.4C517.8,660.9 521.1,660.9 524.0,660.8C526.9,660.7 531.0,660.7 534.0,660.7C537.0,660.7 540.1,660.7 542.0,661.0C543.9,661.3 545.4,662.1 545.4,662.6C545.4,663.1 543.9,663.9 542.0,664.2C540.1,664.5 537.0,664.4 534.0,664.4C531.0,664.4 526.9,664.5 524.0,664.4C521.1,664.3 517.8,664.5 516.6,664.0C515.4,663.5 515.4,661.9 516.6,661.4Z" fill="#d0d0d0" stroke-linejoin="round"/>
<path d="M503.8,663.3C503.8,664.6 503.2,666.2 502.3,667.3C501.3,668.5 499.7,669.6 498.1,670.3C496.5,671.0 494.3,671.4 492.4,671.4C490.5,671.4 488.3,671.0 486.7,670.3C485.1,669.6 483.5,668.5 482.5,667.3C481.6,666.2 481.0,664.6 481.0,663.3C481.0,661.9 481.6,660.4 482.5,659.2C483.5,658.1 485.1,657.0 486.7,656.3C488.3,655.6 490.5,655.2 492.4,655.2C494.3,655.2 496.5,655.6 498.1,656.3C499.7,657.0 501.3,658.1 502.3,659.2C503.2,660.4 503.8,661.9 503.8,663.3Z" fill="#d2d2d2" stroke="#1c1c1c" stroke-width="1.40" stroke-linejoin="round"/>
<ellipse cx="492.40" cy="663.30" rx="10.10" ry="6.80" fill="#c8c8c8"/>
<ellipse cx="492.40" cy="663.30" rx="8.69" ry="5.85" fill="#b8b8b8"/>
<ellipse cx="492.40" cy="663.30" rx="7.27" ry="4.90" fill="#a8a8a8" stroke="#222" stroke-width="0.25"/>
<ellipse cx="492.40" cy="663.30" rx="5.86" ry="3.94" fill="#999" stroke="#222" stroke-width="0.25"/>
<ellipse cx="492.40" cy="663.30" rx="4.44" ry="2.99" fill="#8a8a8a" stroke="#222" stroke-width="0.25"/>
<ellipse cx="492.40" cy="663.30" rx="3.03" ry="2.04" fill="#7a7a7a" stroke="#222" stroke-width="0.25"/>
<ellipse cx="492.40" cy="663.30" rx="1.62" ry="1.09" fill="#5a5a5a" stroke="#222" stroke-width="0.25"/>
<ellipse cx="492.40" cy="663.30" rx="0.51" ry="0.34" fill="#111" stroke="#222" stroke-width="0.25"/>
<circle cx="494.30" cy="628.30" r="1.90" fill="#1c1c1c"/>
<path d="M492.5 608.6h.01M486.9 625.2h.01M494.1 614.6h.01M492.4 610.7h.01M491.1 620.8h.01M491.5 630.6h.01M493.4 623.7h.01M495.6 638.1h.01M496.3 624.9h.01M493.4 611.8h.01M492.7 630.6h.01M494.9 617.1h.01M488.8 602.6h.01M495.3 635.0h.01M495.5 604.6h.01M493.2 624.8h.01M490.4 626.4h.01M493.2 611.4h.01M489.2 632.3h.01M495.4 610.8h.01M490.0 633.3h.01M496.3 618.1h.01M500.2 618.3h.01M489.9 635.8h.01M493.3 626.4h.01M494.1 609.3h.01M489.4 619.5h.01M499.5 609.3h.01M499.3 624.8h.01M489.7 625.4h.01M496.2 610.6h.01M485.7 626.5h.01M489.7 627.6h.01M486.6 620.2h.01M490.8 603.3h.01M493.1 624.2h.01M491.8 607.1h.01M494.8 599.9h.01M496.1 628.2h.01M500.5 633.2h.01M495.4 625.3h.01M494.1 605.2h.01M499.7 628.7h.01M492.9 607.5h.01M499.8 628.7h.01M489.4 630.5h.01M501.4 621.7h.01M495.6 616.7h.01M491.6 635.6h.01M506.0 623.5h.01M493.5 632.0h.01M492.8 631.2h.01M497.2 609.2h.01M489.8 621.1h.01M497.2 625.5h.01M498.8 604.6h.01M495.9 614.1h.01M494.4 626.1h.01M490.2 619.1h.01M489.5 625.4h.01" stroke="#666" stroke-width="0.33" stroke-linecap="round" fill="none"/>
<path d="M495.8 613.2h.01M501.6 605.4h.01M504.8 622.1h.01M481.4 610.8h.01M494.4 615.2h.01M495.3 611.2h.01M487.4 633.4h.01M487.9 629.4h.01M501.7 623.8h.01M492.3 639.9h.01M492.0 637.3h.01M481.6 616.4h.01M497.3 598.3h.01M503.3 599.4h.01M496.1 604.5h.01M504.9 622.4h.01M501.6 619.4h.01M498.2 627.7h.01M488.0 605.9h.01M502.6 602.9h.01" stroke="#999" stroke-width="0.30" stroke-linecap="round" fill="none"/>
<path d="M495.5 648.7h.01M494.9 651.1h.01M495.3 640.4h.01M490.8 653.0h.01M493.7 658.7h.01M493.4 647.9h.01M497.6 652.2h.01M498.6 652.0h.01M493.5 652.8h.01M492.1 648.3h.01M492.7 649.1h.01M495.9 648.1h.01M494.8 648.1h.01M496.1 639.3h.01M493.5 650.7h.01" stroke="#888" stroke-width="0.30" stroke-linecap="round" fill="none"/>
<path d="M528.4 626.5h.01M520.4 622.1h.01M513.8 618.4h.01M546.1 616.8h.01M543.6 602.3h.01M551.3 602.6h.01M556.1 642.8h.01M556.9 621.2h.01M523.8 613.0h.01M547.3 619.8h.01M556.4 601.3h.01M533.7 636.7h.01M539.5 621.9h.01M513.5 603.4h.01M522.8 638.1h.01M552.1 607.5h.01M556.2 598.5h.01M539.5 641.5h.01M526.6 640.4h.01M542.5 599.3h.01M526.0 617.7h.01M521.6 631.1h.01M518.1 633.2h.01M524.2 600.2h.01M537.5 601.4h.01M537.1 633.2h.01M539.4 618.2h.01M510.7 620.6h.01M514.0 626.8h.01M515.7 623.6h.01M527.0 614.2h.01M542.8 604.5h.01M517.7 640.3h.01M525.9 635.7h.01M553.5 619.1h.01M516.6 601.3h.01M553.8 602.4h.01M534.3 621.7h.01M515.0 618.5h.01M517.4 621.6h.01M534.8 613.9h.01M519.1 615.6h.01M519.4 602.8h.01M521.2 637.1h.01M534.6 638.0h.01M509.8 640.4h.01M533.9 633.4h.01M538.1 628.7h.01M520.7 631.5h.01M516.8 609.2h.01M510.6 615.1h.01M535.4 610.4h.01M554.4 600.9h.01M538.5 607.8h.01M539.4 633.1h.01M545.3 599.9h.01M521.5 624.6h.01M559.1 598.9h.01M540.5 628.8h.01M550.5 612.7h.01M550.3 618.2h.01M556.0 597.5h.01M557.0 616.0h.01M529.8 601.1h.01M521.5 630.8h.01M543.6 604.0h.01M526.6 603.5h.01M519.1 607.1h.01M525.9 641.9h.01M559.9 633.4h.01M533.5 619.9h.01M548.7 638.8h.01M547.3 626.3h.01M519.2 625.8h.01M552.1 633.2h.01M513.7 630.0h.01M526.8 604.5h.01M558.3 627.9h.01M547.0 603.2h.01M551.2 640.1h.01M555.1 631.3h.01M551.5 633.9h.01M539.1 617.0h.01M551.1 633.1h.01M553.4 610.8h.01M558.0 621.5h.01M557.2 602.3h.01M558.4 633.2h.01M521.9 635.6h.01M520.8 606.1h.01M532.4 607.9h.01M534.1 638.8h.01M544.0 629.7h.01M529.0 633.1h.01M549.5 628.4h.01M557.0 635.0h.01M529.7 601.0h.01M542.3 635.5h.01M526.3 624.4h.01M551.7 633.5h.01M509.2 619.5h.01M509.8 602.1h.01M550.4 616.3h.01M539.8 618.0h.01M526.1 606.8h.01M527.0 635.8h.01M540.6 610.4h.01M513.5 609.5h.01M544.8 617.3h.01M542.7 634.1h.01M515.2 628.4h.01M511.1 634.9h.01M518.4 609.5h.01M557.8 613.7h.01M520.4 637.9h.01M540.1 638.1h.01M529.1 620.0h.01M557.7 620.3h.01M559.4 605.7h.01M551.4 604.5h.01" stroke="#aaa" stroke-width="0.33" stroke-linecap="round" fill="none"/>
<path d="M535.9 646.0h.01M517.9 674.4h.01M532.2 670.3h.01M521.8 656.6h.01M514.1 662.6h.01M553.0 661.4h.01M528.2 673.9h.01M554.6 666.0h.01M512.9 664.7h.01M531.6 674.7h.01M527.5 665.8h.01M541.2 657.3h.01M535.6 666.3h.01M555.3 660.9h.01M527.5 675.3h.01M511.9 671.0h.01M543.9 662.7h.01M531.8 668.5h.01M554.4 667.9h.01M547.2 647.1h.01M525.6 650.1h.01M557.6 672.7h.01M516.4 663.6h.01M538.4 647.4h.01M529.0 668.4h.01M541.7 654.4h.01M547.9 654.7h.01M536.8 658.6h.01M558.9 665.5h.01M550.1 666.3h.01M528.4 674.9h.01M545.2 666.7h.01M523.2 650.9h.01M538.3 670.8h.01M549.5 656.4h.01M516.1 661.5h.01M553.7 650.9h.01M546.7 651.1h.01M524.9 647.6h.01M524.2 657.5h.01" stroke="#999" stroke-width="0.33" stroke-linecap="round" fill="none"/>
</g>
<line x1="508.50" y1="595.00" x2="508.50" y2="677.60" stroke="#666" stroke-width="0.50"/>
<line x1="478.40" y1="644.50" x2="561.40" y2="644.50" stroke="#666" stroke-width="0.50"/>
<rect x="478.50" y="595.50" width="83.00" height="82.00" fill="none" stroke="#333" stroke-width="0.65"/>
<line x1="475.40" y1="603.50" x2="478.40" y2="603.50" stroke="#1c1c1c" stroke-width="0.60"/>
<text text-anchor="end" font-size="4.80" x="472.80" y="605.33">10<tspan dy="-1.92" font-size="3.46">5</tspan></text>
<line x1="475.40" y1="622.50" x2="478.40" y2="622.50" stroke="#1c1c1c" stroke-width="0.60"/>
<text text-anchor="end" font-size="4.80" x="472.80" y="623.73">10<tspan dy="-1.92" font-size="3.46">4</tspan></text>
<line x1="475.40" y1="642.50" x2="478.40" y2="642.50" stroke="#1c1c1c" stroke-width="0.60"/>
<text text-anchor="end" font-size="4.80" x="472.80" y="643.73">10<tspan dy="-1.92" font-size="3.46">3</tspan></text>
<line x1="475.40" y1="665.50" x2="478.40" y2="665.50" stroke="#1c1c1c" stroke-width="0.60"/>
<text text-anchor="end" font-size="4.80" x="472.80" y="666.73">0</text>
<line x1="489.50" y1="677.60" x2="489.50" y2="679.60" stroke="#1c1c1c" stroke-width="0.60"/>
<text text-anchor="middle" font-size="4.80" x="489.80" y="688.00">0</text>
<line x1="515.50" y1="677.60" x2="515.50" y2="679.60" stroke="#1c1c1c" stroke-width="0.60"/>
<text text-anchor="middle" font-size="4.80" x="516.00" y="688.00">10<tspan dy="-1.92" font-size="3.46">3</tspan></text>
<line x1="533.50" y1="677.60" x2="533.50" y2="679.60" stroke="#1c1c1c" stroke-width="0.60"/>
<text text-anchor="middle" font-size="4.80" x="534.80" y="688.00">10<tspan dy="-1.92" font-size="3.46">4</tspan></text>
<line x1="553.50" y1="677.60" x2="553.50" y2="679.60" stroke="#1c1c1c" stroke-width="0.60"/>
<text text-anchor="middle" font-size="4.80" x="554.40" y="688.00">10<tspan dy="-1.92" font-size="3.46">5</tspan></text>
<path d="M477.4,598.0h1M477.4,616.5h1M477.4,613.2h1M477.4,610.9h1M477.4,609.1h1M477.4,607.7h1M477.4,606.5h1M477.4,605.4h1M477.4,604.4h1M477.4,636.0h1M477.4,632.5h1M477.4,630.0h1M477.4,628.0h1M477.4,626.4h1M477.4,625.1h1M477.4,623.9h1M477.4,622.9h1M477.4,650.4h1M477.4,648.3h1M477.4,646.8h1M477.4,645.6h1M477.4,644.7h1M477.4,643.9h1M477.4,643.2h1M477.4,642.5h1M501.3,677.6v1M504.8,677.6v1M507.2,677.6v1M509.1,677.6v1M510.7,677.6v1M512.0,677.6v1M513.1,677.6v1M514.1,677.6v1M520.7,677.6v1M524.0,677.6v1M526.3,677.6v1M528.1,677.6v1M529.6,677.6v1M530.9,677.6v1M532.0,677.6v1M532.9,677.6v1M539.7,677.6v1M543.2,677.6v1M545.6,677.6v1M547.5,677.6v1M549.1,677.6v1M550.4,677.6v1M551.5,677.6v1M552.5,677.6v1M559.1,677.6v1" stroke="#1c1c1c" stroke-width="0.35" fill="none"/>
<rect x="476.60" y="663.60" width="1.80" height="2.80" fill="#1c1c1c"/>
<rect x="488.60" y="677.60" width="2.80" height="1.40" fill="#1c1c1c"/>
<text text-anchor="end" x="559.80" y="602.80">0.58</text>
<text text-anchor="end" x="559.80" y="674.60">3.25</text>
<text x="482.00" y="602.80">0.84</text>
<line x1="155.50" y1="659.00" x2="155.50" y2="599.30" stroke="#1c1c1c" stroke-width="0.70"/>
<polygon points="155.50,595.60 157.40,599.80 153.60,599.80" fill="#1c1c1c"/>
<text transform="translate(157.60 677.60) rotate(-90)">IL-17</text>
<text x="173.00" y="696.20">IFN-γ</text>
<line x1="194.00" y1="694.50" x2="556.70" y2="694.50" stroke="#1c1c1c" stroke-width="0.70"/>
<polygon points="560.40,694.50 556.20,696.40 556.20,692.60" fill="#1c1c1c"/>
<rect x="176.00" y="747.55" width="15.60" height="74.85" fill="#1c1c1c"/>
<line x1="183.50" y1="747.55" x2="183.50" y2="736.05" stroke="#1c1c1c" stroke-width="0.60"/>
<line x1="180.06" y1="736.50" x2="187.54" y2="736.50" stroke="#1c1c1c" stroke-width="0.60"/>
<rect x="199.00" y="788.07" width="15.60" height="34.33" fill="#1c1c1c"/>
<line x1="206.50" y1="788.07" x2="206.50" y2="785.66" stroke="#1c1c1c" stroke-width="0.60"/>
<line x1="203.06" y1="785.50" x2="210.54" y2="785.50" stroke="#1c1c1c" stroke-width="0.60"/>
<rect x="222.00" y="770.04" width="15.60" height="52.36" fill="#1c1c1c"/>
<line x1="229.50" y1="770.04" x2="229.50" y2="768.67" stroke="#1c1c1c" stroke-width="0.60"/>
<line x1="226.06" y1="768.50" x2="233.54" y2="768.50" stroke="#1c1c1c" stroke-width="0.60"/>
<line x1="172.50" y1="719.10" x2="172.50" y2="822.70" stroke="#1c1c1c" stroke-width="0.65"/>
<line x1="172.10" y1="822.50" x2="240.00" y2="822.50" stroke="#1c1c1c" stroke-width="0.65"/>
<line x1="169.80" y1="822.50" x2="172.40" y2="822.50" stroke="#1c1c1c" stroke-width="0.60"/>
<text text-anchor="end" x="167.60" y="824.70">0</text>
<line x1="169.80" y1="788.50" x2="172.40" y2="788.50" stroke="#1c1c1c" stroke-width="0.60"/>
<text text-anchor="end" x="167.60" y="790.37">2</text>
<line x1="169.80" y1="753.50" x2="172.40" y2="753.50" stroke="#1c1c1c" stroke-width="0.60"/>
<text text-anchor="end" x="167.60" y="756.03">4</text>
<line x1="169.80" y1="719.50" x2="172.40" y2="719.50" stroke="#1c1c1c" stroke-width="0.60"/>
<text text-anchor="end" x="167.60" y="721.70">6</text>
<line x1="183.50" y1="822.40" x2="183.50" y2="824.80" stroke="#1c1c1c" stroke-width="0.60"/>
<line x1="206.50" y1="822.40" x2="206.50" y2="824.80" stroke="#1c1c1c" stroke-width="0.60"/>
<line x1="229.50" y1="822.40" x2="229.50" y2="824.80" stroke="#1c1c1c" stroke-width="0.60"/>
<text text-anchor="middle" transform="translate(156.60 769.00) rotate(-90)">IFN-γ<tspan dy="-2.60" font-size="4.68">+</tspan><tspan dy="2.60">CD4</tspan><tspan dy="-2.60" font-size="4.68">+</tspan><tspan dy="2.60"> T cells (%)</tspan></text>
<line x1="184.00" y1="725.50" x2="229.40" y2="725.50" stroke="#1c1c1c" stroke-width="0.65"/>
<text text-anchor="middle" x="206.70" y="723.80">ns</text>
<line x1="184.00" y1="733.50" x2="206.60" y2="733.50" stroke="#1c1c1c" stroke-width="0.65"/>
<text text-anchor="middle" font-size="9.00" x="195.30" y="734.60">**</text>
<line x1="209.60" y1="765.50" x2="227.40" y2="765.50" stroke="#8a8a8a" stroke-width="0.65"/>
<text text-anchor="middle" x="218.50" y="764.00">ns</text>
<text text-anchor="end" x="172.00" y="833.20">Recipient</text>
<text text-anchor="end" x="172.00" y="844.00">Donor</text>
<text text-anchor="end" x="172.40" y="851.80">T2-MZP</text>
<text text-anchor="middle" x="184.80" y="833.20">WT</text>
<text text-anchor="middle" x="207.80" y="833.20">WT</text>
<text text-anchor="middle" x="230.80" y="833.20">WT</text>
<text text-anchor="middle" font-size="6.00" x="184.80" y="843.70">−</text>
<text text-anchor="middle" x="207.80" y="844.00">WT</text>
<text text-anchor="middle" x="231.20" y="844.00"><tspan font-style="italic">Cd1d</tspan><tspan dy="-2.60" font-size="4.68">−/−</tspan></text>
<rect x="291.00" y="746.90" width="15.60" height="75.50" fill="#1c1c1c"/>
<line x1="298.50" y1="746.90" x2="298.50" y2="735.98" stroke="#1c1c1c" stroke-width="0.60"/>
<line x1="295.06" y1="735.50" x2="302.54" y2="735.50" stroke="#1c1c1c" stroke-width="0.60"/>
<rect x="314.00" y="777.39" width="15.60" height="45.01" fill="#1c1c1c"/>
<line x1="321.50" y1="777.39" x2="321.50" y2="766.37" stroke="#1c1c1c" stroke-width="0.60"/>
<line x1="318.06" y1="766.50" x2="325.54" y2="766.50" stroke="#1c1c1c" stroke-width="0.60"/>
<rect x="337.00" y="758.44" width="15.60" height="63.96" fill="#1c1c1c"/>
<line x1="344.50" y1="758.44" x2="344.50" y2="755.66" stroke="#1c1c1c" stroke-width="0.60"/>
<line x1="341.06" y1="755.50" x2="348.54" y2="755.50" stroke="#1c1c1c" stroke-width="0.60"/>
<line x1="287.50" y1="719.10" x2="287.50" y2="822.70" stroke="#1c1c1c" stroke-width="0.65"/>
<line x1="287.10" y1="822.50" x2="356.00" y2="822.50" stroke="#1c1c1c" stroke-width="0.65"/>
<line x1="284.80" y1="822.50" x2="287.40" y2="822.50" stroke="#1c1c1c" stroke-width="0.60"/>
<text text-anchor="end" x="282.60" y="824.70">0.0</text>
<line x1="284.80" y1="801.50" x2="287.40" y2="801.50" stroke="#1c1c1c" stroke-width="0.60"/>
<text text-anchor="end" x="282.60" y="804.10">0.2</text>
<line x1="284.80" y1="781.50" x2="287.40" y2="781.50" stroke="#1c1c1c" stroke-width="0.60"/>
<text text-anchor="end" x="282.60" y="783.50">0.4</text>
<line x1="284.80" y1="760.50" x2="287.40" y2="760.50" stroke="#1c1c1c" stroke-width="0.60"/>
<text text-anchor="end" x="282.60" y="762.90">0.6</text>
<line x1="284.80" y1="740.50" x2="287.40" y2="740.50" stroke="#1c1c1c" stroke-width="0.60"/>
<text text-anchor="end" x="282.60" y="742.30">0.8</text>
<line x1="284.80" y1="719.50" x2="287.40" y2="719.50" stroke="#1c1c1c" stroke-width="0.60"/>
<text text-anchor="end" x="282.60" y="721.70">1.0</text>
<line x1="298.50" y1="822.40" x2="298.50" y2="824.80" stroke="#1c1c1c" stroke-width="0.60"/>
<line x1="321.50" y1="822.40" x2="321.50" y2="824.80" stroke="#1c1c1c" stroke-width="0.60"/>
<line x1="344.50" y1="822.40" x2="344.50" y2="824.80" stroke="#1c1c1c" stroke-width="0.60"/>
<text text-anchor="middle" transform="translate(265.20 771.00) rotate(-90)">IL-17<tspan dy="-2.60" font-size="4.68">+</tspan><tspan dy="2.60">CD4</tspan><tspan dy="-2.60" font-size="4.68">+</tspan><tspan dy="2.60"> T cells (%)</tspan></text>
<line x1="299.00" y1="722.50" x2="345.00" y2="722.50" stroke="#8a8a8a" stroke-width="0.65"/>
<text text-anchor="middle" x="322.00" y="721.00">ns</text>
<line x1="299.00" y1="732.50" x2="317.00" y2="732.50" stroke="#1c1c1c" stroke-width="0.65"/>
<text text-anchor="middle" x="308.00" y="730.80">ns</text>
<line x1="324.40" y1="753.50" x2="342.00" y2="753.50" stroke="#1c1c1c" stroke-width="0.65"/>
<text text-anchor="middle" x="333.20" y="752.00">ns</text>
<text text-anchor="end" x="287.00" y="833.60">Recipient</text>
<text text-anchor="end" x="287.00" y="844.00">Donor</text>
<text text-anchor="end" x="287.40" y="851.80">T2-MZP</text>
<text text-anchor="middle" x="299.80" y="833.60">WT</text>
<text text-anchor="middle" x="322.80" y="833.60">WT</text>
<text text-anchor="middle" x="345.80" y="833.60">WT</text>
<text text-anchor="middle" font-size="6.00" x="299.80" y="843.70">−</text>
<text text-anchor="middle" x="322.80" y="844.00">WT</text>
<text text-anchor="middle" x="346.20" y="844.00"><tspan font-style="italic">Cd1d</tspan><tspan dy="-2.60" font-size="4.68">−/−</tspan></text>
<rect x="404.00" y="737.68" width="15.60" height="84.72" fill="#1c1c1c"/>
<line x1="411.50" y1="737.68" x2="411.50" y2="729.44" stroke="#1c1c1c" stroke-width="0.60"/>
<line x1="408.06" y1="729.50" x2="415.54" y2="729.50" stroke="#1c1c1c" stroke-width="0.60"/>
<rect x="427.00" y="778.88" width="15.60" height="43.52" fill="#1c1c1c"/>
<line x1="434.50" y1="778.88" x2="434.50" y2="772.44" stroke="#1c1c1c" stroke-width="0.60"/>
<line x1="431.06" y1="772.50" x2="438.54" y2="772.50" stroke="#1c1c1c" stroke-width="0.60"/>
<rect x="450.00" y="737.42" width="15.60" height="84.98" fill="#1c1c1c"/>
<line x1="457.50" y1="737.42" x2="457.50" y2="728.41" stroke="#1c1c1c" stroke-width="0.60"/>
<line x1="454.06" y1="728.50" x2="461.54" y2="728.50" stroke="#1c1c1c" stroke-width="0.60"/>
<line x1="400.50" y1="719.10" x2="400.50" y2="822.70" stroke="#1c1c1c" stroke-width="0.65"/>
<line x1="400.10" y1="822.50" x2="469.00" y2="822.50" stroke="#1c1c1c" stroke-width="0.65"/>
<line x1="397.80" y1="822.50" x2="400.40" y2="822.50" stroke="#1c1c1c" stroke-width="0.60"/>
<text text-anchor="end" x="395.60" y="824.70">0</text>
<line x1="397.80" y1="796.50" x2="400.40" y2="796.50" stroke="#1c1c1c" stroke-width="0.60"/>
<text text-anchor="end" x="395.60" y="798.95">1</text>
<line x1="397.80" y1="770.50" x2="400.40" y2="770.50" stroke="#1c1c1c" stroke-width="0.60"/>
<text text-anchor="end" x="395.60" y="773.20">2</text>
<line x1="397.80" y1="745.50" x2="400.40" y2="745.50" stroke="#1c1c1c" stroke-width="0.60"/>
<text text-anchor="end" x="395.60" y="747.45">3</text>
<line x1="397.80" y1="719.50" x2="400.40" y2="719.50" stroke="#1c1c1c" stroke-width="0.60"/>
<text text-anchor="end" x="395.60" y="721.70">4</text>
<line x1="411.50" y1="822.40" x2="411.50" y2="824.80" stroke="#1c1c1c" stroke-width="0.60"/>
<line x1="434.50" y1="822.40" x2="434.50" y2="824.80" stroke="#1c1c1c" stroke-width="0.60"/>
<line x1="457.50" y1="822.40" x2="457.50" y2="824.80" stroke="#1c1c1c" stroke-width="0.60"/>
<text text-anchor="middle" transform="translate(384.20 771.50) rotate(-90)">IFN-γ<tspan dy="-2.60" font-size="4.68">+</tspan><tspan dy="2.60">CD4</tspan><tspan dy="-2.60" font-size="4.68">+</tspan><tspan dy="2.60"> T cells (×10</tspan><tspan dy="-2.60" font-size="4.68">6</tspan><tspan dy="2.60">)</tspan></text>
<line x1="411.60" y1="718.50" x2="457.00" y2="718.50" stroke="#1c1c1c" stroke-width="0.65"/>
<text text-anchor="middle" x="434.30" y="716.80">ns</text>
<line x1="411.60" y1="727.50" x2="434.00" y2="727.50" stroke="#1c1c1c" stroke-width="0.65"/>
<text text-anchor="middle" font-size="9.00" x="422.80" y="728.00">*</text>
<line x1="440.00" y1="726.50" x2="457.00" y2="726.50" stroke="#8a8a8a" stroke-width="0.65"/>
<text text-anchor="middle" x="448.50" y="724.80">ns</text>
<text text-anchor="end" x="400.00" y="833.60">Recipient</text>
<text text-anchor="end" x="400.00" y="844.00">Donor</text>
<text text-anchor="end" x="400.40" y="851.80">T2-MZP</text>
<text text-anchor="middle" x="412.80" y="833.60">WT</text>
<text text-anchor="middle" x="435.80" y="833.60">WT</text>
<text text-anchor="middle" x="458.80" y="833.60">WT</text>
<text text-anchor="middle" font-size="6.00" x="412.80" y="843.70">−</text>
<text text-anchor="middle" x="435.80" y="844.00">WT</text>
<text text-anchor="middle" x="459.20" y="844.00"><tspan font-style="italic">Cd1d</tspan><tspan dy="-2.60" font-size="4.68">−/−</tspan></text>
<rect x="515.60" y="766.09" width="15.40" height="56.31" fill="#1c1c1c"/>
<line x1="523.50" y1="766.09" x2="523.50" y2="755.11" stroke="#1c1c1c" stroke-width="0.60"/>
<line x1="519.60" y1="755.50" x2="527.00" y2="755.50" stroke="#1c1c1c" stroke-width="0.60"/>
<rect x="538.60" y="799.60" width="15.40" height="22.80" fill="#1c1c1c"/>
<line x1="546.50" y1="799.60" x2="546.50" y2="796.99" stroke="#1c1c1c" stroke-width="0.60"/>
<line x1="542.60" y1="796.50" x2="550.00" y2="796.50" stroke="#1c1c1c" stroke-width="0.60"/>
<rect x="561.60" y="781.41" width="15.40" height="40.99" fill="#1c1c1c"/>
<line x1="569.50" y1="781.41" x2="569.50" y2="777.08" stroke="#1c1c1c" stroke-width="0.60"/>
<line x1="565.60" y1="777.50" x2="573.00" y2="777.50" stroke="#1c1c1c" stroke-width="0.60"/>
<line x1="512.50" y1="719.10" x2="512.50" y2="822.70" stroke="#1c1c1c" stroke-width="0.65"/>
<line x1="511.70" y1="822.50" x2="581.00" y2="822.50" stroke="#1c1c1c" stroke-width="0.65"/>
<line x1="509.40" y1="822.50" x2="512.00" y2="822.50" stroke="#1c1c1c" stroke-width="0.60"/>
<text text-anchor="end" x="507.20" y="824.70">0.0</text>
<line x1="509.40" y1="788.50" x2="512.00" y2="788.50" stroke="#1c1c1c" stroke-width="0.60"/>
<text text-anchor="end" x="507.20" y="790.37">0.5</text>
<line x1="509.40" y1="753.50" x2="512.00" y2="753.50" stroke="#1c1c1c" stroke-width="0.60"/>
<text text-anchor="end" x="507.20" y="756.03">1.0</text>
<line x1="509.40" y1="719.50" x2="512.00" y2="719.50" stroke="#1c1c1c" stroke-width="0.60"/>
<text text-anchor="end" x="507.20" y="721.70">1.5</text>
<line x1="523.50" y1="822.40" x2="523.50" y2="824.80" stroke="#1c1c1c" stroke-width="0.60"/>
<line x1="546.50" y1="822.40" x2="546.50" y2="824.80" stroke="#1c1c1c" stroke-width="0.60"/>
<line x1="569.50" y1="822.40" x2="569.50" y2="824.80" stroke="#1c1c1c" stroke-width="0.60"/>
<text text-anchor="middle" transform="translate(490.60 771.50) rotate(-90)">IL-17<tspan dy="-2.60" font-size="4.68">+</tspan><tspan dy="2.60">CD4</tspan><tspan dy="-2.60" font-size="4.68">+</tspan><tspan dy="2.60"> T cells (×10</tspan><tspan dy="-2.60" font-size="4.68">6</tspan><tspan dy="2.60">)</tspan></text>
<line x1="523.00" y1="744.50" x2="569.00" y2="744.50" stroke="#8a8a8a" stroke-width="0.65"/>
<text text-anchor="middle" x="546.00" y="742.80">ns</text>
<line x1="523.00" y1="752.50" x2="546.00" y2="752.50" stroke="#1c1c1c" stroke-width="0.65"/>
<text text-anchor="middle" font-size="9.00" x="534.50" y="753.60">*</text>
<line x1="551.00" y1="752.50" x2="569.00" y2="752.50" stroke="#8a8a8a" stroke-width="0.65"/>
<text text-anchor="middle" x="560.00" y="751.00">ns</text>
<text text-anchor="end" x="511.60" y="833.60">Recipient</text>
<text text-anchor="end" x="511.60" y="844.00">Donor</text>
<text text-anchor="end" x="512.00" y="851.80">T2-MZP</text>
<text text-anchor="middle" x="524.30" y="833.60">WT</text>
<text text-anchor="middle" x="547.30" y="833.60">WT</text>
<text text-anchor="middle" x="570.30" y="833.60">WT</text>
<text text-anchor="middle" font-size="6.00" x="524.30" y="843.70">−</text>
<text text-anchor="middle" x="547.30" y="844.00">WT</text>
<text text-anchor="middle" x="570.70" y="844.00"><tspan font-style="italic">Cd1d</tspan><tspan dy="-2.60" font-size="4.68">−/−</tspan></text>
<line x1="45.60" y1="879.50" x2="434.60" y2="879.50" stroke="#1c1c1c" stroke-width="0.70"/>
<text text-anchor="middle" x="297.80" y="876.00">Gated on live CD19<tspan dy="-2.60" font-size="4.68">−</tspan><tspan dy="2.60">CD1d-tetramer</tspan><tspan dy="-2.60" font-size="4.68">+</tspan><tspan dy="2.60">CD3</tspan><tspan dy="-2.60" font-size="4.68">int</tspan><tspan dy="2.60"> cells</tspan></text>
<text text-anchor="middle" x="85.00" y="890.40">FMO</text>
<text text-anchor="middle" x="193.40" y="890.40">No transfer</text>
<text text-anchor="middle" x="294.40" y="890.40">WT T2-MZP transfer</text>
<text text-anchor="middle" x="392.80" y="890.40"><tspan font-style="italic">Cd1d</tspan><tspan dy="-2.60" font-size="4.68">−/−</tspan><tspan dy="2.60"> T2-MZP transfer</tspan></text>
<defs><radialGradient id="gb" cx="0.42" cy="0.72" r="0.6"><stop offset="0" stop-color="#cfcfcf"/><stop offset="0.45" stop-color="#a8a8a8"/><stop offset="1" stop-color="#4a4a4a"/></radialGradient><linearGradient id="gc" x1="0" y1="0" x2="0" y2="1"><stop offset="0" stop-color="#d6d6d6"/><stop offset="0.55" stop-color="#c4c4c4"/><stop offset="0.8" stop-color="#b4b4b4" stop-opacity="0.6"/><stop offset="1" stop-color="#a8a8a8" stop-opacity="0"/></linearGradient></defs>
<clipPath id="cp9"><rect x="45.00" y="891.80" width="82.20" height="82.80"/></clipPath><g clip-path="url(#cp9)">
<rect x="67.40" y="949.80" width="29.20" height="9.20" rx="4.60" fill="#9a9a9a" stroke="#1c1c1c" stroke-width="0.9"/>
<rect x="69.00" y="951.10" width="26.00" height="6.60" rx="3.30" fill="#b4b4b4" stroke="#222" stroke-width="0.3"/>
<rect x="70.40" y="952.10" width="23.20" height="4.60" rx="2.30" fill="#8a8a8a" stroke="#222" stroke-width="0.3"/>
<ellipse cx="73.60" cy="954.40" rx="1.50" ry="1.20" fill="#6a6a6a" stroke="#222" stroke-width="0.28"/>
<ellipse cx="77.80" cy="954.40" rx="1.50" ry="1.20" fill="#6a6a6a" stroke="#222" stroke-width="0.28"/>
<ellipse cx="82.00" cy="954.40" rx="1.50" ry="1.20" fill="#6a6a6a" stroke="#222" stroke-width="0.28"/>
<ellipse cx="86.20" cy="954.40" rx="1.50" ry="1.20" fill="#6a6a6a" stroke="#222" stroke-width="0.28"/>
<ellipse cx="90.40" cy="954.40" rx="1.50" ry="1.20" fill="#6a6a6a" stroke="#222" stroke-width="0.28"/>
</g>
<rect x="60.50" y="899.50" width="37.00" height="38.00" fill="none" stroke="#333" stroke-width="0.55"/>
<rect x="45.50" y="891.50" width="82.00" height="83.00" fill="none" stroke="#333" stroke-width="0.65"/>
<line x1="42.00" y1="900.50" x2="45.00" y2="900.50" stroke="#1c1c1c" stroke-width="0.60"/>
<text text-anchor="end" font-size="4.80" x="39.40" y="901.73">10<tspan dy="-1.92" font-size="3.46">5</tspan></text>
<line x1="42.00" y1="919.50" x2="45.00" y2="919.50" stroke="#1c1c1c" stroke-width="0.60"/>
<text text-anchor="end" font-size="4.80" x="39.40" y="920.73">10<tspan dy="-1.92" font-size="3.46">4</tspan></text>
<line x1="42.00" y1="941.50" x2="45.00" y2="941.50" stroke="#1c1c1c" stroke-width="0.60"/>
<text text-anchor="end" font-size="4.80" x="39.40" y="943.33">10<tspan dy="-1.92" font-size="3.46">3</tspan></text>
<line x1="42.00" y1="956.50" x2="45.00" y2="956.50" stroke="#1c1c1c" stroke-width="0.60"/>
<text text-anchor="end" font-size="4.80" x="39.40" y="957.73">0</text>
<line x1="42.00" y1="971.50" x2="45.00" y2="971.50" stroke="#1c1c1c" stroke-width="0.60"/>
<text text-anchor="end" font-size="4.80" x="39.40" y="972.73">−10<tspan dy="-1.92" font-size="3.46">3</tspan></text>
<line x1="54.50" y1="974.60" x2="54.50" y2="976.60" stroke="#1c1c1c" stroke-width="0.60"/>
<text text-anchor="middle" font-size="4.80" x="54.60" y="983.20">0</text>
<line x1="83.50" y1="974.60" x2="83.50" y2="976.60" stroke="#1c1c1c" stroke-width="0.60"/>
<text text-anchor="middle" font-size="4.80" x="84.00" y="983.20">10<tspan dy="-1.92" font-size="3.46">3</tspan></text>
<line x1="101.50" y1="974.60" x2="101.50" y2="976.60" stroke="#1c1c1c" stroke-width="0.60"/>
<text text-anchor="middle" font-size="4.80" x="102.60" y="983.20">10<tspan dy="-1.92" font-size="3.46">4</tspan></text>
<line x1="120.50" y1="974.60" x2="120.50" y2="976.60" stroke="#1c1c1c" stroke-width="0.60"/>
<text text-anchor="middle" font-size="4.80" x="121.00" y="983.20">10<tspan dy="-1.92" font-size="3.46">5</tspan></text>
<path d="M44.0,894.3h1M44.0,913.3h1M44.0,909.9h1M44.0,907.6h1M44.0,905.7h1M44.0,904.2h1M44.0,902.9h1M44.0,901.8h1M44.0,900.9h1M44.0,934.8h1M44.0,930.8h1M44.0,928.0h1M44.0,925.8h1M44.0,924.0h1M44.0,922.5h1M44.0,921.2h1M44.0,920.0h1M69.7,974.6v1M73.1,974.6v1M75.4,974.6v1M77.3,974.6v1M78.8,974.6v1M80.1,974.6v1M81.2,974.6v1M82.1,974.6v1M88.6,974.6v1M91.9,974.6v1M94.2,974.6v1M96.0,974.6v1M97.5,974.6v1M98.7,974.6v1M99.8,974.6v1M100.7,974.6v1M107.1,974.6v1M110.4,974.6v1M112.7,974.6v1M114.5,974.6v1M115.9,974.6v1M117.1,974.6v1M118.2,974.6v1M119.2,974.6v1M125.7,974.6v1" stroke="#1c1c1c" stroke-width="0.35" fill="none"/>
<rect x="43.20" y="954.60" width="1.80" height="2.80" fill="#1c1c1c"/>
<rect x="53.20" y="974.60" width="2.80" height="1.40" fill="#1c1c1c"/>
<text x="99.60" y="906.80">0</text>
<clipPath id="cp10"><rect x="148.40" y="891.80" width="82.20" height="82.80"/></clipPath><g clip-path="url(#cp10)">
<path d="M181.8,908.0C182.4,908.0 182.9,909.8 183.4,911.0C183.9,912.2 184.6,913.7 185.0,915.0C185.4,916.3 185.6,917.5 186.0,919.0C186.4,920.5 187.0,922.2 187.2,924.0C187.4,925.8 187.4,927.8 187.4,930.0C187.4,932.2 187.2,934.8 187.4,937.0C187.6,939.2 187.8,941.4 188.4,943.0C189.0,944.6 189.7,945.6 191.0,946.6C192.3,947.6 194.6,948.3 196.0,949.0C197.4,949.7 198.9,950.2 199.6,951.0C200.3,951.8 200.5,952.5 200.4,953.6C200.3,954.7 199.7,956.5 199.0,957.6C198.3,958.7 197.5,959.4 196.0,960.0C194.5,960.6 192.3,960.8 190.0,961.0C187.7,961.2 184.5,961.1 182.0,961.0C179.5,960.9 176.9,960.8 175.0,960.4C173.1,960.0 171.7,959.5 170.6,958.4C169.5,957.3 168.9,955.4 168.7,954.0C168.5,952.6 169.0,951.3 169.6,950.0C170.2,948.7 171.4,947.6 172.0,946.4C172.6,945.2 173.0,944.6 173.4,943.0C173.8,941.4 173.9,939.0 174.3,937.0C174.7,935.0 175.2,932.8 175.6,931.0C175.9,929.2 176.0,927.8 176.4,926.0C176.8,924.2 177.6,921.8 178.0,920.0C178.4,918.2 178.5,916.5 178.8,915.0C179.1,913.5 179.5,912.2 180.0,911.0C180.5,909.8 181.2,908.0 181.8,908.0Z" fill="url(#gb)" stroke="#1c1c1c" stroke-width="1.20" stroke-linejoin="round"/>
<path d="M182.0,920.0C182.8,920.0 184.0,920.0 184.6,921.0C185.2,922.0 185.6,924.2 185.8,926.0C186.0,927.8 186.0,930.0 186.0,932.0C186.0,934.0 185.9,936.2 186.0,938.0C186.1,939.8 186.9,941.7 186.6,943.0C186.3,944.3 185.3,945.5 184.0,946.0C182.7,946.5 180.4,946.4 179.0,946.0C177.6,945.6 176.1,944.9 175.6,943.6C175.1,942.3 175.7,939.9 176.0,938.0C176.3,936.1 176.9,934.0 177.2,932.0C177.5,930.0 177.6,927.8 178.0,926.0C178.4,924.2 178.9,922.0 179.6,921.0C180.3,920.0 181.2,920.0 182.0,920.0Z" fill="url(#gc)" stroke-linejoin="round"/>
<path d="M181.8,908.0C182.4,908.0 182.9,909.8 183.4,911.0C183.9,912.2 184.6,913.7 185.0,915.0C185.4,916.3 185.7,917.8 186.0,919.0C186.3,920.2 186.8,921.7 186.6,922.0C186.4,922.3 185.3,921.4 184.6,921.0C183.9,920.6 183.2,919.7 182.4,919.6C181.6,919.5 180.7,920.1 180.0,920.6C179.3,921.1 178.3,922.7 178.0,922.6C177.7,922.5 177.9,921.3 178.0,920.0C178.1,918.7 178.5,916.5 178.8,915.0C179.1,913.5 179.5,912.2 180.0,911.0C180.5,909.8 181.2,908.0 181.8,908.0Z" fill="#1c1c1c" stroke-linejoin="round"/>
<ellipse cx="179.40" cy="954.90" rx="6.80" ry="3.30" fill="#b9b9b9" stroke="#222" stroke-width="0.28"/>
<ellipse cx="179.40" cy="954.90" rx="5.30" ry="2.57" fill="#a6a6a6" stroke="#222" stroke-width="0.28"/>
<ellipse cx="179.40" cy="954.90" rx="3.81" ry="1.85" fill="#8e8e8e" stroke="#222" stroke-width="0.28"/>
<ellipse cx="179.40" cy="954.90" rx="2.31" ry="1.12" fill="#707070" stroke="#222" stroke-width="0.28"/>
<ellipse cx="181.10" cy="954.90" rx="0.80" ry="0.60" fill="#111"/>
<path d="M198.0 916.7h.01M185.0 929.9h.01M186.7 919.7h.01M180.2 931.7h.01M186.6 926.9h.01M178.3 928.1h.01M187.6 920.2h.01M186.7 943.0h.01M172.1 927.9h.01M176.2 908.8h.01M181.6 927.3h.01M183.3 910.7h.01M174.7 916.6h.01M183.1 914.0h.01M174.3 939.0h.01M178.1 920.5h.01M179.8 916.3h.01M183.2 919.1h.01M186.6 910.5h.01M174.4 940.9h.01M182.6 929.4h.01M189.8 927.4h.01M183.2 906.9h.01M173.7 931.5h.01M186.9 927.5h.01M173.4 901.4h.01M176.9 910.6h.01M183.9 912.1h.01M192.2 916.0h.01M179.7 930.4h.01M184.9 913.3h.01M187.8 940.6h.01M175.9 919.6h.01M176.7 903.2h.01M186.6 928.8h.01M188.7 926.2h.01M171.3 921.7h.01M179.1 910.6h.01M176.6 929.4h.01M181.3 941.1h.01M185.7 903.5h.01M188.2 934.1h.01M183.2 910.2h.01M193.3 909.2h.01M182.5 903.5h.01M175.7 905.5h.01M189.4 933.5h.01M180.6 908.8h.01M182.6 925.7h.01M174.1 910.7h.01M182.4 928.9h.01M183.4 926.4h.01M175.7 897.7h.01M184.8 913.1h.01M182.3 918.3h.01M185.8 914.5h.01M191.5 922.3h.01M186.1 928.1h.01M189.1 925.9h.01M172.8 915.9h.01M193.9 926.6h.01M186.3 926.6h.01M179.2 915.4h.01M179.2 933.3h.01M185.1 939.4h.01M185.9 940.5h.01M185.7 910.4h.01M193.2 925.3h.01M190.0 924.1h.01M181.1 923.7h.01M176.4 910.3h.01M177.8 916.9h.01M175.0 921.0h.01M184.8 941.9h.01M193.8 921.5h.01M188.2 919.8h.01M185.3 921.7h.01M179.8 922.7h.01M174.3 926.3h.01M181.3 911.4h.01M180.9 927.4h.01M179.0 926.7h.01M186.4 937.3h.01M176.6 920.9h.01M186.0 936.8h.01M184.5 929.4h.01M174.3 916.3h.01M192.8 919.2h.01M195.8 914.8h.01M181.4 906.3h.01" stroke="#777" stroke-width="0.33" stroke-linecap="round" fill="none"/>
<path d="M192.3 952.1h.01M205.9 951.3h.01M183.5 938.9h.01M185.2 957.5h.01M193.3 959.7h.01M194.5 949.6h.01M192.0 951.4h.01M172.8 963.5h.01M189.7 941.7h.01M189.8 952.3h.01M195.8 961.4h.01M156.0 954.4h.01M201.1 942.5h.01M167.6 952.2h.01M189.3 952.8h.01M175.0 946.3h.01M187.9 955.9h.01M207.7 952.3h.01M180.0 931.3h.01M196.6 949.0h.01M184.9 942.2h.01M193.3 935.8h.01M187.1 951.0h.01M189.0 960.3h.01M185.0 950.7h.01M194.5 937.7h.01M183.1 950.5h.01M195.5 943.6h.01M194.0 953.1h.01M171.2 938.3h.01" stroke="#999" stroke-width="0.30" stroke-linecap="round" fill="none"/>
</g>
<rect x="164.50" y="899.50" width="37.00" height="38.00" fill="none" stroke="#333" stroke-width="0.55"/>
<rect x="148.50" y="891.50" width="82.00" height="83.00" fill="none" stroke="#333" stroke-width="0.65"/>
<line x1="145.40" y1="900.50" x2="148.40" y2="900.50" stroke="#1c1c1c" stroke-width="0.60"/>
<text text-anchor="end" font-size="4.80" x="142.80" y="901.73">10<tspan dy="-1.92" font-size="3.46">5</tspan></text>
<line x1="145.40" y1="919.50" x2="148.40" y2="919.50" stroke="#1c1c1c" stroke-width="0.60"/>
<text text-anchor="end" font-size="4.80" x="142.80" y="920.73">10<tspan dy="-1.92" font-size="3.46">4</tspan></text>
<line x1="145.40" y1="941.50" x2="148.40" y2="941.50" stroke="#1c1c1c" stroke-width="0.60"/>
<text text-anchor="end" font-size="4.80" x="142.80" y="943.33">10<tspan dy="-1.92" font-size="3.46">3</tspan></text>
<line x1="145.40" y1="956.50" x2="148.40" y2="956.50" stroke="#1c1c1c" stroke-width="0.60"/>
<text text-anchor="end" font-size="4.80" x="142.80" y="957.73">0</text>
<line x1="145.40" y1="971.50" x2="148.40" y2="971.50" stroke="#1c1c1c" stroke-width="0.60"/>
<text text-anchor="end" font-size="4.80" x="142.80" y="972.73">−10<tspan dy="-1.92" font-size="3.46">3</tspan></text>
<line x1="158.50" y1="974.60" x2="158.50" y2="976.60" stroke="#1c1c1c" stroke-width="0.60"/>
<text text-anchor="middle" font-size="4.80" x="158.00" y="983.20">0</text>
<line x1="186.50" y1="974.60" x2="186.50" y2="976.60" stroke="#1c1c1c" stroke-width="0.60"/>
<text text-anchor="middle" font-size="4.80" x="187.40" y="983.20">10<tspan dy="-1.92" font-size="3.46">3</tspan></text>
<line x1="205.50" y1="974.60" x2="205.50" y2="976.60" stroke="#1c1c1c" stroke-width="0.60"/>
<text text-anchor="middle" font-size="4.80" x="206.00" y="983.20">10<tspan dy="-1.92" font-size="3.46">4</tspan></text>
<line x1="223.50" y1="974.60" x2="223.50" y2="976.60" stroke="#1c1c1c" stroke-width="0.60"/>
<text text-anchor="middle" font-size="4.80" x="224.40" y="983.20">10<tspan dy="-1.92" font-size="3.46">5</tspan></text>
<path d="M147.4,894.3h1M147.4,913.3h1M147.4,909.9h1M147.4,907.6h1M147.4,905.7h1M147.4,904.2h1M147.4,902.9h1M147.4,901.8h1M147.4,900.9h1M147.4,934.8h1M147.4,930.8h1M147.4,928.0h1M147.4,925.8h1M147.4,924.0h1M147.4,922.5h1M147.4,921.2h1M147.4,920.0h1M173.1,974.6v1M176.5,974.6v1M178.8,974.6v1M180.7,974.6v1M182.2,974.6v1M183.5,974.6v1M184.6,974.6v1M185.5,974.6v1M192.0,974.6v1M195.3,974.6v1M197.6,974.6v1M199.4,974.6v1M200.9,974.6v1M202.1,974.6v1M203.2,974.6v1M204.1,974.6v1M210.5,974.6v1M213.8,974.6v1M216.1,974.6v1M217.9,974.6v1M219.3,974.6v1M220.5,974.6v1M221.6,974.6v1M222.6,974.6v1M229.1,974.6v1" stroke="#1c1c1c" stroke-width="0.35" fill="none"/>
<rect x="146.60" y="954.60" width="1.80" height="2.80" fill="#1c1c1c"/>
<rect x="156.60" y="974.60" width="2.80" height="1.40" fill="#1c1c1c"/>
<text x="203.00" y="906.80">4.17</text>
<clipPath id="cp11"><rect x="251.00" y="891.80" width="82.20" height="82.80"/></clipPath><g clip-path="url(#cp11)">
<path d="M286.5,904.4C287.2,904.4 287.9,906.0 288.6,907.0C289.4,908.0 290.3,909.2 291.0,910.5C291.7,911.8 292.1,913.1 292.6,915.0C293.1,916.9 293.6,919.5 293.9,922.0C294.2,924.5 294.2,927.4 294.3,930.0C294.4,932.6 294.2,934.8 294.5,937.4C294.8,940.0 295.4,943.5 296.2,945.6C296.9,947.7 298.2,948.4 299.0,950.0C299.8,951.6 300.7,953.5 300.9,955.0C301.1,956.5 300.8,957.9 300.0,959.0C299.2,960.1 297.8,960.9 296.0,961.4C294.2,961.9 291.5,961.9 289.0,962.0C286.5,962.1 283.3,962.1 281.0,961.8C278.7,961.5 276.5,961.0 275.0,960.4C273.5,959.8 272.4,958.9 271.8,958.0C271.2,957.1 271.1,956.3 271.1,955.0C271.1,953.7 271.6,951.6 272.0,950.0C272.4,948.4 272.9,947.7 273.4,945.6C273.9,943.5 274.8,940.0 275.2,937.4C275.6,934.8 275.6,932.6 276.0,930.0C276.4,927.4 276.9,924.5 277.5,922.0C278.1,919.5 278.9,916.9 279.6,915.0C280.3,913.1 280.8,911.8 281.6,910.5C282.4,909.2 283.6,908.0 284.4,907.0C285.2,906.0 285.8,904.4 286.5,904.4Z" fill="url(#gb)" stroke="#1c1c1c" stroke-width="1.30" stroke-linejoin="round"/>
<path d="M286.4,908.6C287.4,908.6 288.6,910.4 289.4,911.6C290.2,912.8 290.5,914.3 291.0,916.0C291.5,917.7 291.9,919.7 292.2,922.0C292.5,924.3 292.5,927.3 292.6,930.0C292.7,932.7 292.6,935.7 292.8,938.0C293.0,940.3 294.1,942.4 293.6,944.0C293.1,945.6 291.8,946.9 290.0,947.6C288.2,948.3 285.2,948.3 283.0,948.0C280.8,947.7 278.0,947.7 277.0,946.0C276.0,944.3 276.7,940.7 276.8,938.0C276.9,935.3 277.4,932.7 277.8,930.0C278.2,927.3 278.7,924.3 279.2,922.0C279.7,919.7 280.3,917.7 281.0,916.0C281.7,914.3 282.5,912.8 283.4,911.6C284.3,910.4 285.4,908.6 286.4,908.6Z" fill="url(#gc)" stroke-linejoin="round"/>
<path d="M286.5,904.2C287.1,904.2 287.8,905.9 288.4,906.8C289.0,907.7 290.0,909.2 290.0,909.6C290.0,910.0 289.0,909.6 288.4,909.4C287.8,909.2 287.0,908.3 286.4,908.4C285.8,908.5 285.1,909.6 284.6,909.8C284.1,910.0 283.2,910.1 283.2,909.6C283.2,909.1 284.1,907.7 284.6,906.8C285.2,905.9 285.9,904.2 286.5,904.2Z" fill="#1c1c1c" stroke-linejoin="round"/>
<ellipse cx="286.30" cy="954.30" rx="9.00" ry="4.00" fill="#b9b9b9" stroke="#222" stroke-width="0.28"/>
<ellipse cx="286.30" cy="954.30" rx="7.02" ry="3.12" fill="#a6a6a6" stroke="#222" stroke-width="0.28"/>
<ellipse cx="286.30" cy="954.30" rx="5.04" ry="2.24" fill="#8e8e8e" stroke="#222" stroke-width="0.28"/>
<ellipse cx="286.30" cy="954.30" rx="3.06" ry="1.36" fill="#707070" stroke="#222" stroke-width="0.28"/>
<ellipse cx="288.55" cy="954.30" rx="0.80" ry="0.60" fill="#111"/>
<path d="M275.6 926.7h.01M288.6 933.6h.01M293.5 918.4h.01M295.5 934.8h.01M290.7 930.7h.01M276.8 929.3h.01M278.8 910.8h.01M284.2 926.7h.01M286.6 921.1h.01M279.0 927.2h.01M281.1 908.2h.01M287.7 942.3h.01M283.8 912.3h.01M298.0 945.4h.01M284.7 922.5h.01M288.7 960.2h.01M288.1 936.9h.01M290.5 903.3h.01M278.2 910.3h.01M290.4 926.3h.01M301.3 921.8h.01M289.5 925.9h.01M288.1 952.7h.01M289.3 942.6h.01M297.3 917.7h.01M292.5 920.4h.01M287.9 926.9h.01M287.2 919.4h.01M299.4 921.8h.01M292.6 945.1h.01M292.0 937.3h.01M298.1 938.0h.01M300.7 907.9h.01M302.6 925.3h.01M273.1 917.3h.01M275.9 924.7h.01M275.1 913.0h.01M289.4 926.9h.01M280.6 922.2h.01M286.2 925.9h.01M286.9 922.4h.01M294.0 905.8h.01M283.1 926.6h.01M283.8 918.4h.01M283.5 927.5h.01M296.9 922.8h.01M284.9 929.3h.01M285.1 901.8h.01M289.1 920.5h.01M282.4 932.5h.01M287.4 918.2h.01M269.6 904.4h.01M287.1 923.6h.01M290.5 927.7h.01M283.2 909.8h.01M278.2 923.3h.01M277.8 934.1h.01M276.4 903.5h.01M285.5 903.7h.01M300.0 913.1h.01M286.6 922.1h.01M280.4 903.8h.01M272.1 935.4h.01M295.2 951.0h.01M275.3 931.7h.01M286.9 935.1h.01M282.9 933.7h.01M294.2 932.3h.01M298.6 922.9h.01M299.3 916.6h.01" stroke="#888" stroke-width="0.33" stroke-linecap="round" fill="none"/>
<path d="M308.3 928.0h.01M295.1 943.6h.01M295.0 958.2h.01M300.7 950.8h.01M308.6 938.2h.01M288.5 962.1h.01M297.6 933.4h.01M297.7 940.5h.01M306.8 959.2h.01M290.6 960.3h.01M288.3 957.4h.01M299.6 949.0h.01M283.6 947.8h.01M276.7 945.5h.01M280.2 959.7h.01M287.3 930.5h.01M299.7 953.0h.01M290.9 966.9h.01M301.2 950.5h.01M289.8 926.4h.01" stroke="#999" stroke-width="0.30" stroke-linecap="round" fill="none"/>
</g>
<rect x="267.50" y="899.50" width="37.00" height="38.00" fill="none" stroke="#333" stroke-width="0.55"/>
<rect x="251.50" y="891.50" width="82.00" height="83.00" fill="none" stroke="#333" stroke-width="0.65"/>
<line x1="248.00" y1="900.50" x2="251.00" y2="900.50" stroke="#1c1c1c" stroke-width="0.60"/>
<text text-anchor="end" font-size="4.80" x="245.40" y="901.73">10<tspan dy="-1.92" font-size="3.46">5</tspan></text>
<line x1="248.00" y1="919.50" x2="251.00" y2="919.50" stroke="#1c1c1c" stroke-width="0.60"/>
<text text-anchor="end" font-size="4.80" x="245.40" y="920.73">10<tspan dy="-1.92" font-size="3.46">4</tspan></text>
<line x1="248.00" y1="941.50" x2="251.00" y2="941.50" stroke="#1c1c1c" stroke-width="0.60"/>
<text text-anchor="end" font-size="4.80" x="245.40" y="943.33">10<tspan dy="-1.92" font-size="3.46">3</tspan></text>
<line x1="248.00" y1="956.50" x2="251.00" y2="956.50" stroke="#1c1c1c" stroke-width="0.60"/>
<text text-anchor="end" font-size="4.80" x="245.40" y="957.73">0</text>
<line x1="248.00" y1="971.50" x2="251.00" y2="971.50" stroke="#1c1c1c" stroke-width="0.60"/>
<text text-anchor="end" font-size="4.80" x="245.40" y="972.73">−10<tspan dy="-1.92" font-size="3.46">3</tspan></text>
<line x1="260.50" y1="974.60" x2="260.50" y2="976.60" stroke="#1c1c1c" stroke-width="0.60"/>
<text text-anchor="middle" font-size="4.80" x="260.60" y="983.20">0</text>
<line x1="289.50" y1="974.60" x2="289.50" y2="976.60" stroke="#1c1c1c" stroke-width="0.60"/>
<text text-anchor="middle" font-size="4.80" x="290.00" y="983.20">10<tspan dy="-1.92" font-size="3.46">3</tspan></text>
<line x1="307.50" y1="974.60" x2="307.50" y2="976.60" stroke="#1c1c1c" stroke-width="0.60"/>
<text text-anchor="middle" font-size="4.80" x="308.60" y="983.20">10<tspan dy="-1.92" font-size="3.46">4</tspan></text>
<line x1="326.50" y1="974.60" x2="326.50" y2="976.60" stroke="#1c1c1c" stroke-width="0.60"/>
<text text-anchor="middle" font-size="4.80" x="327.00" y="983.20">10<tspan dy="-1.92" font-size="3.46">5</tspan></text>
<path d="M250.0,894.3h1M250.0,913.3h1M250.0,909.9h1M250.0,907.6h1M250.0,905.7h1M250.0,904.2h1M250.0,902.9h1M250.0,901.8h1M250.0,900.9h1M250.0,934.8h1M250.0,930.8h1M250.0,928.0h1M250.0,925.8h1M250.0,924.0h1M250.0,922.5h1M250.0,921.2h1M250.0,920.0h1M275.7,974.6v1M279.1,974.6v1M281.4,974.6v1M283.3,974.6v1M284.8,974.6v1M286.1,974.6v1M287.2,974.6v1M288.1,974.6v1M294.6,974.6v1M297.9,974.6v1M300.2,974.6v1M302.0,974.6v1M303.5,974.6v1M304.7,974.6v1M305.8,974.6v1M306.7,974.6v1M313.1,974.6v1M316.4,974.6v1M318.7,974.6v1M320.5,974.6v1M321.9,974.6v1M323.1,974.6v1M324.2,974.6v1M325.2,974.6v1M331.7,974.6v1" stroke="#1c1c1c" stroke-width="0.35" fill="none"/>
<rect x="249.20" y="954.60" width="1.80" height="2.80" fill="#1c1c1c"/>
<rect x="259.20" y="974.60" width="2.80" height="1.40" fill="#1c1c1c"/>
<text x="306.00" y="906.80">8.74</text>
<clipPath id="cp12"><rect x="350.60" y="891.80" width="82.20" height="82.80"/></clipPath><g clip-path="url(#cp12)">
<path d="M383.8,907.8C384.4,907.9 385.1,909.0 385.6,910.0C386.1,911.0 386.7,912.7 387.0,914.0C387.3,915.3 387.1,916.5 387.2,918.0C387.3,919.5 387.3,921.5 387.4,923.0C387.5,924.5 387.8,925.5 388.0,927.0C388.2,928.5 388.3,930.3 388.4,932.0C388.5,933.7 388.5,935.7 388.8,937.4C389.1,939.1 389.5,940.6 390.0,942.0C390.5,943.4 390.8,944.5 392.0,945.6C393.2,946.7 395.6,947.7 397.0,948.6C398.4,949.5 399.8,950.1 400.6,951.0C401.4,951.9 401.6,952.8 401.6,954.0C401.6,955.2 401.2,957.0 400.4,958.0C399.6,959.0 398.7,959.7 397.0,960.2C395.3,960.7 392.3,960.9 390.0,961.0C387.7,961.1 385.2,961.1 383.0,961.0C380.8,960.9 378.3,960.8 376.6,960.4C374.9,960.0 373.6,959.5 372.6,958.6C371.6,957.7 371.0,956.3 370.8,955.0C370.6,953.7 370.9,952.0 371.4,950.6C371.9,949.2 373.0,948.0 373.6,946.6C374.2,945.2 374.4,943.5 374.8,942.0C375.2,940.5 375.7,939.1 376.0,937.4C376.3,935.7 376.6,933.7 376.8,932.0C377.0,930.3 377.0,928.7 377.4,927.0C377.8,925.3 378.6,923.7 379.0,922.0C379.4,920.3 379.3,918.6 379.6,917.0C379.9,915.4 380.2,913.8 380.6,912.6C381.0,911.4 381.5,910.4 382.0,909.6C382.5,908.8 383.2,907.7 383.8,907.8Z" fill="url(#gb)" stroke="#1c1c1c" stroke-width="1.20" stroke-linejoin="round"/>
<path d="M383.0,927.0C384.1,926.8 385.3,927.0 386.0,928.0C386.7,929.0 386.8,931.3 387.0,933.0C387.2,934.7 387.2,936.3 387.4,938.0C387.6,939.7 388.4,941.6 388.0,943.0C387.6,944.4 386.3,945.8 385.0,946.4C383.7,947.0 381.4,947.0 380.0,946.6C378.6,946.2 377.0,945.4 376.6,944.0C376.2,942.6 377.1,939.8 377.4,938.0C377.7,936.2 377.9,934.5 378.2,933.0C378.5,931.5 378.6,930.0 379.4,929.0C380.2,928.0 381.9,927.2 383.0,927.0Z" fill="url(#gc)" stroke-linejoin="round"/>
<path d="M383.8,907.8C384.4,907.9 385.1,909.0 385.6,910.0C386.1,911.0 386.7,912.7 387.0,914.0C387.3,915.3 387.1,916.5 387.2,918.0C387.3,919.5 387.3,921.5 387.4,923.0C387.5,924.5 388.0,925.8 388.0,927.0C388.0,928.2 388.0,929.9 387.6,930.0C387.2,930.1 386.4,928.2 385.6,927.6C384.8,927.0 383.8,926.4 383.0,926.4C382.2,926.4 381.4,926.9 380.6,927.4C379.8,927.9 378.9,929.7 378.4,929.6C377.9,929.5 377.5,928.3 377.6,927.0C377.7,925.7 378.7,923.7 379.0,922.0C379.3,920.3 379.3,918.6 379.6,917.0C379.9,915.4 380.2,913.8 380.6,912.6C381.0,911.4 381.5,910.4 382.0,909.6C382.5,908.8 383.2,907.7 383.8,907.8Z" fill="#1c1c1c" stroke-linejoin="round"/>
<ellipse cx="381.80" cy="954.30" rx="8.00" ry="3.30" fill="#b9b9b9" stroke="#222" stroke-width="0.28"/>
<ellipse cx="381.80" cy="954.30" rx="6.24" ry="2.57" fill="#a6a6a6" stroke="#222" stroke-width="0.28"/>
<ellipse cx="381.80" cy="954.30" rx="4.48" ry="1.85" fill="#8e8e8e" stroke="#222" stroke-width="0.28"/>
<ellipse cx="381.80" cy="954.30" rx="2.72" ry="1.12" fill="#707070" stroke="#222" stroke-width="0.28"/>
<ellipse cx="383.80" cy="954.30" rx="0.80" ry="0.60" fill="#111"/>
<path d="M386.9 929.6h.01M380.4 905.9h.01M383.7 903.3h.01M384.0 927.7h.01M393.1 922.7h.01M385.2 927.5h.01M392.4 916.8h.01M376.6 912.1h.01M376.4 911.1h.01M383.3 923.4h.01M384.9 920.7h.01M381.9 924.2h.01M389.3 927.6h.01M393.0 917.1h.01M382.5 936.9h.01M385.2 924.1h.01M382.0 929.7h.01M381.6 909.9h.01M383.6 915.6h.01M389.0 916.2h.01M384.7 917.8h.01M386.0 913.7h.01M390.6 905.8h.01M381.7 912.9h.01M387.9 920.4h.01M386.9 916.7h.01M379.7 908.8h.01M382.0 914.6h.01M385.7 923.5h.01M389.9 918.9h.01M379.5 909.4h.01M384.4 923.6h.01M395.7 921.8h.01M394.5 938.7h.01M377.7 932.1h.01M390.8 933.5h.01M383.9 929.6h.01M381.1 919.3h.01M384.1 937.8h.01M382.7 929.6h.01M384.4 912.9h.01M385.5 926.6h.01M379.7 926.3h.01M379.7 911.2h.01M385.3 917.6h.01M378.1 903.7h.01M384.1 922.4h.01M381.2 921.9h.01M374.8 923.9h.01M386.5 922.8h.01M380.3 920.8h.01M384.8 930.7h.01M385.7 922.5h.01M379.7 928.6h.01M391.0 915.1h.01M387.8 923.1h.01M383.7 907.1h.01M394.5 901.3h.01M385.8 916.2h.01M390.9 915.8h.01M384.2 926.1h.01M386.7 914.8h.01M388.1 923.9h.01M389.9 914.9h.01M383.7 916.1h.01M379.0 922.5h.01M386.5 934.2h.01M382.1 923.9h.01M390.8 918.9h.01M384.4 921.3h.01M379.9 910.1h.01M390.7 921.7h.01M383.6 907.6h.01M384.7 931.7h.01M377.1 911.1h.01M390.6 934.3h.01M393.3 914.5h.01M387.6 912.5h.01M387.1 916.4h.01M385.2 933.4h.01M386.0 917.6h.01M384.3 922.6h.01M380.9 922.1h.01M387.6 935.5h.01M371.7 908.2h.01M376.6 928.7h.01M398.6 921.9h.01M384.7 931.3h.01M369.4 918.2h.01M365.4 921.5h.01M381.0 915.2h.01M386.0 914.2h.01M390.6 920.0h.01M386.3 945.2h.01M381.3 929.2h.01M379.1 932.4h.01M389.7 921.4h.01M389.9 936.0h.01M392.2 920.0h.01M383.7 931.0h.01" stroke="#777" stroke-width="0.33" stroke-linecap="round" fill="none"/>
<path d="M373.4 945.2h.01M392.8 954.5h.01M406.5 964.0h.01M391.2 953.5h.01M374.9 948.5h.01M390.6 948.2h.01M388.6 954.8h.01M378.6 945.5h.01M370.4 959.1h.01M377.6 936.5h.01M395.6 948.3h.01M397.6 947.1h.01M409.0 955.7h.01M389.5 950.9h.01M386.0 956.4h.01M407.8 946.7h.01M377.2 954.7h.01M398.6 938.2h.01M381.2 942.1h.01M393.6 954.0h.01M380.7 941.1h.01M394.7 933.8h.01M394.4 948.8h.01M407.0 957.9h.01M382.3 947.8h.01M385.3 944.3h.01M388.8 957.6h.01M373.1 948.2h.01M402.7 955.9h.01M380.0 943.6h.01" stroke="#999" stroke-width="0.30" stroke-linecap="round" fill="none"/>
</g>
<rect x="366.50" y="899.50" width="37.00" height="38.00" fill="none" stroke="#333" stroke-width="0.55"/>
<rect x="350.50" y="891.50" width="82.00" height="83.00" fill="none" stroke="#333" stroke-width="0.65"/>
<line x1="347.60" y1="900.50" x2="350.60" y2="900.50" stroke="#1c1c1c" stroke-width="0.60"/>
<text text-anchor="end" font-size="4.80" x="345.00" y="901.73">10<tspan dy="-1.92" font-size="3.46">5</tspan></text>
<line x1="347.60" y1="919.50" x2="350.60" y2="919.50" stroke="#1c1c1c" stroke-width="0.60"/>
<text text-anchor="end" font-size="4.80" x="345.00" y="920.73">10<tspan dy="-1.92" font-size="3.46">4</tspan></text>
<line x1="347.60" y1="941.50" x2="350.60" y2="941.50" stroke="#1c1c1c" stroke-width="0.60"/>
<text text-anchor="end" font-size="4.80" x="345.00" y="943.33">10<tspan dy="-1.92" font-size="3.46">3</tspan></text>
<line x1="347.60" y1="956.50" x2="350.60" y2="956.50" stroke="#1c1c1c" stroke-width="0.60"/>
<text text-anchor="end" font-size="4.80" x="345.00" y="957.73">0</text>
<line x1="347.60" y1="971.50" x2="350.60" y2="971.50" stroke="#1c1c1c" stroke-width="0.60"/>
<text text-anchor="end" font-size="4.80" x="345.00" y="972.73">−10<tspan dy="-1.92" font-size="3.46">3</tspan></text>
<line x1="360.50" y1="974.60" x2="360.50" y2="976.60" stroke="#1c1c1c" stroke-width="0.60"/>
<text text-anchor="middle" font-size="4.80" x="360.20" y="983.20">0</text>
<line x1="388.50" y1="974.60" x2="388.50" y2="976.60" stroke="#1c1c1c" stroke-width="0.60"/>
<text text-anchor="middle" font-size="4.80" x="389.60" y="983.20">10<tspan dy="-1.92" font-size="3.46">3</tspan></text>
<line x1="407.50" y1="974.60" x2="407.50" y2="976.60" stroke="#1c1c1c" stroke-width="0.60"/>
<text text-anchor="middle" font-size="4.80" x="408.20" y="983.20">10<tspan dy="-1.92" font-size="3.46">4</tspan></text>
<line x1="425.50" y1="974.60" x2="425.50" y2="976.60" stroke="#1c1c1c" stroke-width="0.60"/>
<text text-anchor="middle" font-size="4.80" x="426.60" y="983.20">10<tspan dy="-1.92" font-size="3.46">5</tspan></text>
<path d="M349.6,894.3h1M349.6,913.3h1M349.6,909.9h1M349.6,907.6h1M349.6,905.7h1M349.6,904.2h1M349.6,902.9h1M349.6,901.8h1M349.6,900.9h1M349.6,934.8h1M349.6,930.8h1M349.6,928.0h1M349.6,925.8h1M349.6,924.0h1M349.6,922.5h1M349.6,921.2h1M349.6,920.0h1M375.3,974.6v1M378.7,974.6v1M381.0,974.6v1M382.9,974.6v1M384.4,974.6v1M385.7,974.6v1M386.8,974.6v1M387.7,974.6v1M394.2,974.6v1M397.5,974.6v1M399.8,974.6v1M401.6,974.6v1M403.1,974.6v1M404.3,974.6v1M405.4,974.6v1M406.3,974.6v1M412.7,974.6v1M416.0,974.6v1M418.3,974.6v1M420.1,974.6v1M421.5,974.6v1M422.7,974.6v1M423.8,974.6v1M424.8,974.6v1M431.3,974.6v1" stroke="#1c1c1c" stroke-width="0.35" fill="none"/>
<rect x="348.80" y="954.60" width="1.80" height="2.80" fill="#1c1c1c"/>
<rect x="358.80" y="974.60" width="2.80" height="1.40" fill="#1c1c1c"/>
<text x="405.00" y="906.80">4.01</text>
<line x1="24.50" y1="952.00" x2="24.50" y2="896.70" stroke="#1c1c1c" stroke-width="0.70"/>
<polygon points="24.50,893.00 26.40,897.20 22.60,897.20" fill="#1c1c1c"/>
<text transform="translate(26.40 974.40) rotate(-90)">IFN-γ</text>
<text x="49.60" y="997.00">CD3</text>
<line x1="67.00" y1="994.50" x2="428.70" y2="994.50" stroke="#1c1c1c" stroke-width="0.70"/>
<polygon points="432.40,994.50 428.20,996.40 428.20,992.60" fill="#1c1c1c"/>
<rect x="489.40" y="947.64" width="16.20" height="35.36" fill="#1c1c1c"/>
<line x1="497.50" y1="947.64" x2="497.50" y2="940.40" stroke="#1c1c1c" stroke-width="0.60"/>
<line x1="493.61" y1="940.50" x2="501.39" y2="940.50" stroke="#1c1c1c" stroke-width="0.60"/>
<rect x="512.40" y="901.00" width="16.20" height="82.00" fill="#1c1c1c"/>
<line x1="520.50" y1="901.00" x2="520.50" y2="892.42" stroke="#1c1c1c" stroke-width="0.60"/>
<line x1="516.61" y1="892.50" x2="524.39" y2="892.50" stroke="#1c1c1c" stroke-width="0.60"/>
<rect x="535.40" y="951.98" width="16.20" height="31.02" fill="#1c1c1c"/>
<line x1="543.50" y1="951.98" x2="543.50" y2="945.36" stroke="#1c1c1c" stroke-width="0.60"/>
<line x1="539.61" y1="945.50" x2="547.39" y2="945.50" stroke="#1c1c1c" stroke-width="0.60"/>
<line x1="485.50" y1="879.30" x2="485.50" y2="983.30" stroke="#1c1c1c" stroke-width="0.65"/>
<line x1="485.30" y1="983.50" x2="554.60" y2="983.50" stroke="#1c1c1c" stroke-width="0.65"/>
<line x1="483.00" y1="983.50" x2="485.60" y2="983.50" stroke="#1c1c1c" stroke-width="0.60"/>
<text text-anchor="end" x="480.80" y="985.30">0</text>
<line x1="483.00" y1="962.50" x2="485.60" y2="962.50" stroke="#1c1c1c" stroke-width="0.60"/>
<text text-anchor="end" x="480.80" y="964.62">2</text>
<line x1="483.00" y1="941.50" x2="485.60" y2="941.50" stroke="#1c1c1c" stroke-width="0.60"/>
<text text-anchor="end" x="480.80" y="943.94">4</text>
<line x1="483.00" y1="920.50" x2="485.60" y2="920.50" stroke="#1c1c1c" stroke-width="0.60"/>
<text text-anchor="end" x="480.80" y="923.26">6</text>
<line x1="483.00" y1="900.50" x2="485.60" y2="900.50" stroke="#1c1c1c" stroke-width="0.60"/>
<text text-anchor="end" x="480.80" y="902.58">8</text>
<line x1="483.00" y1="879.50" x2="485.60" y2="879.50" stroke="#1c1c1c" stroke-width="0.60"/>
<text text-anchor="end" x="480.80" y="881.90">10</text>
<line x1="497.50" y1="983.00" x2="497.50" y2="985.40" stroke="#1c1c1c" stroke-width="0.60"/>
<line x1="520.50" y1="983.00" x2="520.50" y2="985.40" stroke="#1c1c1c" stroke-width="0.60"/>
<line x1="543.50" y1="983.00" x2="543.50" y2="985.40" stroke="#1c1c1c" stroke-width="0.60"/>
<text text-anchor="middle" transform="translate(463.60 931.70) rotate(-90)">IFN-γ<tspan dy="-2.60" font-size="4.68">+</tspan><tspan dy="2.60"> iNKT cells (%)</tspan></text>
<line x1="498.00" y1="876.50" x2="543.40" y2="876.50" stroke="#1c1c1c" stroke-width="0.65"/>
<text text-anchor="middle" x="520.70" y="874.80">ns</text>
<line x1="498.00" y1="885.50" x2="519.40" y2="885.50" stroke="#1c1c1c" stroke-width="0.65"/>
<text text-anchor="middle" font-size="9.00" x="508.70" y="886.00">**</text>
<line x1="521.40" y1="885.50" x2="544.00" y2="885.50" stroke="#8a8a8a" stroke-width="0.65"/>
<text text-anchor="middle" font-size="9.00" x="532.70" y="886.00">**</text>
<text text-anchor="end" x="485.00" y="993.60">Recipient</text>
<text text-anchor="end" x="485.00" y="1004.40">Donor T2-MZP</text>
<text text-anchor="middle" x="497.50" y="993.60">WT</text>
<text text-anchor="middle" x="520.50" y="993.60">WT</text>
<text text-anchor="middle" x="543.50" y="993.60">WT</text>
<text text-anchor="middle" font-size="6.00" x="497.50" y="1004.20">−</text>
<text text-anchor="middle" x="520.50" y="1004.40">WT</text>
<text text-anchor="middle" x="544.10" y="1004.40"><tspan font-style="italic">Cd1d</tspan><tspan dy="-2.60" font-size="4.68">−/−</tspan></text>
</g>
</svg>
</body></html>
